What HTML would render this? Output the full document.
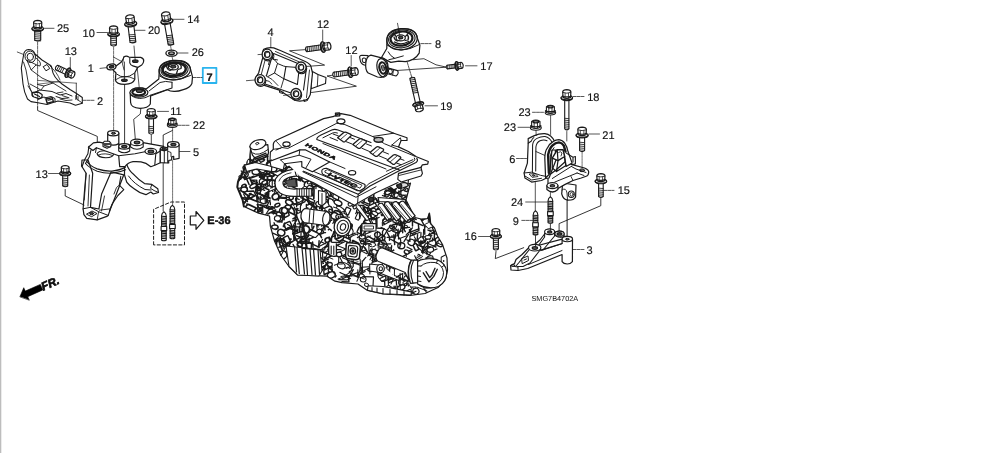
<!DOCTYPE html>
<html><head><meta charset="utf-8"><title>Engine mounts</title>
<style>html,body{margin:0;padding:0;background:#fff;overflow:hidden}svg{display:block}text{font-family:"Liberation Sans",sans-serif;fill:#111;text-rendering:geometricPrecision}</style>
</head><body>
<svg width="996" height="453" viewBox="0 0 996 453" stroke-linecap="round" stroke-linejoin="round">
<g style="will-change:transform">
<text x="57" y="32.3" font-size="11" stroke="#111" stroke-width="0.15">25</text>
<text x="82.6" y="36.7" font-size="11" stroke="#111" stroke-width="0.15">10</text>
<text x="148" y="33.8" font-size="11" stroke="#111" stroke-width="0.15">20</text>
<text x="187.3" y="22.8" font-size="11" stroke="#111" stroke-width="0.15">14</text>
<text x="191.7" y="55.6" font-size="11" stroke="#111" stroke-width="0.15">26</text>
<text x="64.7" y="55.2" font-size="11" stroke="#111" stroke-width="0.15">13</text>
<text x="87.7" y="71.7" font-size="11" stroke="#111" stroke-width="0.15">1</text>
<text x="97" y="104.5" font-size="11" stroke="#111" stroke-width="0.15">2</text>
<text x="170.3" y="115" font-size="11" stroke="#111" stroke-width="0.15">11</text>
<text x="192.8" y="129.2" font-size="11" stroke="#111" stroke-width="0.15">22</text>
<text x="193" y="156.2" font-size="11" stroke="#111" stroke-width="0.15">5</text>
<text x="35.6" y="177.7" font-size="11" stroke="#111" stroke-width="0.15">13</text>
<text x="267.4" y="36" font-size="11" stroke="#111" stroke-width="0.15">4</text>
<text x="317" y="28.1" font-size="11" stroke="#111" stroke-width="0.15">12</text>
<text x="345.3" y="53.7" font-size="11" stroke="#111" stroke-width="0.15">12</text>
<text x="435" y="47.5" font-size="11" stroke="#111" stroke-width="0.15">8</text>
<text x="480.3" y="70" font-size="11" stroke="#111" stroke-width="0.15">17</text>
<text x="440.2" y="110" font-size="11" stroke="#111" stroke-width="0.15">19</text>
<text x="587.2" y="100.5" font-size="11" stroke="#111" stroke-width="0.15">18</text>
<text x="518.5" y="116" font-size="11" stroke="#111" stroke-width="0.15">23</text>
<text x="503.8" y="131.4" font-size="11" stroke="#111" stroke-width="0.15">23</text>
<text x="602.3" y="138.5" font-size="11" stroke="#111" stroke-width="0.15">21</text>
<text x="509.2" y="162.8" font-size="11" stroke="#111" stroke-width="0.15">6</text>
<text x="617.7" y="194.4" font-size="11" stroke="#111" stroke-width="0.15">15</text>
<text x="511" y="206" font-size="11" stroke="#111" stroke-width="0.15">24</text>
<text x="512.8" y="225" font-size="11" stroke="#111" stroke-width="0.15">9</text>
<text x="464.6" y="240.2" font-size="11" stroke="#111" stroke-width="0.15">16</text>
<text x="586.5" y="254.2" font-size="11" stroke="#111" stroke-width="0.15">3</text>
<text x="206.6" y="80.9" font-size="11" font-weight="bold" stroke="#111" stroke-width="0.2">7</text>
<text x="207.3" y="224.2" font-size="11" font-weight="bold" stroke="#111" stroke-width="0.45">E-36</text>
<text x="531.5" y="301" font-size="7.3" >SMG7B4702A</text>
<rect x="202.8" y="67.8" width="13.6" height="15.2" fill="none" stroke="#2ab4ee" stroke-width="1.8"/>
<rect x="0" y="0" width="1.3" height="453" fill="#bdbdbd"/>
<g transform="rotate(-24 20 296.5)">
<path d="M20,296.5 L27,290 L27,293.7 L43.5,293.7 L43.5,299.8 L27,299.8 L27,303.3Z" fill="#000" stroke="#000" stroke-width="0.55" />
<text x="43.6" y="300.8" font-size="11.5" font-weight="bold" font-style="italic" stroke="#000" stroke-width="0.6">FR.</text>
</g>
<path d="M34.7,29.5 L34.7,40.0 Q37.7,42.0 40.7,40.0 L40.7,29.5" fill="#fff" stroke="#1a1a1a" stroke-width="1.1" />
<line x1="34.7" y1="31.0" x2="40.7" y2="31.4" stroke="#1a1a1a" stroke-width="0.83"/>
<line x1="34.7" y1="32.9" x2="40.7" y2="33.3" stroke="#1a1a1a" stroke-width="0.83"/>
<line x1="34.7" y1="34.8" x2="40.7" y2="35.199999999999996" stroke="#1a1a1a" stroke-width="0.83"/>
<line x1="34.7" y1="36.699999999999996" x2="40.7" y2="37.099999999999994" stroke="#1a1a1a" stroke-width="0.83"/>
<line x1="34.7" y1="38.599999999999994" x2="40.7" y2="38.99999999999999" stroke="#1a1a1a" stroke-width="0.83"/>
<line x1="34.7" y1="40.49999999999999" x2="40.7" y2="40.89999999999999" stroke="#1a1a1a" stroke-width="0.83"/>
<ellipse cx="37.7" cy="28.5" rx="5.75" ry="2.0" fill="#fff" stroke="#1a1a1a" stroke-width="1.21"/>
<path d="M31.950000000000003,28.5 Q31.950000000000003,31.3 37.7,31.3 Q43.45,31.3 43.45,28.5" fill="none" stroke="#1a1a1a" stroke-width="1.1" />
<path d="M33.905,28.1 L33.605000000000004,22.5 Q33.905,20.5 37.7,20.3 Q41.495000000000005,20.5 41.795,22.5 L41.495000000000005,28.1 Q37.7,30.0 33.905,28.1Z" fill="#fff" stroke="#1a1a1a" stroke-width="1.21" />
<path d="M33.905,23.2 Q37.7,24.7 41.495000000000005,23.2" fill="none" stroke="#1a1a1a" stroke-width="0.88" />
<path d="M33.305,26.7 Q37.7,28.5 42.095000000000006,26.7" fill="none" stroke="#1a1a1a" stroke-width="1.21" />
<path d="M35.992250000000006,24.1 L35.992250000000006,28.7 M39.40775,24.1 L39.40775,28.7" fill="none" stroke="#1a1a1a" stroke-width="0.77" />
<line x1="44" y1="28.3" x2="54" y2="28.3" stroke="#1a1a1a" stroke-width="0.74"/>
<path d="M110.8,35 L110.8,45 Q113.6,47 116.39999999999999,45 L116.39999999999999,35" fill="#fff" stroke="#1a1a1a" stroke-width="1.1" />
<line x1="110.8" y1="36.5" x2="116.39999999999999" y2="36.9" stroke="#1a1a1a" stroke-width="0.83"/>
<line x1="110.8" y1="38.4" x2="116.39999999999999" y2="38.8" stroke="#1a1a1a" stroke-width="0.83"/>
<line x1="110.8" y1="40.3" x2="116.39999999999999" y2="40.699999999999996" stroke="#1a1a1a" stroke-width="0.83"/>
<line x1="110.8" y1="42.199999999999996" x2="116.39999999999999" y2="42.599999999999994" stroke="#1a1a1a" stroke-width="0.83"/>
<line x1="110.8" y1="44.099999999999994" x2="116.39999999999999" y2="44.49999999999999" stroke="#1a1a1a" stroke-width="0.83"/>
<ellipse cx="113.6" cy="34.0" rx="5.75" ry="2.0" fill="#fff" stroke="#1a1a1a" stroke-width="1.21"/>
<path d="M107.85,34.0 Q107.85,36.8 113.6,36.8 Q119.35,36.8 119.35,34.0" fill="none" stroke="#1a1a1a" stroke-width="1.1" />
<path d="M109.80499999999999,33.6 L109.505,28.0 Q109.80499999999999,26 113.6,25.8 Q117.395,26 117.695,28.0 L117.395,33.6 Q113.6,35.5 109.80499999999999,33.6Z" fill="#fff" stroke="#1a1a1a" stroke-width="1.21" />
<path d="M109.80499999999999,28.7 Q113.6,30.2 117.395,28.7" fill="none" stroke="#1a1a1a" stroke-width="0.88" />
<path d="M109.205,32.2 Q113.6,34.0 117.99499999999999,32.2" fill="none" stroke="#1a1a1a" stroke-width="1.21" />
<path d="M111.89224999999999,29.6 L111.89224999999999,34.2 M115.30775,29.6 L115.30775,34.2" fill="none" stroke="#1a1a1a" stroke-width="0.77" />
<line x1="97" y1="32.5" x2="107.5" y2="32.5" stroke="#1a1a1a" stroke-width="0.74"/>
<line x1="113.6" y1="47" x2="113.6" y2="130" stroke="#1a1a1a" stroke-width="0.64" stroke-dasharray="3 1"/>
<g transform="rotate(-7 130.3 20.5)">
<path d="M127.4,25 L127.4,42 Q130.3,44 133.20000000000002,42 L133.20000000000002,25" fill="#fff" stroke="#1a1a1a" stroke-width="1.1" />
<line x1="127.4" y1="34.6" x2="133.20000000000002" y2="35.0" stroke="#1a1a1a" stroke-width="0.83"/>
<line x1="127.4" y1="36.5" x2="133.20000000000002" y2="36.9" stroke="#1a1a1a" stroke-width="0.83"/>
<line x1="127.4" y1="38.4" x2="133.20000000000002" y2="38.8" stroke="#1a1a1a" stroke-width="0.83"/>
<line x1="127.4" y1="40.3" x2="133.20000000000002" y2="40.699999999999996" stroke="#1a1a1a" stroke-width="0.83"/>
<line x1="127.4" y1="42.199999999999996" x2="133.20000000000002" y2="42.599999999999994" stroke="#1a1a1a" stroke-width="0.83"/>
<ellipse cx="130.3" cy="23.8" rx="6.0" ry="2.2" fill="#fff" stroke="#1a1a1a" stroke-width="1.21"/>
<path d="M124.30000000000001,23.8 Q124.30000000000001,26.880000000000003 130.3,26.880000000000003 Q136.3,26.880000000000003 136.3,23.8" fill="none" stroke="#1a1a1a" stroke-width="1.1" />
<path d="M126.34000000000002,23.36 L126.04000000000002,17.2 Q126.34000000000002,15 130.3,14.8 Q134.26000000000002,15 134.56000000000003,17.2 L134.26000000000002,23.36 Q130.3,25.45 126.34000000000002,23.36Z" fill="#fff" stroke="#1a1a1a" stroke-width="1.21" />
<path d="M126.34000000000002,17.97 Q130.3,19.62 134.26000000000002,17.97" fill="none" stroke="#1a1a1a" stroke-width="0.88" />
<path d="M125.74000000000002,21.82 Q130.3,23.8 134.86,21.82" fill="none" stroke="#1a1a1a" stroke-width="1.21" />
<path d="M128.518,18.96 L128.518,24.02 M132.08200000000002,18.96 L132.08200000000002,24.02" fill="none" stroke="#1a1a1a" stroke-width="0.77" />
</g>
<line x1="135" y1="30.3" x2="145" y2="30.3" stroke="#1a1a1a" stroke-width="0.74"/>
<g transform="rotate(-10 166.3 17.75)">
<path d="M163.5,22.5 L163.5,44.5 Q166.3,46.5 169.10000000000002,44.5 L169.10000000000002,22.5" fill="#fff" stroke="#1a1a1a" stroke-width="1.1" />
<line x1="163.5" y1="35.5" x2="169.10000000000002" y2="35.9" stroke="#1a1a1a" stroke-width="0.83"/>
<line x1="163.5" y1="37.4" x2="169.10000000000002" y2="37.8" stroke="#1a1a1a" stroke-width="0.83"/>
<line x1="163.5" y1="39.3" x2="169.10000000000002" y2="39.699999999999996" stroke="#1a1a1a" stroke-width="0.83"/>
<line x1="163.5" y1="41.199999999999996" x2="169.10000000000002" y2="41.599999999999994" stroke="#1a1a1a" stroke-width="0.83"/>
<line x1="163.5" y1="43.099999999999994" x2="169.10000000000002" y2="43.49999999999999" stroke="#1a1a1a" stroke-width="0.83"/>
<line x1="163.5" y1="44.99999999999999" x2="169.10000000000002" y2="45.39999999999999" stroke="#1a1a1a" stroke-width="0.83"/>
<ellipse cx="166.3" cy="21.200000000000003" rx="6.0" ry="2.3000000000000003" fill="#fff" stroke="#1a1a1a" stroke-width="1.21"/>
<path d="M160.3,21.200000000000003 Q160.3,24.42 166.3,24.42 Q172.3,24.42 172.3,21.200000000000003" fill="none" stroke="#1a1a1a" stroke-width="1.1" />
<path d="M162.34,20.740000000000002 L162.04,14.3 Q162.34,12 166.3,11.8 Q170.26000000000002,12 170.56000000000003,14.3 L170.26000000000002,20.740000000000002 Q166.3,22.924999999999997 162.34,20.740000000000002Z" fill="#fff" stroke="#1a1a1a" stroke-width="1.21" />
<path d="M162.34,15.105 Q166.3,16.83 170.26000000000002,15.105" fill="none" stroke="#1a1a1a" stroke-width="0.88" />
<path d="M161.74,19.13 Q166.3,21.200000000000003 170.86,19.13" fill="none" stroke="#1a1a1a" stroke-width="1.21" />
<path d="M164.518,16.14 L164.518,21.43 M168.08200000000002,16.14 L168.08200000000002,21.43" fill="none" stroke="#1a1a1a" stroke-width="0.77" />
</g>
<line x1="173" y1="19.3" x2="184" y2="19.3" stroke="#1a1a1a" stroke-width="0.74"/>
<ellipse cx="171.5" cy="53.2" rx="5.6" ry="3" fill="#fff" stroke="#1a1a1a" stroke-width="1.32"/>
<ellipse cx="171.5" cy="53.2" rx="2.8" ry="1.3" fill="#ccc" stroke="#1a1a1a" stroke-width="1.43"/>
<line x1="177.5" y1="53" x2="188" y2="53" stroke="#1a1a1a" stroke-width="0.74"/>
<line x1="170.6" y1="46" x2="171.3" y2="50" stroke="#1a1a1a" stroke-width="0.64"/>
<line x1="172" y1="56.5" x2="173.5" y2="63" stroke="#1a1a1a" stroke-width="0.64"/>
<path d="M23.5,55.5 Q24,50 28.5,49.5 Q33.5,49.5 35,54 L42,60 L49.5,64.8 Q52,66 52,69 Q53,77 62,84 L70,89.5 L76.5,93.5 L82.3,97.5 L82.3,103.2 L75.5,105.3 L70,103 L58,101 L53,102.5 L47,104.5 L38,102.8 L31,101.6 L27.5,99 Q24,92 23,84 L21.3,68 Z" fill="#fff" stroke="#1a1a1a" stroke-width="1.1" />
<ellipse cx="30.3" cy="56.8" rx="3.2" ry="3.6" fill="none" stroke="#1a1a1a" stroke-width="0.99"/>
<ellipse cx="30.3" cy="56.8" rx="5.2" ry="5.8" fill="none" stroke="#1a1a1a" stroke-width="0.88" transform="rotate(-20 30.3 56.8)"/>
<path d="M27,60.5 L31.2,70 L36,65 Z" fill="none" stroke="#1a1a1a" stroke-width="0.88" />
<path d="M23.5,62 L26,70 L28.5,84 L33,96" fill="none" stroke="#1a1a1a" stroke-width="0.88" />
<path d="M31.2,70 L42,78 L53,83 L66,91" fill="none" stroke="#1a1a1a" stroke-width="0.88" />
<path d="M36,58 Q42,62 40,66 L36,65" fill="none" stroke="#1a1a1a" stroke-width="0.88" />
<path d="M43.5,66.5 L47,64.5 L49.8,68.5 L46.3,70.6Z" fill="none" stroke="#1a1a1a" stroke-width="0.99" />
<path d="M50,66 Q57,72 60,80" fill="none" stroke="#1a1a1a" stroke-width="0.77" />
<path d="M33,93 L40,90 L52,91.5 L60,95 L66,93.5 L72,96" fill="none" stroke="#1a1a1a" stroke-width="0.99" />
<path d="M32.5,92.5 Q31,95.5 34,97 L39,98.7 Q43,97.5 42,94.5 L38.5,92.2 Z" fill="none" stroke="#1a1a1a" stroke-width="1.32" />
<path d="M34.5,94 L39.5,96.5" fill="none" stroke="#1a1a1a" stroke-width="1.21" />
<path d="M38,99.5 L44,97 L47,98.5 M45,98 L51,96.5 L55,98.5 L55,102 M56,96.5 L62,98.5 L68,98" fill="none" stroke="#1a1a1a" stroke-width="0.99" />
<path d="M46,99.3 L52.2,97.6 L53.4,101.6 L47.2,103.3Z" fill="#fff" stroke="#1a1a1a" stroke-width="1.43" />
<path d="M48,100.3 L51.5,99.4" fill="none" stroke="#1a1a1a" stroke-width="1.1" />
<path d="M60,99 L66,100.5 L72,100 M62,95.5 L69,97.8 M57,93 L63,92" fill="none" stroke="#1a1a1a" stroke-width="0.88" />
<path d="M28,86 L31.5,91.5 M30,84 L40,89.5" fill="none" stroke="#1a1a1a" stroke-width="0.88" />
<path d="M75.8,95.5 L75.8,99.5 M78,96.5 L78,100" fill="none" stroke="#1a1a1a" stroke-width="0.88" />
<path d="M76.5,93.5 L76.5,99 L82.3,103" fill="none" stroke="#1a1a1a" stroke-width="0.88" />
<path d="M53,83 L44,86 L37.6,84.5 M44,86 L41,90" fill="none" stroke="#1a1a1a" stroke-width="0.88" />
<line x1="17.3" y1="52" x2="23.3" y2="54.4" stroke="#1a1a1a" stroke-width="0.74"/>
<line x1="37.7" y1="80.4" x2="76.3" y2="83.2" stroke="#1a1a1a" stroke-width="0.64"/>
<line x1="37.7" y1="84.2" x2="60" y2="81.5" stroke="#1a1a1a" stroke-width="0.64"/>
<line x1="76.3" y1="83.2" x2="76.3" y2="94" stroke="#1a1a1a" stroke-width="0.74"/>
<line x1="83" y1="100.3" x2="94" y2="100.3" stroke="#1a1a1a" stroke-width="0.74" stroke-dasharray="3 1"/>
<line x1="37.6" y1="42" x2="37.6" y2="107" stroke="#1a1a1a" stroke-width="0.69" stroke-dasharray="3 1"/>
<path d="M37.6,107 L37.6,110.5 L97.3,136.4 L97.3,142.9" fill="none" stroke="#1a1a1a" stroke-width="0.88" />
<g transform="rotate(114.5 70.3 73.8)">
<path d="M67.8,77.0 L67.8,88.8 Q70.3,90.8 72.8,88.8 L72.8,77.0" fill="#fff" stroke="#1a1a1a" stroke-width="1.1" />
<line x1="67.8" y1="81.7" x2="72.8" y2="82.10000000000001" stroke="#1a1a1a" stroke-width="0.83"/>
<line x1="67.8" y1="83.60000000000001" x2="72.8" y2="84.00000000000001" stroke="#1a1a1a" stroke-width="0.83"/>
<line x1="67.8" y1="85.50000000000001" x2="72.8" y2="85.90000000000002" stroke="#1a1a1a" stroke-width="0.83"/>
<line x1="67.8" y1="87.40000000000002" x2="72.8" y2="87.80000000000003" stroke="#1a1a1a" stroke-width="0.83"/>
<ellipse cx="70.3" cy="76.3" rx="5.0" ry="1.7000000000000002" fill="#fff" stroke="#1a1a1a" stroke-width="1.21"/>
<path d="M65.3,76.3 Q65.3,78.68 70.3,78.68 Q75.3,78.68 75.3,76.3" fill="none" stroke="#1a1a1a" stroke-width="1.1" />
<path d="M67.0,75.96 L66.7,71.2 Q67.0,69.5 70.3,69.3 Q73.6,69.5 73.89999999999999,71.2 L73.6,75.96 Q70.3,77.575 67.0,75.96Z" fill="#fff" stroke="#1a1a1a" stroke-width="1.21" />
<path d="M67.0,71.795 Q70.3,73.07 73.6,71.795" fill="none" stroke="#1a1a1a" stroke-width="0.88" />
<path d="M66.4,74.77 Q70.3,76.3 74.19999999999999,74.77" fill="none" stroke="#1a1a1a" stroke-width="1.21" />
<path d="M68.815,72.56 L68.815,76.47 M71.785,72.56 L71.785,76.47" fill="none" stroke="#1a1a1a" stroke-width="0.77" />
</g>
<line x1="70.3" y1="57.5" x2="70.3" y2="68" stroke="#1a1a1a" stroke-width="0.74"/>
<path d="M115.4,66.4 L121.4,61.9 Q123.5,59 123.8,57 Q126.3,55.2 128.8,57 L131.8,57.4 L140.7,57.4 Q144,58.5 143.7,61 Q143.5,63.5 141.7,64.9 L137.7,67.4 L134.8,72.8 L134.8,79.3 Q133,84.3 124.8,84.3 Q116,84.3 115.4,79.8 L115.9,72.8 L112.9,69.9 Z" fill="#fff" stroke="#1a1a1a" stroke-width="1.21" />
<ellipse cx="111.4" cy="66.9" rx="4.6" ry="2.9" fill="#fff" stroke="#1a1a1a" stroke-width="1.21" transform="rotate(-10 111.4 66.9)"/>
<ellipse cx="111.6" cy="66.8" rx="2.3" ry="1.3" fill="#333" stroke="#1a1a1a" stroke-width="1.1" transform="rotate(-10 111.6 66.8)"/>
<path d="M116.5,74 Q124.8,80.5 134,73.5" fill="none" stroke="#1a1a1a" stroke-width="0.99" />
<path d="M116,79.5 Q124.8,73.5 134.5,79" fill="none" stroke="#1a1a1a" stroke-width="0.88" />
<ellipse cx="124.4" cy="80.2" rx="2.9" ry="1.2" fill="#333" stroke="#1a1a1a" stroke-width="1.1"/>
<ellipse cx="135.3" cy="61.2" rx="2.8" ry="1.3" fill="#333" stroke="#1a1a1a" stroke-width="1.1"/>
<path d="M129.8,57.5 L129.8,62.9 Q130.5,65.5 132.8,65.9 L137.7,67.4" fill="none" stroke="#1a1a1a" stroke-width="1.1" />
<path d="M123.8,57 L122.5,64 L124.1,70" fill="none" stroke="#1a1a1a" stroke-width="0.77" />
<line x1="124.4" y1="62" x2="124.4" y2="79" stroke="#1a1a1a" stroke-width="0.83"/>
<line x1="124.6" y1="85" x2="124.6" y2="143.5" stroke="#1a1a1a" stroke-width="0.87"/>
<line x1="100" y1="68.4" x2="107" y2="67.6" stroke="#1a1a1a" stroke-width="0.74"/>
<line x1="113.4" y1="57" x2="121.8" y2="61.6" stroke="#1a1a1a" stroke-width="0.74"/>
<line x1="134" y1="46" x2="135.2" y2="60" stroke="#1a1a1a" stroke-width="0.74"/>
<line x1="137.2" y1="68" x2="139.3" y2="88" stroke="#1a1a1a" stroke-width="0.74"/>
<path d="M159.2,72 Q158.5,62 173,60.4 Q189.5,59.5 190.6,69.5 L192.5,76.9 L191.9,83.5 Q190,88 183.3,89.6 Q178,91.6 174,91.4 Q170,91.3 167.4,89.7 L150.6,96 L150.3,104 Q148,108.3 140,108.3 Q131,108 130.6,102.5 L130.2,93 Q130.5,88.2 138.5,87.8 Q143.5,87.7 146.2,89 L158.8,79 Z" fill="#fff" stroke="#1a1a1a" stroke-width="1.21" />
<ellipse cx="174.7" cy="70.2" rx="15.7" ry="9.6" fill="none" stroke="#1a1a1a" stroke-width="1.21" transform="rotate(-4 174.7 70.2)"/>
<ellipse cx="174.5" cy="69.8" rx="13.6" ry="8" fill="none" stroke="#1a1a1a" stroke-width="1.1" transform="rotate(-4 174.5 69.8)"/>
<ellipse cx="174.2" cy="69.4" rx="11.6" ry="6.6" fill="none" stroke="#1a1a1a" stroke-width="2.42" transform="rotate(-4 174.2 69.4)"/>
<ellipse cx="173.3" cy="66.9" rx="5" ry="3" fill="#fff" stroke="#1a1a1a" stroke-width="1.32"/>
<ellipse cx="173.2" cy="66.6" rx="2.6" ry="1.4" fill="#444" stroke="#1a1a1a" stroke-width="1.1"/>
<path d="M165.5,71.5 Q172,76.5 181,73 M166.5,66 Q167,69.5 170,70.5 L172.5,69 M179.5,63.8 Q182,65.5 181,68.5 L178,69.5 M167.5,64.5 L169.5,66.3 M177.5,70.5 L176.5,73.5" fill="none" stroke="#1a1a1a" stroke-width="1.26" />
<path d="M159.5,76 Q170,84.5 190.5,75.5" fill="none" stroke="#1a1a1a" stroke-width="0.99" />
<path d="M172,82.2 L172,88.1 L150.4,95.2" fill="none" stroke="#1a1a1a" stroke-width="1.1" />
<path d="M172,82.2 Q165,80.5 160,82.5 L149,91" fill="none" stroke="#1a1a1a" stroke-width="0.99" />
<ellipse cx="138.9" cy="92.5" rx="9" ry="4.7" fill="#fff" stroke="#1a1a1a" stroke-width="1.21"/>
<ellipse cx="138.7" cy="92.2" rx="6.4" ry="3.2" fill="none" stroke="#1a1a1a" stroke-width="2.2"/>
<ellipse cx="139.4" cy="90.9" rx="3" ry="1.5" fill="#555" stroke="#1a1a1a" stroke-width="1.1"/>
<path d="M130.3,95 Q139,102 150.3,95.5" fill="none" stroke="#1a1a1a" stroke-width="0.99" />
<line x1="193" y1="77.5" x2="202" y2="77.5" stroke="#1a1a1a" stroke-width="0.74" stroke-dasharray="3 1"/>
<path d="M140.8,108.5 L140.3,114 L133.7,119.3 L135.3,139" fill="none" stroke="#1a1a1a" stroke-width="0.83" />
<path d="M148.89999999999998,117.2 L148.89999999999998,133.2 Q151.2,135.2 153.5,133.2 L153.5,117.2" fill="#fff" stroke="#1a1a1a" stroke-width="1.1" />
<line x1="148.89999999999998" y1="126.35000000000001" x2="153.5" y2="126.75000000000001" stroke="#1a1a1a" stroke-width="0.83"/>
<line x1="148.89999999999998" y1="128.25" x2="153.5" y2="128.65" stroke="#1a1a1a" stroke-width="0.83"/>
<line x1="148.89999999999998" y1="130.15" x2="153.5" y2="130.55" stroke="#1a1a1a" stroke-width="0.83"/>
<line x1="148.89999999999998" y1="132.05" x2="153.5" y2="132.45000000000002" stroke="#1a1a1a" stroke-width="0.83"/>
<ellipse cx="151.2" cy="116.3" rx="5.75" ry="1.9000000000000001" fill="#fff" stroke="#1a1a1a" stroke-width="1.21"/>
<path d="M145.45,116.3 Q145.45,118.96000000000001 151.2,118.96000000000001 Q156.95,118.96000000000001 156.95,116.3" fill="none" stroke="#1a1a1a" stroke-width="1.1" />
<path d="M147.405,115.92 L147.105,110.60000000000001 Q147.405,108.7 151.2,108.5 Q154.99499999999998,108.7 155.295,110.60000000000001 L154.99499999999998,115.92 Q151.2,117.72500000000001 147.405,115.92Z" fill="#fff" stroke="#1a1a1a" stroke-width="1.21" />
<path d="M147.405,111.265 Q151.2,112.69 154.99499999999998,111.265" fill="none" stroke="#1a1a1a" stroke-width="0.88" />
<path d="M146.805,114.59 Q151.2,116.3 155.59499999999997,114.59" fill="none" stroke="#1a1a1a" stroke-width="1.21" />
<path d="M149.49224999999998,112.12 L149.49224999999998,116.49000000000001 M152.90775,112.12 L152.90775,116.49000000000001" fill="none" stroke="#1a1a1a" stroke-width="0.77" />
<line x1="157.5" y1="111.4" x2="168.5" y2="111.4" stroke="#1a1a1a" stroke-width="0.74"/>
<line x1="151.3" y1="135" x2="151.3" y2="151" stroke="#1a1a1a" stroke-width="0.83"/>
<ellipse cx="172.3" cy="125.08800000000001" rx="5.0" ry="2.304" fill="#fff" stroke="#1a1a1a" stroke-width="1.1"/>
<path d="M168.5,124.89600000000002 L168.5,119.328 Q172.3,116.83200000000001 176.10000000000002,119.328 L176.10000000000002,124.89600000000002 Q172.3,126.72000000000001 168.5,124.89600000000002Z" fill="#fff" stroke="#1a1a1a" stroke-width="1.1" />
<ellipse cx="172.3" cy="119.52000000000001" rx="2.7359999999999998" ry="1.056" fill="#aaa" stroke="#1a1a1a" stroke-width="1.32"/>
<path d="M170.78,120.96000000000001 L170.78,125.28 M173.82000000000002,120.96000000000001 L173.82000000000002,125.28" fill="none" stroke="#1a1a1a" stroke-width="0.88" />
<path d="M167.7,123.36000000000001 Q172.3,125.28 176.90000000000003,123.36000000000001" fill="none" stroke="#1a1a1a" stroke-width="1.43" />
<line x1="178" y1="125.3" x2="190" y2="125.3" stroke="#1a1a1a" stroke-width="0.74" stroke-dasharray="3 1"/>
<path d="M81.6,166 L86.1,173.3 L84.6,190 L83.1,208.8 L83.9,214.7 L86.8,218.4 L97.2,219.9 L106.8,216.4 L108.2,215.4 L110.5,208.8 L116.4,194 L123.8,174.8 L111.2,171.8 L101.6,194 L98.9,209 L90.5,207.3 L92.7,173.3 L88,160 L82,160 Z" fill="#fff" stroke="#1a1a1a" stroke-width="1.21" />
<path d="M86.1,173.3 L84.3,200 M89.4,175 L88,206" fill="none" stroke="#1a1a1a" stroke-width="0.88" />
<path d="M83.1,208.8 L90.5,207.3 L98.6,211.7 L108.2,215.4 M86.8,214 L92,211 L97,213.5 L92,216.5Z" fill="none" stroke="#1a1a1a" stroke-width="0.99" />
<ellipse cx="91.6" cy="213.6" rx="2" ry="1.1" fill="#444" stroke="#1a1a1a" stroke-width="0.99"/>
<path d="M98.6,211.7 L97.2,219.9 M110.5,208.8 L99.4,210.2" fill="none" stroke="#1a1a1a" stroke-width="0.88" />
<path d="M104.5,196 L101.5,211" fill="none" stroke="#1a1a1a" stroke-width="0.88" />
<path d="M120.8,176.3 L119.3,185.1 L123.8,189.6 L117.9,195.5 L112,204.3 L109.5,211" fill="none" stroke="#1a1a1a" stroke-width="1.1" />
<path d="M119.3,185.1 L116.5,187.5 L114,194" fill="none" stroke="#1a1a1a" stroke-width="0.88" />
<path d="M124.5,164 L126.7,164.4 Q129,171 134.1,174.8 Q139,180 144.5,183.6 L151.8,184.4 L157.8,188.8 L158.5,192.5 L153.3,194 L150.8,192 L145.9,194.7 Q139,193 134.1,188.8 Q129,185.5 126.7,182.2 L124.5,174.8 Z" fill="#fff" stroke="#1a1a1a" stroke-width="1.21" />
<path d="M128.5,176 Q134,184 145,189.5 L151,190 M151.8,184.4 L150.5,188.3 L154,190.5 L158.5,192.5" fill="none" stroke="#1a1a1a" stroke-width="0.99" />
<path d="M86.8,161.5 Q90,166 97.2,168.9 Q105,171.5 112,171 Q120,170.3 125.2,167.4" fill="none" stroke="#1a1a1a" stroke-width="1.21" />
<path d="M85.5,163.5 Q90,168.5 97.2,171.2 Q105,173.7 112,173.2 Q120,172.5 125.6,169.8" fill="none" stroke="#1a1a1a" stroke-width="1.1" />
<path d="M88.9,146.4 L87.9,153.8 L84.5,160 L82,166.7 M91,150 L89.5,156.5 L85.5,163.5" fill="none" stroke="#1a1a1a" stroke-width="1.1" />
<path d="M97,153.5 Q99,150.5 105.8,150.8 Q112,151 113.5,154 Q113.5,157.5 105.8,157.8 Q98,157.5 97,153.5Z" fill="#fff" stroke="#1a1a1a" stroke-width="1.1" />
<path d="M98.5,155 Q105,152.3 112.5,155.5" fill="none" stroke="#1a1a1a" stroke-width="0.88" />
<path d="M88.4,147.3 L93.4,142.9 L99,142.2 L107.8,143.8 L118.7,143.6 L119.5,147.5 L130.5,144.5 L143,142.6 L163.7,146.4 L160.3,148.8 L160.3,162.7 L154.8,165.2 L150.8,166.7 Q146,162.5 141,161.8 Q136,161.3 133,161.7 Q128,162.5 125,166.7 L119.7,166.7 L118.7,155.8 L96.4,147.8 L93,150.5 Z" fill="#fff" stroke="#1a1a1a" stroke-width="1.21" />
<path d="M118.7,155.8 L135,153.8 L144.9,151.8 M155.8,153.8 L154.8,164.7 M155.8,153.8 L160.3,151" fill="none" stroke="#1a1a1a" stroke-width="1.1" />
<path d="M96.4,147.8 L95.5,152.5" fill="none" stroke="#1a1a1a" stroke-width="0.99" />
<path d="M107.7,133.2 L107.7,143.4 Q113.3,147 118.8,143.4 L118.8,133.2" fill="#fff" stroke="#1a1a1a" stroke-width="1.21" />
<ellipse cx="113.25" cy="133.2" rx="5.6" ry="2.6" fill="#fff" stroke="#1a1a1a" stroke-width="1.21"/>
<ellipse cx="113.4" cy="133.3" rx="2" ry="1" fill="#555" stroke="#1a1a1a" stroke-width="0.99"/>
<path d="M103,143.2 L104.3,141.3 L109.3,141.3 L110.8,143.2 L110.8,146.5 L107,148.3 L103,146.5Z" fill="#fff" stroke="#1a1a1a" stroke-width="1.1" />
<path d="M103.5,144 L110.5,144 M104.5,145.5 L109.5,147" fill="none" stroke="#444" stroke-width="1.76" />
<path d="M118.7,146.4 L118.7,151 Q124.2,154.5 129.7,151 L129.7,146.4" fill="#fff" stroke="#1a1a1a" stroke-width="1.1" />
<ellipse cx="124.2" cy="146.4" rx="5.5" ry="2.7" fill="#fff" stroke="#1a1a1a" stroke-width="1.21"/>
<ellipse cx="124.3" cy="146.6" rx="2.6" ry="1.2" fill="#555" stroke="#1a1a1a" stroke-width="1.32"/>
<path d="M130.6,142.4 L130.6,147 Q136.9,151.6 143.2,147 L143.2,142.4" fill="#fff" stroke="#1a1a1a" stroke-width="1.1" />
<ellipse cx="136.9" cy="142.4" rx="6.3" ry="3.2" fill="#fff" stroke="#1a1a1a" stroke-width="1.21"/>
<ellipse cx="137" cy="142.5" rx="2.7" ry="1.3" fill="#555" stroke="#1a1a1a" stroke-width="1.21"/>
<ellipse cx="150.8" cy="151.3" rx="5.8" ry="3" fill="#fff" stroke="#1a1a1a" stroke-width="1.21"/>
<ellipse cx="150.9" cy="151.6" rx="2.8" ry="1.4" fill="#555" stroke="#1a1a1a" stroke-width="1.21"/>
<path d="M160.3,148.8 L160.3,162.7 L168.7,163 L168.7,160.5 L171.7,159.8 L171.7,156.8 L173.7,156.3 L173.7,159.5 L179.1,158.3 L179.1,144.4 L167.7,144.4 L167.7,147.5 Z" fill="#fff" stroke="#1a1a1a" stroke-width="1.21" />
<ellipse cx="163.9" cy="148.8" rx="3.3" ry="1.7" fill="#fff" stroke="#1a1a1a" stroke-width="1.1"/>
<ellipse cx="163.9" cy="148.9" rx="1.6" ry="0.9" fill="#555" stroke="#1a1a1a" stroke-width="1.1"/>
<path d="M160.5,149.5 Q164,152.5 167.5,149.5 M167.7,147.5 L167.7,162.8 M164.3,151 L164.3,162.8" fill="none" stroke="#1a1a1a" stroke-width="0.99" />
<ellipse cx="173.3" cy="144.4" rx="5.8" ry="2.8" fill="#fff" stroke="#1a1a1a" stroke-width="1.21"/>
<ellipse cx="173.4" cy="144.6" rx="2.6" ry="1.2" fill="#555" stroke="#1a1a1a" stroke-width="1.1"/>
<path d="M168.5,151.5 L171,152.5 L171,156.5" fill="none" stroke="#1a1a1a" stroke-width="0.88" />
<line x1="179.5" y1="151.5" x2="190" y2="151.5" stroke="#1a1a1a" stroke-width="0.74"/>
<line x1="172.6" y1="128.5" x2="172.6" y2="141.5" stroke="#1a1a1a" stroke-width="0.64" stroke-dasharray="2 1"/>
<path d="M172.4,130.5 L163.2,135 L163.2,147" fill="none" stroke="#1a1a1a" stroke-width="0.88" />
<line x1="163.2" y1="163.5" x2="163.2" y2="211" stroke="#1a1a1a" stroke-width="0.83"/>
<line x1="172.6" y1="160.5" x2="172.6" y2="204.5" stroke="#1a1a1a" stroke-width="0.64" stroke-dasharray="2 1"/>
<path d="M62.7,174.2 L62.7,185.7 Q65.2,187.7 67.7,185.7 L67.7,174.2" fill="#fff" stroke="#1a1a1a" stroke-width="1.1" />
<line x1="62.7" y1="178.2" x2="67.7" y2="178.6" stroke="#1a1a1a" stroke-width="0.83"/>
<line x1="62.7" y1="180.1" x2="67.7" y2="180.5" stroke="#1a1a1a" stroke-width="0.83"/>
<line x1="62.7" y1="182.0" x2="67.7" y2="182.4" stroke="#1a1a1a" stroke-width="0.83"/>
<line x1="62.7" y1="183.9" x2="67.7" y2="184.3" stroke="#1a1a1a" stroke-width="0.83"/>
<line x1="62.7" y1="185.8" x2="67.7" y2="186.20000000000002" stroke="#1a1a1a" stroke-width="0.83"/>
<ellipse cx="65.2" cy="173.29999999999998" rx="5.5" ry="1.9000000000000001" fill="#fff" stroke="#1a1a1a" stroke-width="1.21"/>
<path d="M59.7,173.29999999999998 Q59.7,175.95999999999998 65.2,175.95999999999998 Q70.7,175.95999999999998 70.7,173.29999999999998" fill="none" stroke="#1a1a1a" stroke-width="1.1" />
<path d="M61.57,172.92 L61.27,167.6 Q61.57,165.7 65.2,165.5 Q68.83,165.7 69.13,167.6 L68.83,172.92 Q65.2,174.725 61.57,172.92Z" fill="#fff" stroke="#1a1a1a" stroke-width="1.21" />
<path d="M61.57,168.265 Q65.2,169.69 68.83,168.265" fill="none" stroke="#1a1a1a" stroke-width="0.88" />
<path d="M60.97,171.58999999999997 Q65.2,173.29999999999998 69.42999999999999,171.58999999999997" fill="none" stroke="#1a1a1a" stroke-width="1.21" />
<path d="M63.566500000000005,169.11999999999998 L63.566500000000005,173.48999999999998 M66.8335,169.11999999999998 L66.8335,173.48999999999998" fill="none" stroke="#1a1a1a" stroke-width="0.77" />
<line x1="48.5" y1="173.5" x2="59.5" y2="173.5" stroke="#1a1a1a" stroke-width="0.74"/>
<path d="M65.2,189.5 L65.2,196 L84,205" fill="none" stroke="#1a1a1a" stroke-width="0.88" />
<path d="M153.6,244.9 L153.6,209.3 L171,202 L184.5,202 L184.5,244.9 Z" fill="none" stroke="#1a1a1a" stroke-width="0.99" stroke-dasharray="3.2 2.2"/>
<path d="M161.6,240.3 L161.6,215.8 Q161.6,213.3 163.9,211.8 Q166.20000000000002,213.3 166.20000000000002,215.8 L166.20000000000002,240.3 Q163.9,241.3 161.6,240.3Z" fill="#fff" stroke="#1a1a1a" stroke-width="1.1" />
<line x1="161.6" y1="216.3" x2="166.20000000000002" y2="216.60000000000002" stroke="#1a1a1a" stroke-width="1.06"/>
<line x1="161.6" y1="218.0" x2="166.20000000000002" y2="218.3" stroke="#1a1a1a" stroke-width="1.06"/>
<line x1="161.6" y1="219.7" x2="166.20000000000002" y2="220.0" stroke="#1a1a1a" stroke-width="1.06"/>
<line x1="161.6" y1="221.39999999999998" x2="166.20000000000002" y2="221.7" stroke="#1a1a1a" stroke-width="1.06"/>
<line x1="161.6" y1="223.09999999999997" x2="166.20000000000002" y2="223.39999999999998" stroke="#1a1a1a" stroke-width="1.06"/>
<line x1="161.6" y1="224.79999999999995" x2="166.20000000000002" y2="225.09999999999997" stroke="#1a1a1a" stroke-width="1.06"/>
<line x1="161.6" y1="231.5999999999999" x2="166.20000000000002" y2="231.89999999999992" stroke="#1a1a1a" stroke-width="1.06"/>
<line x1="161.6" y1="233.2999999999999" x2="166.20000000000002" y2="233.5999999999999" stroke="#1a1a1a" stroke-width="1.06"/>
<line x1="161.6" y1="234.9999999999999" x2="166.20000000000002" y2="235.2999999999999" stroke="#1a1a1a" stroke-width="1.06"/>
<line x1="161.6" y1="236.69999999999987" x2="166.20000000000002" y2="236.9999999999999" stroke="#1a1a1a" stroke-width="1.06"/>
<line x1="161.6" y1="238.39999999999986" x2="166.20000000000002" y2="238.69999999999987" stroke="#1a1a1a" stroke-width="1.06"/>
<path d="M161.1,226.5 L166.70000000000002,226.5 L166.70000000000002,230.5 L161.1,230.5Z" fill="#fff" stroke="#1a1a1a" stroke-width="1.1" />
<path d="M170.1,238.3 L170.1,209.3 Q170.1,206.8 172.4,205.3 Q174.70000000000002,206.8 174.70000000000002,209.3 L174.70000000000002,238.3 Q172.4,239.3 170.1,238.3Z" fill="#fff" stroke="#1a1a1a" stroke-width="1.1" />
<line x1="170.1" y1="209.8" x2="174.70000000000002" y2="210.10000000000002" stroke="#1a1a1a" stroke-width="1.06"/>
<line x1="170.1" y1="211.5" x2="174.70000000000002" y2="211.8" stroke="#1a1a1a" stroke-width="1.06"/>
<line x1="170.1" y1="213.2" x2="174.70000000000002" y2="213.5" stroke="#1a1a1a" stroke-width="1.06"/>
<line x1="170.1" y1="214.89999999999998" x2="174.70000000000002" y2="215.2" stroke="#1a1a1a" stroke-width="1.06"/>
<line x1="170.1" y1="216.59999999999997" x2="174.70000000000002" y2="216.89999999999998" stroke="#1a1a1a" stroke-width="1.06"/>
<line x1="170.1" y1="218.29999999999995" x2="174.70000000000002" y2="218.59999999999997" stroke="#1a1a1a" stroke-width="1.06"/>
<line x1="170.1" y1="219.99999999999994" x2="174.70000000000002" y2="220.29999999999995" stroke="#1a1a1a" stroke-width="1.06"/>
<line x1="170.1" y1="221.69999999999993" x2="174.70000000000002" y2="221.99999999999994" stroke="#1a1a1a" stroke-width="1.06"/>
<line x1="170.1" y1="223.39999999999992" x2="174.70000000000002" y2="223.69999999999993" stroke="#1a1a1a" stroke-width="1.06"/>
<line x1="170.1" y1="230.19999999999987" x2="174.70000000000002" y2="230.4999999999999" stroke="#1a1a1a" stroke-width="1.06"/>
<line x1="170.1" y1="231.89999999999986" x2="174.70000000000002" y2="232.19999999999987" stroke="#1a1a1a" stroke-width="1.06"/>
<line x1="170.1" y1="233.59999999999985" x2="174.70000000000002" y2="233.89999999999986" stroke="#1a1a1a" stroke-width="1.06"/>
<line x1="170.1" y1="235.29999999999984" x2="174.70000000000002" y2="235.59999999999985" stroke="#1a1a1a" stroke-width="1.06"/>
<line x1="170.1" y1="236.99999999999983" x2="174.70000000000002" y2="237.29999999999984" stroke="#1a1a1a" stroke-width="1.06"/>
<path d="M169.6,224.5 L175.20000000000002,224.5 L175.20000000000002,228.5 L169.6,228.5Z" fill="#fff" stroke="#1a1a1a" stroke-width="1.1" />
<path d="M190.3,216 L196,216 L196,211.5 L203.8,220.4 L196,229.3 L196,224.8 L190.3,224.8 Z" fill="#fff" stroke="#1a1a1a" stroke-width="1.21" />
<path d="M311.5,71 L318,74.5 L326,77.6 L325.5,83.6 L311,88.8 Z" fill="#fff" stroke="#1a1a1a" stroke-width="1.1" />
<path d="M318,74.5 L317.3,86.5" fill="none" stroke="#1a1a1a" stroke-width="0.88" />
<path d="M263.7,49.3 Q268,47 273.7,47.9 L280.9,50.8 L305.3,61.5 Q310,63.5 311,66.6 L312.5,73 L310.3,94.5 L308.2,98.8 Q304,101.5 298.1,101 Q294,100.5 292.4,98.8 L279.4,90.2 L263.7,85.2 Q258,85 256.5,83 Q254.8,80 255.8,77.3 L258.6,73 L262.9,57.2 Q262,52 263.7,49.3 Z" fill="#fff" stroke="#1a1a1a" stroke-width="1.21" />
<path d="M272,57.5 L273.7,53.6 L296.7,63 M271.5,58.5 L266.5,75.5 M265,84 L291,93 M306,71.5 L303.5,90" fill="none" stroke="#1a1a1a" stroke-width="1.1" />
<path d="M275.5,51.5 L299,61.8 M261,75.5 L265.5,58.5 M306.5,97.5 L309.5,70" fill="none" stroke="#1a1a1a" stroke-width="0.88" />
<path d="M272,58.5 Q276,60 277.5,63.5 L283.5,66 L285.9,66.6 L295.2,67.3 M277.5,63.5 L274.5,73 L268,76.5 M274.5,73 L283.8,78.8 M270,59 L268.5,64.5" fill="none" stroke="#1a1a1a" stroke-width="0.99" />
<path d="M285.9,66.6 L283.8,78.8 L297.4,84.5 L298.8,72.3 L295.2,67.3" fill="none" stroke="#1a1a1a" stroke-width="1.1" />
<path d="M264.5,80 Q270,80.5 272,84 M266,75.8 Q272,78 278,85.5 M283.8,78.8 L281,88" fill="none" stroke="#1a1a1a" stroke-width="0.88" />
<path d="M279.5,90.5 L279.5,92.5 L283,93.5 L283,91.8 M304,99.5 L304,101.5 L307.5,100.5 L307.7,98.5" fill="none" stroke="#1a1a1a" stroke-width="0.99" />
<ellipse cx="267.8" cy="55.6" rx="5.1" ry="5.3" fill="#fff" stroke="#1a1a1a" stroke-width="1.1"/>
<ellipse cx="267.2" cy="54.4" rx="5.1" ry="5.3" fill="#fff" stroke="#1a1a1a" stroke-width="1.26"/>
<ellipse cx="267.2" cy="54.4" rx="2.7" ry="2.9" fill="#fff" stroke="#1a1a1a" stroke-width="1.26"/>
<path d="M265.4,56.0 Q264.59999999999997,52.9 267.7,52.0" fill="none" stroke="#1a1a1a" stroke-width="0.88" />
<ellipse cx="301.6" cy="68.5" rx="5.1" ry="5.3" fill="#fff" stroke="#1a1a1a" stroke-width="1.1"/>
<ellipse cx="301" cy="67.3" rx="5.1" ry="5.3" fill="#fff" stroke="#1a1a1a" stroke-width="1.26"/>
<ellipse cx="301" cy="67.3" rx="2.7" ry="2.9" fill="#fff" stroke="#1a1a1a" stroke-width="1.26"/>
<path d="M299.2,68.89999999999999 Q298.4,65.8 301.5,64.89999999999999" fill="none" stroke="#1a1a1a" stroke-width="0.88" />
<ellipse cx="260.70000000000005" cy="81.10000000000001" rx="5.1" ry="5.3" fill="#fff" stroke="#1a1a1a" stroke-width="1.1"/>
<ellipse cx="260.1" cy="79.9" rx="5.1" ry="5.3" fill="#fff" stroke="#1a1a1a" stroke-width="1.26"/>
<ellipse cx="260.1" cy="79.9" rx="2.7" ry="2.9" fill="#fff" stroke="#1a1a1a" stroke-width="1.26"/>
<path d="M258.3,81.5 Q257.5,78.4 260.6,77.5" fill="none" stroke="#1a1a1a" stroke-width="0.88" />
<ellipse cx="296.6" cy="95.0" rx="5.1" ry="5.3" fill="#fff" stroke="#1a1a1a" stroke-width="1.1"/>
<ellipse cx="296" cy="93.8" rx="5.1" ry="5.3" fill="#fff" stroke="#1a1a1a" stroke-width="1.26"/>
<ellipse cx="296" cy="93.8" rx="2.7" ry="2.9" fill="#fff" stroke="#1a1a1a" stroke-width="1.26"/>
<path d="M294.2,95.39999999999999 Q293.4,92.3 296.5,91.39999999999999" fill="none" stroke="#1a1a1a" stroke-width="0.88" />
<path d="M271.5,51.5 Q275,54 273.5,58.5 M271,57.5 Q274,60 277.5,60" fill="none" stroke="#1a1a1a" stroke-width="0.99" />
<line x1="270.8" y1="37.5" x2="270.8" y2="47.5" stroke="#1a1a1a" stroke-width="0.74"/>
<line x1="258" y1="54.6" x2="262.3" y2="54.3" stroke="#1a1a1a" stroke-width="0.74"/>
<line x1="246.4" y1="80.7" x2="255" y2="80" stroke="#1a1a1a" stroke-width="0.74"/>
<line x1="283.5" y1="95.4" x2="290.8" y2="94.6" stroke="#1a1a1a" stroke-width="0.74"/>
<path d="M304.5,49.7 L289.5,50.8 L324.6,65.1 L307,66.4" fill="none" stroke="#1a1a1a" stroke-width="0.83" />
<path d="M332.5,75.2 L327,76 L356.4,86.2 L311.5,92.5" fill="none" stroke="#1a1a1a" stroke-width="0.83" />
<g transform="rotate(82 326 46.6)">
<path d="M323.6,50.35 L323.6,66.35 Q326,68.35 328.4,66.35 L328.4,50.35" fill="#fff" stroke="#1a1a1a" stroke-width="1.1" />
<line x1="323.6" y1="51.85" x2="328.4" y2="52.25" stroke="#1a1a1a" stroke-width="0.83"/>
<line x1="323.6" y1="53.75" x2="328.4" y2="54.15" stroke="#1a1a1a" stroke-width="0.83"/>
<line x1="323.6" y1="55.65" x2="328.4" y2="56.05" stroke="#1a1a1a" stroke-width="0.83"/>
<line x1="323.6" y1="57.55" x2="328.4" y2="57.949999999999996" stroke="#1a1a1a" stroke-width="0.83"/>
<line x1="323.6" y1="59.449999999999996" x2="328.4" y2="59.849999999999994" stroke="#1a1a1a" stroke-width="0.83"/>
<line x1="323.6" y1="61.349999999999994" x2="328.4" y2="61.74999999999999" stroke="#1a1a1a" stroke-width="0.83"/>
<line x1="323.6" y1="63.24999999999999" x2="328.4" y2="63.64999999999999" stroke="#1a1a1a" stroke-width="0.83"/>
<line x1="323.6" y1="65.14999999999999" x2="328.4" y2="65.55" stroke="#1a1a1a" stroke-width="0.83"/>
<ellipse cx="326" cy="49.45" rx="5.25" ry="1.9000000000000001" fill="#fff" stroke="#1a1a1a" stroke-width="1.21"/>
<path d="M320.75,49.45 Q320.75,52.11 326,52.11 Q331.25,52.11 331.25,49.45" fill="none" stroke="#1a1a1a" stroke-width="1.1" />
<path d="M322.535,49.07 L322.235,43.75 Q322.535,41.85 326,41.65 Q329.465,41.85 329.765,43.75 L329.465,49.07 Q326,50.875 322.535,49.07Z" fill="#fff" stroke="#1a1a1a" stroke-width="1.21" />
<path d="M322.535,44.415 Q326,45.84 329.465,44.415" fill="none" stroke="#1a1a1a" stroke-width="0.88" />
<path d="M321.935,47.74 Q326,49.45 330.065,47.74" fill="none" stroke="#1a1a1a" stroke-width="1.21" />
<path d="M324.44075,45.27 L324.44075,49.64 M327.55925,45.27 L327.55925,49.64" fill="none" stroke="#1a1a1a" stroke-width="0.77" />
</g>
<line x1="322.7" y1="30" x2="322.7" y2="40.5" stroke="#1a1a1a" stroke-width="0.74"/>
<g transform="rotate(82 353.3 71.8)">
<path d="M350.90000000000003,75.55 L350.90000000000003,91.55 Q353.3,93.55 355.7,91.55 L355.7,75.55" fill="#fff" stroke="#1a1a1a" stroke-width="1.1" />
<line x1="350.90000000000003" y1="77.05" x2="355.7" y2="77.45" stroke="#1a1a1a" stroke-width="0.83"/>
<line x1="350.90000000000003" y1="78.95" x2="355.7" y2="79.35000000000001" stroke="#1a1a1a" stroke-width="0.83"/>
<line x1="350.90000000000003" y1="80.85000000000001" x2="355.7" y2="81.25000000000001" stroke="#1a1a1a" stroke-width="0.83"/>
<line x1="350.90000000000003" y1="82.75000000000001" x2="355.7" y2="83.15000000000002" stroke="#1a1a1a" stroke-width="0.83"/>
<line x1="350.90000000000003" y1="84.65000000000002" x2="355.7" y2="85.05000000000003" stroke="#1a1a1a" stroke-width="0.83"/>
<line x1="350.90000000000003" y1="86.55000000000003" x2="355.7" y2="86.95000000000003" stroke="#1a1a1a" stroke-width="0.83"/>
<line x1="350.90000000000003" y1="88.45000000000003" x2="355.7" y2="88.85000000000004" stroke="#1a1a1a" stroke-width="0.83"/>
<line x1="350.90000000000003" y1="90.35000000000004" x2="355.7" y2="90.75000000000004" stroke="#1a1a1a" stroke-width="0.83"/>
<ellipse cx="353.3" cy="74.64999999999999" rx="5.25" ry="1.9000000000000001" fill="#fff" stroke="#1a1a1a" stroke-width="1.21"/>
<path d="M348.05,74.64999999999999 Q348.05,77.31 353.3,77.31 Q358.55,77.31 358.55,74.64999999999999" fill="none" stroke="#1a1a1a" stroke-width="1.1" />
<path d="M349.83500000000004,74.27 L349.535,68.95 Q349.83500000000004,67.05 353.3,66.85 Q356.765,67.05 357.065,68.95 L356.765,74.27 Q353.3,76.075 349.83500000000004,74.27Z" fill="#fff" stroke="#1a1a1a" stroke-width="1.21" />
<path d="M349.83500000000004,69.615 Q353.3,71.03999999999999 356.765,69.615" fill="none" stroke="#1a1a1a" stroke-width="0.88" />
<path d="M349.235,72.94 Q353.3,74.64999999999999 357.365,72.94" fill="none" stroke="#1a1a1a" stroke-width="1.21" />
<path d="M351.74075,70.47 L351.74075,74.84 M354.85925000000003,70.47 L354.85925000000003,74.84" fill="none" stroke="#1a1a1a" stroke-width="0.77" />
</g>
<line x1="351.2" y1="55.5" x2="351.2" y2="66" stroke="#1a1a1a" stroke-width="0.74"/>
<path d="M359.8,58 Q359,55.5 362,55.3 L368,55.6 L370,64 L366,65.3 Q362,65 360.5,61.5Z" fill="#fff" stroke="#1a1a1a" stroke-width="1.1" />
<ellipse cx="364.2" cy="60.3" rx="1.9" ry="2.3" fill="none" stroke="#1a1a1a" stroke-width="0.99" transform="rotate(-15 364.2 60.3)"/>
<path d="M386.9,40 Q387,30 401,28.7 Q416,28 417.3,37.9 L419.9,45.2 L419.2,53.1 Q417,57 413.3,59.1 Q409,61.3 405.3,61.7 L398.7,61.1 L390.8,62.4 L381.5,57.5 L386.8,48.5 Z" fill="#fff" stroke="#1a1a1a" stroke-width="1.21" />
<ellipse cx="402" cy="39.2" rx="15.3" ry="10.5" fill="none" stroke="#1a1a1a" stroke-width="1.21" transform="rotate(-7 402 39.2)"/>
<ellipse cx="401.8" cy="38.9" rx="13.3" ry="8.9" fill="none" stroke="#1a1a1a" stroke-width="1.1" transform="rotate(-7 401.8 38.9)"/>
<ellipse cx="401.5" cy="38.6" rx="11" ry="7" fill="none" stroke="#1a1a1a" stroke-width="2.2" transform="rotate(-7 401.5 38.6)"/>
<ellipse cx="400.7" cy="37.9" rx="4.6" ry="3" fill="#fff" stroke="#1a1a1a" stroke-width="1.21"/>
<ellipse cx="400.7" cy="37.6" rx="2.2" ry="1.3" fill="#444" stroke="#1a1a1a" stroke-width="1.1"/>
<path d="M393.5,33.5 L396.5,36.8 M408.5,33 L405.5,36.3 M394.5,42 Q401,46 408.5,41.5 M394,37 Q394.5,40.5 397.5,41 L399.5,40 M407,34.5 Q409.5,37 408,40 L405,40.5" fill="none" stroke="#1a1a1a" stroke-width="1.26" />
<path d="M387,45 Q399,55.5 419.5,44.5" fill="none" stroke="#1a1a1a" stroke-width="0.99" />
<path d="M388.8,59.7 L394.7,58.4 L403.3,55.9 M388.1,51.8 Q390,56 394.7,58.4" fill="none" stroke="#1a1a1a" stroke-width="0.99" />
<path d="M386.5,67.6 L397.6,70.6 Q399.3,73.5 396,76 L385.8,73.3 Z" fill="#fff" stroke="#1a1a1a" stroke-width="1.1" />
<ellipse cx="390.4" cy="71.3" rx="1.9" ry="2.4" fill="none" stroke="#1a1a1a" stroke-width="0.99" transform="rotate(-15 390.4 71.3)"/>
<path d="M393.6,70 L392.6,75" fill="none" stroke="#1a1a1a" stroke-width="0.88" />
<path d="M370.9,55.1 L383.5,58.4 Q388.5,60.5 388,68 Q387,76.5 381,77.3 L377.5,77 L368.2,73 Q365,70 365.8,63 Q366.5,56 370.9,55.1Z" fill="#fff" stroke="#1a1a1a" stroke-width="1.21" />
<ellipse cx="382.4" cy="67.8" rx="5.4" ry="9.4" fill="none" stroke="#1a1a1a" stroke-width="1.21" transform="rotate(-12 382.4 67.8)"/>
<ellipse cx="382.8" cy="68" rx="3.3" ry="5.8" fill="none" stroke="#1a1a1a" stroke-width="2.2" transform="rotate(-12 382.8 68)"/>
<ellipse cx="383" cy="68" rx="1.4" ry="3" fill="#888" stroke="#1a1a1a" stroke-width="0.88" transform="rotate(-12 383 68)"/>
<line x1="397.5" y1="23.3" x2="399.8" y2="35.5" stroke="#1a1a1a" stroke-width="0.74"/>
<line x1="420.8" y1="43.6" x2="431" y2="43.6" stroke="#1a1a1a" stroke-width="0.74" stroke-dasharray="3 1"/>
<path d="M413.3,59.7 L423.9,58.7 L436,64.8 L446.5,67.2 L398,70.4" fill="none" stroke="#1a1a1a" stroke-width="0.83" />
<line x1="407.3" y1="62.4" x2="412.3" y2="79" stroke="#1a1a1a" stroke-width="0.74" stroke-dasharray="3 1"/>
<g transform="rotate(83 459.3 65.6)">
<path d="M457.5,68.35 L457.5,77.85 Q459.3,79.85 461.1,77.85 L461.1,68.35" fill="#fff" stroke="#1a1a1a" stroke-width="1.1" />
<line x1="457.5" y1="69.85" x2="461.1" y2="70.25" stroke="#1a1a1a" stroke-width="0.83"/>
<line x1="457.5" y1="71.75" x2="461.1" y2="72.15" stroke="#1a1a1a" stroke-width="0.83"/>
<line x1="457.5" y1="73.65" x2="461.1" y2="74.05000000000001" stroke="#1a1a1a" stroke-width="0.83"/>
<line x1="457.5" y1="75.55000000000001" x2="461.1" y2="75.95000000000002" stroke="#1a1a1a" stroke-width="0.83"/>
<line x1="457.5" y1="77.45000000000002" x2="461.1" y2="77.85000000000002" stroke="#1a1a1a" stroke-width="0.83"/>
<ellipse cx="459.3" cy="67.85" rx="4.25" ry="1.5" fill="#fff" stroke="#1a1a1a" stroke-width="1.21"/>
<path d="M455.05,67.85 Q455.05,69.94999999999999 459.3,69.94999999999999 Q463.55,69.94999999999999 463.55,67.85" fill="none" stroke="#1a1a1a" stroke-width="1.1" />
<path d="M456.495,67.55 L456.195,63.349999999999994 Q456.495,61.849999999999994 459.3,61.64999999999999 Q462.105,61.849999999999994 462.40500000000003,63.349999999999994 L462.105,67.55 Q459.3,68.975 456.495,67.55Z" fill="#fff" stroke="#1a1a1a" stroke-width="1.21" />
<path d="M456.495,63.87499999999999 Q459.3,65.0 462.105,63.87499999999999" fill="none" stroke="#1a1a1a" stroke-width="0.88" />
<path d="M455.895,66.5 Q459.3,67.85 462.70500000000004,66.5" fill="none" stroke="#1a1a1a" stroke-width="1.21" />
<path d="M458.03775,64.55 L458.03775,68.0 M460.56225,64.55 L460.56225,68.0" fill="none" stroke="#1a1a1a" stroke-width="0.77" />
</g>
<line x1="465.5" y1="65.8" x2="477" y2="65.8" stroke="#1a1a1a" stroke-width="0.74"/>
<g transform="rotate(167 419 107.5)">
<path d="M416.6,111.5 L416.6,137.5 Q419,139.5 421.4,137.5 L421.4,111.5" fill="#fff" stroke="#1a1a1a" stroke-width="1.1" />
<line x1="416.6" y1="122.45" x2="421.4" y2="122.85000000000001" stroke="#1a1a1a" stroke-width="0.83"/>
<line x1="416.6" y1="124.35000000000001" x2="421.4" y2="124.75000000000001" stroke="#1a1a1a" stroke-width="0.83"/>
<line x1="416.6" y1="126.25000000000001" x2="421.4" y2="126.65000000000002" stroke="#1a1a1a" stroke-width="0.83"/>
<line x1="416.6" y1="128.15" x2="421.4" y2="128.55" stroke="#1a1a1a" stroke-width="0.83"/>
<line x1="416.6" y1="130.05" x2="421.4" y2="130.45000000000002" stroke="#1a1a1a" stroke-width="0.83"/>
<line x1="416.6" y1="131.95000000000002" x2="421.4" y2="132.35000000000002" stroke="#1a1a1a" stroke-width="0.83"/>
<line x1="416.6" y1="133.85000000000002" x2="421.4" y2="134.25000000000003" stroke="#1a1a1a" stroke-width="0.83"/>
<line x1="416.6" y1="135.75000000000003" x2="421.4" y2="136.15000000000003" stroke="#1a1a1a" stroke-width="0.83"/>
<line x1="416.6" y1="137.65000000000003" x2="421.4" y2="138.05000000000004" stroke="#1a1a1a" stroke-width="0.83"/>
<ellipse cx="419" cy="110.7" rx="5.5" ry="1.8" fill="#fff" stroke="#1a1a1a" stroke-width="1.21"/>
<path d="M413.5,110.7 Q413.5,113.22 419,113.22 Q424.5,113.22 424.5,110.7" fill="none" stroke="#1a1a1a" stroke-width="1.1" />
<path d="M415.37,110.34 L415.07,105.3 Q415.37,103.5 419,103.3 Q422.63,103.5 422.93,105.3 L422.63,110.34 Q419,112.05 415.37,110.34Z" fill="#fff" stroke="#1a1a1a" stroke-width="1.21" />
<path d="M415.37,105.93 Q419,107.28 422.63,105.93" fill="none" stroke="#1a1a1a" stroke-width="0.88" />
<path d="M414.77,109.08 Q419,110.7 423.23,109.08" fill="none" stroke="#1a1a1a" stroke-width="1.21" />
<path d="M417.3665,106.74 L417.3665,110.88 M420.6335,106.74 L420.6335,110.88" fill="none" stroke="#1a1a1a" stroke-width="0.77" />
</g>
<line x1="425" y1="105.8" x2="437.5" y2="105.8" stroke="#1a1a1a" stroke-width="0.74"/>
<path d="M562.7,183 L561.7,193.8 Q563,199.4 567.7,200.2 Q574,200.4 575.6,197 L576,185 Z" fill="#fff" stroke="#1a1a1a" stroke-width="1.21" />
<ellipse cx="571.3" cy="194.2" rx="3" ry="3.2" fill="#fff" stroke="#1a1a1a" stroke-width="1.1"/>
<ellipse cx="571.6" cy="194.3" rx="1.6" ry="1.8" fill="#fff" stroke="#1a1a1a" stroke-width="0.88"/>
<path d="M562,190 Q566,187 567,193 L567.5,200" fill="none" stroke="#1a1a1a" stroke-width="0.88" />
<path d="M566,161 L572.1,164.7 L584.5,168 Q589,170 588.7,172.2 Q588.5,175.5 586.2,176.3 L581.2,178 L573,180.5 L564.7,184.6 L557,189 L548,186 L548,176 L556,170 Z" fill="#fff" stroke="#1a1a1a" stroke-width="1.21" />
<ellipse cx="582" cy="170.3" rx="2.6" ry="1.4" fill="#777" stroke="#1a1a1a" stroke-width="0.99"/>
<path d="M552.3,178.5 L571.3,166.4 M554.7,182.1 L577.1,173 M577.1,173 L584,175.5 M571.3,166.4 L576,169 L586,172.5" fill="none" stroke="#1a1a1a" stroke-width="0.99" />
<path d="M573,180.5 L571,176.5" fill="none" stroke="#1a1a1a" stroke-width="0.88" />
<path d="M546.9,185.5 L546.9,189.5 Q552.4,194.5 557.9,189.5 L557.9,185.5" fill="#fff" stroke="#1a1a1a" stroke-width="1.21" />
<ellipse cx="552.4" cy="185.6" rx="5.5" ry="3" fill="#fff" stroke="#1a1a1a" stroke-width="1.21"/>
<ellipse cx="552.4" cy="185.8" rx="2.3" ry="1.2" fill="#666" stroke="#1a1a1a" stroke-width="1.1"/>
<path d="M524.1,173 L527.4,163.1 L528.2,143.2 L528.2,138.6 L533.8,135.9 Q539,133.4 544.8,133.6 Q551.5,134.5 554.7,141.6 L556,160 L549,178 L545.6,178.5 L541.5,180.5 L531.6,182.1 L524.9,178 Z" fill="#fff" stroke="#1a1a1a" stroke-width="1.21" />
<path d="M528.2,143.2 L531.4,141 Q532,138.5 533.8,137.6 M532.4,172 L532.6,145 Q533,140.3 537,138.4 Q541,136.4 545,136.6 Q550,137.5 552.3,143 M535.7,171 L535.9,147 Q536.5,142.5 540,140.8 Q544,139.3 547,140.8" fill="none" stroke="#1a1a1a" stroke-width="1.04" />
<path d="M535.9,151.5 L545.2,155.6" fill="none" stroke="#1a1a1a" stroke-width="0.88" />
<path d="M524.1,173 L531.6,172.2 L540.5,175.3 L545.6,176.3 M524.9,176 L531.6,180 L541.5,178.3" fill="none" stroke="#1a1a1a" stroke-width="0.99" />
<path d="M529.5,174 L535,173.5 L538,176.5 L532.5,177.3Z" fill="none" stroke="#1a1a1a" stroke-width="0.88" />
<ellipse cx="533.5" cy="175.4" rx="1.3" ry="0.8" fill="#666" stroke="#1a1a1a" stroke-width="0.88"/>
<path d="M545.6,178 L544.8,158.1 Q545,151 547.3,148.2 Q549.5,143.5 553.1,141.6 Q556,139.6 558.9,139.6 Q562.5,140 564.7,143.2 Q567,146.5 568,151.5 L572.1,163.1 L566,166.5 L563,150 L552,150 L549.5,174 Z" fill="#fff" stroke="#1a1a1a" stroke-width="1.21" />
<path d="M548.9,173 L548.1,154.8 Q549.5,148.5 552.3,145.7 Q555.5,142.6 558.9,142.4 Q562,142.8 563.8,145.7 L565.5,151.5" fill="none" stroke="#1a1a1a" stroke-width="2.42" />
<path d="M550.8,172 L550.3,156 Q551.5,150 554,147.6" fill="none" stroke="#1a1a1a" stroke-width="0.99" />
<path d="M552.3,158.1 L557.2,149.8 L563,149.8 L564.7,156.5 L558,160.6 Z" fill="#fff" stroke="#1a1a1a" stroke-width="1.43" />
<path d="M557.2,149.8 L558,160.6 M552.3,158.1 L552.3,168 L556.5,171.5 L558,160.6 M556.5,171.5 L566,165.5 L564.7,156.5" fill="none" stroke="#1a1a1a" stroke-width="1.21" />
<path d="M558.5,152.5 Q560.5,150.5 562,153 L561,156" fill="none" stroke="#1a1a1a" stroke-width="0.88" />
<path d="M566.3,153.1 L573,157.3 L575.4,156.5 L575.4,163.9 L572.1,164.7 M573,157.3 L573,162" fill="none" stroke="#1a1a1a" stroke-width="1.1" />
<line x1="567" y1="101" x2="567" y2="131" stroke="#1a1a1a" stroke-width="0.09"/>
<path d="M564.6999999999999,98.8 L564.6999999999999,128.8 Q566.8,130.8 568.9,128.8 L568.9,98.8" fill="#fff" stroke="#1a1a1a" stroke-width="1.1" />
<line x1="564.6999999999999" y1="118.28" x2="568.9" y2="118.68" stroke="#1a1a1a" stroke-width="0.83"/>
<line x1="564.6999999999999" y1="120.18" x2="568.9" y2="120.58000000000001" stroke="#1a1a1a" stroke-width="0.83"/>
<line x1="564.6999999999999" y1="122.08000000000001" x2="568.9" y2="122.48000000000002" stroke="#1a1a1a" stroke-width="0.83"/>
<line x1="564.6999999999999" y1="123.98000000000002" x2="568.9" y2="124.38000000000002" stroke="#1a1a1a" stroke-width="0.83"/>
<line x1="564.6999999999999" y1="125.88000000000002" x2="568.9" y2="126.28000000000003" stroke="#1a1a1a" stroke-width="0.83"/>
<line x1="564.6999999999999" y1="127.78000000000003" x2="568.9" y2="128.18000000000004" stroke="#1a1a1a" stroke-width="0.83"/>
<ellipse cx="566.8" cy="97.8" rx="5.75" ry="2.0" fill="#fff" stroke="#1a1a1a" stroke-width="1.21"/>
<path d="M561.05,97.8 Q561.05,100.6 566.8,100.6 Q572.55,100.6 572.55,97.8" fill="none" stroke="#1a1a1a" stroke-width="1.1" />
<path d="M563.005,97.39999999999999 L562.705,91.8 Q563.005,89.8 566.8,89.6 Q570.5949999999999,89.8 570.8949999999999,91.8 L570.5949999999999,97.39999999999999 Q566.8,99.3 563.005,97.39999999999999Z" fill="#fff" stroke="#1a1a1a" stroke-width="1.21" />
<path d="M563.005,92.5 Q566.8,94.0 570.5949999999999,92.5" fill="none" stroke="#1a1a1a" stroke-width="0.88" />
<path d="M562.405,96.0 Q566.8,97.8 571.1949999999999,96.0" fill="none" stroke="#1a1a1a" stroke-width="1.21" />
<path d="M565.0922499999999,93.39999999999999 L565.0922499999999,98.0 M568.50775,93.39999999999999 L568.50775,98.0" fill="none" stroke="#1a1a1a" stroke-width="0.77" />
<line x1="573" y1="96.5" x2="584" y2="96.5" stroke="#1a1a1a" stroke-width="0.74" stroke-dasharray="3 1"/>
<line x1="566.8" y1="131.5" x2="566.8" y2="141" stroke="#1a1a1a" stroke-width="0.74"/>
<ellipse cx="550.4" cy="112.6" rx="5.25" ry="2.4" fill="#fff" stroke="#1a1a1a" stroke-width="1.1"/>
<path d="M546.41,112.39999999999999 L546.41,106.6 Q550.4,104.0 554.39,106.6 L554.39,112.39999999999999 Q550.4,114.3 546.41,112.39999999999999Z" fill="#fff" stroke="#1a1a1a" stroke-width="1.1" />
<ellipse cx="550.4" cy="106.8" rx="2.8728000000000002" ry="1.1" fill="#aaa" stroke="#1a1a1a" stroke-width="1.32"/>
<path d="M548.804,108.3 L548.804,112.8 M551.996,108.3 L551.996,112.8" fill="none" stroke="#1a1a1a" stroke-width="0.88" />
<path d="M545.61,110.8 Q550.4,112.8 555.1899999999999,110.8" fill="none" stroke="#1a1a1a" stroke-width="1.43" />
<line x1="532.5" y1="112.3" x2="544.5" y2="112.3" stroke="#1a1a1a" stroke-width="0.74" stroke-dasharray="3 1"/>
<line x1="550.6" y1="115.5" x2="550.6" y2="134.5" stroke="#1a1a1a" stroke-width="0.74"/>
<ellipse cx="535.8" cy="127.71199999999999" rx="5.5" ry="2.496" fill="#fff" stroke="#1a1a1a" stroke-width="1.1"/>
<path d="M531.62,127.50399999999999 L531.62,121.472 Q535.8,118.768 539.9799999999999,121.472 L539.9799999999999,127.50399999999999 Q535.8,129.48 531.62,127.50399999999999Z" fill="#fff" stroke="#1a1a1a" stroke-width="1.1" />
<ellipse cx="535.8" cy="121.67999999999999" rx="3.0096" ry="1.1440000000000001" fill="#aaa" stroke="#1a1a1a" stroke-width="1.32"/>
<path d="M534.1279999999999,123.24 L534.1279999999999,127.91999999999999 M537.472,123.24 L537.472,127.91999999999999" fill="none" stroke="#1a1a1a" stroke-width="0.88" />
<path d="M530.82,125.83999999999999 Q535.8,127.91999999999999 540.7799999999999,125.83999999999999" fill="none" stroke="#1a1a1a" stroke-width="1.43" />
<line x1="518" y1="127.3" x2="529.5" y2="127.3" stroke="#1a1a1a" stroke-width="0.74"/>
<line x1="536" y1="130.5" x2="536.2" y2="135.5" stroke="#1a1a1a" stroke-width="0.74"/>
<path d="M579.6,136.1 L579.6,150.6 Q582.1,152.6 584.6,150.6 L584.6,136.1" fill="#fff" stroke="#1a1a1a" stroke-width="1.1" />
<line x1="579.6" y1="142.25" x2="584.6" y2="142.65" stroke="#1a1a1a" stroke-width="0.83"/>
<line x1="579.6" y1="144.15" x2="584.6" y2="144.55" stroke="#1a1a1a" stroke-width="0.83"/>
<line x1="579.6" y1="146.05" x2="584.6" y2="146.45000000000002" stroke="#1a1a1a" stroke-width="0.83"/>
<line x1="579.6" y1="147.95000000000002" x2="584.6" y2="148.35000000000002" stroke="#1a1a1a" stroke-width="0.83"/>
<line x1="579.6" y1="149.85000000000002" x2="584.6" y2="150.25000000000003" stroke="#1a1a1a" stroke-width="0.83"/>
<ellipse cx="582.1" cy="135.14" rx="6.0" ry="1.9600000000000002" fill="#fff" stroke="#1a1a1a" stroke-width="1.21"/>
<path d="M576.1,135.14 Q576.1,137.884 582.1,137.884 Q588.1,137.884 588.1,135.14" fill="none" stroke="#1a1a1a" stroke-width="1.1" />
<path d="M578.14,134.748 L577.84,129.26 Q578.14,127.3 582.1,127.1 Q586.0600000000001,127.3 586.36,129.26 L586.0600000000001,134.748 Q582.1,136.60999999999999 578.14,134.748Z" fill="#fff" stroke="#1a1a1a" stroke-width="1.21" />
<path d="M578.14,129.946 Q582.1,131.416 586.0600000000001,129.946" fill="none" stroke="#1a1a1a" stroke-width="0.88" />
<path d="M577.54,133.376 Q582.1,135.14 586.6600000000001,133.376" fill="none" stroke="#1a1a1a" stroke-width="1.21" />
<path d="M580.318,130.828 L580.318,135.33599999999998 M583.8820000000001,130.828 L583.8820000000001,135.33599999999998" fill="none" stroke="#1a1a1a" stroke-width="0.77" />
<line x1="589" y1="134" x2="599.5" y2="134" stroke="#1a1a1a" stroke-width="0.74"/>
<line x1="582.1" y1="152.5" x2="582.1" y2="168" stroke="#1a1a1a" stroke-width="0.64" stroke-dasharray="2 1"/>
<line x1="516.5" y1="158.5" x2="526.5" y2="158.5" stroke="#1a1a1a" stroke-width="0.74" stroke-dasharray="3 1"/>
<path d="M598.6,182.0 L598.6,196.5 Q600.9,198.5 603.1999999999999,196.5 L603.1999999999999,182.0" fill="#fff" stroke="#1a1a1a" stroke-width="1.1" />
<line x1="598.6" y1="188.15" x2="603.1999999999999" y2="188.55" stroke="#1a1a1a" stroke-width="0.83"/>
<line x1="598.6" y1="190.05" x2="603.1999999999999" y2="190.45000000000002" stroke="#1a1a1a" stroke-width="0.83"/>
<line x1="598.6" y1="191.95000000000002" x2="603.1999999999999" y2="192.35000000000002" stroke="#1a1a1a" stroke-width="0.83"/>
<line x1="598.6" y1="193.85000000000002" x2="603.1999999999999" y2="194.25000000000003" stroke="#1a1a1a" stroke-width="0.83"/>
<line x1="598.6" y1="195.75000000000003" x2="603.1999999999999" y2="196.15000000000003" stroke="#1a1a1a" stroke-width="0.83"/>
<ellipse cx="600.9" cy="181.16000000000003" rx="5.75" ry="1.8399999999999999" fill="#fff" stroke="#1a1a1a" stroke-width="1.21"/>
<path d="M595.15,181.16000000000003 Q595.15,183.73600000000002 600.9,183.73600000000002 Q606.65,183.73600000000002 606.65,181.16000000000003" fill="none" stroke="#1a1a1a" stroke-width="1.1" />
<path d="M597.105,180.792 L596.8050000000001,175.64000000000001 Q597.105,173.8 600.9,173.60000000000002 Q604.6949999999999,173.8 604.9949999999999,175.64000000000001 L604.6949999999999,180.792 Q600.9,182.54000000000002 597.105,180.792Z" fill="#fff" stroke="#1a1a1a" stroke-width="1.21" />
<path d="M597.105,176.28400000000002 Q600.9,177.66400000000002 604.6949999999999,176.28400000000002" fill="none" stroke="#1a1a1a" stroke-width="0.88" />
<path d="M596.505,179.50400000000002 Q600.9,181.16000000000003 605.295,179.50400000000002" fill="none" stroke="#1a1a1a" stroke-width="1.21" />
<path d="M599.19225,177.11200000000002 L599.19225,181.34400000000002 M602.60775,177.11200000000002 L602.60775,181.34400000000002" fill="none" stroke="#1a1a1a" stroke-width="0.77" />
<line x1="604" y1="190.4" x2="614" y2="190.4" stroke="#1a1a1a" stroke-width="0.74" stroke-dasharray="3 1"/>
<path d="M600.8,198.5 L600.8,205.7 L559.1,223.6 L559.1,231.5" fill="none" stroke="#1a1a1a" stroke-width="0.88" />
<line x1="535.3" y1="182.5" x2="535.3" y2="210.5" stroke="#1a1a1a" stroke-width="0.74"/>
<line x1="550.4" y1="192.5" x2="550.4" y2="197" stroke="#1a1a1a" stroke-width="0.74"/>
<line x1="567.1" y1="199.9" x2="567.1" y2="237.5" stroke="#1a1a1a" stroke-width="1.01"/>
<path d="M562.1,239.1 L562.1,243.5 L541,250.2 Q539,246 534.7,244.5 L540,240 L545,233.5 Q545.5,229 549.6,229 Q554,229.3 554.6,232 L555.3,232.5 Q557,231 559.5,231.1 Q563.5,231.5 564.1,233.7 L564,236.5 Q567,236 570,237 Q572.5,238 572.5,239.1 L572.4,261.6 Q570.5,264 567.2,264 Q563.5,263.8 562.1,261.6 L562.1,254.5 L527.7,268.5 L518,270.5 L511,270 L510.6,265.5 L514.5,263.5 L516,259.5 L522,254.5 L528.5,248 Z" fill="#fff" stroke="#1a1a1a" stroke-width="1.21" />
<ellipse cx="567.3" cy="239.1" rx="5.2" ry="2.7" fill="#fff" stroke="#1a1a1a" stroke-width="1.1"/>
<ellipse cx="567.3" cy="239.2" rx="1.7" ry="0.9" fill="#666" stroke="#1a1a1a" stroke-width="0.99"/>
<ellipse cx="559.5" cy="233.7" rx="4.6" ry="2.6" fill="#fff" stroke="#1a1a1a" stroke-width="1.1"/>
<ellipse cx="559.5" cy="233.9" rx="2.3" ry="1.2" fill="#666" stroke="#1a1a1a" stroke-width="1.43"/>
<ellipse cx="549.6" cy="231.8" rx="5" ry="2.8" fill="#fff" stroke="#1a1a1a" stroke-width="1.1"/>
<ellipse cx="549.7" cy="232" rx="2.2" ry="1.1" fill="#666" stroke="#1a1a1a" stroke-width="1.21"/>
<ellipse cx="534.7" cy="247.7" rx="6.2" ry="3.3" fill="#fff" stroke="#1a1a1a" stroke-width="1.21"/>
<ellipse cx="534.9" cy="248" rx="2.6" ry="1.3" fill="#666" stroke="#1a1a1a" stroke-width="1.32"/>
<path d="M554.6,232 L554.6,236 L543,250 M544.6,233.5 L544.6,237 L539,244.7 M529,250 L519,262.5 L516,266 M540.5,249.5 L530,263 L523,266.5 L517.5,266.5" fill="none" stroke="#1a1a1a" stroke-width="1.1" />
<path d="M540.6,250.6 L562.1,243.7 M528.5,264.5 L562,250.5 M511.5,266 L518,267 L518,270.3" fill="none" stroke="#1a1a1a" stroke-width="0.99" />
<path d="M522,258.5 L528,256 L528.5,260.5 L522.5,263.5 Z M524,260 L526.5,259" fill="none" stroke="#1a1a1a" stroke-width="0.99" />
<ellipse cx="513" cy="265.3" rx="1.7" ry="1" fill="none" stroke="#1a1a1a" stroke-width="0.88"/>
<path d="M555,235.5 Q559.5,239 564,236.5" fill="none" stroke="#1a1a1a" stroke-width="0.99" />
<line x1="573" y1="249.5" x2="584" y2="249.5" stroke="#1a1a1a" stroke-width="0.74" stroke-dasharray="3 1"/>
<path d="M533.2,234.5 L533.2,214.7 Q533.2,212.2 535.5,210.7 Q537.8,212.2 537.8,214.7 L537.8,234.5 Q535.5,235.5 533.2,234.5Z" fill="#fff" stroke="#1a1a1a" stroke-width="1.1" />
<line x1="533.2" y1="215.2" x2="537.8" y2="215.5" stroke="#1a1a1a" stroke-width="1.06"/>
<line x1="533.2" y1="216.89999999999998" x2="537.8" y2="217.2" stroke="#1a1a1a" stroke-width="1.06"/>
<line x1="533.2" y1="218.59999999999997" x2="537.8" y2="218.89999999999998" stroke="#1a1a1a" stroke-width="1.06"/>
<line x1="533.2" y1="220.29999999999995" x2="537.8" y2="220.59999999999997" stroke="#1a1a1a" stroke-width="1.06"/>
<line x1="533.2" y1="221.99999999999994" x2="537.8" y2="222.29999999999995" stroke="#1a1a1a" stroke-width="1.06"/>
<line x1="533.2" y1="227.0999999999999" x2="537.8" y2="227.39999999999992" stroke="#1a1a1a" stroke-width="1.06"/>
<line x1="533.2" y1="228.7999999999999" x2="537.8" y2="229.0999999999999" stroke="#1a1a1a" stroke-width="1.06"/>
<line x1="533.2" y1="230.4999999999999" x2="537.8" y2="230.7999999999999" stroke="#1a1a1a" stroke-width="1.06"/>
<line x1="533.2" y1="232.19999999999987" x2="537.8" y2="232.4999999999999" stroke="#1a1a1a" stroke-width="1.06"/>
<line x1="533.2" y1="233.89999999999986" x2="537.8" y2="234.19999999999987" stroke="#1a1a1a" stroke-width="1.06"/>
<path d="M532.7,222.8 L538.3,222.8 L538.3,226.8 L532.7,226.8Z" fill="#fff" stroke="#1a1a1a" stroke-width="1.1" />
<path d="M548.1,222.8 L548.1,200.8 Q548.1,198.3 550.4,196.8 Q552.6999999999999,198.3 552.6999999999999,200.8 L552.6999999999999,222.8 Q550.4,223.8 548.1,222.8Z" fill="#fff" stroke="#1a1a1a" stroke-width="1.1" />
<line x1="548.1" y1="201.3" x2="552.6999999999999" y2="201.60000000000002" stroke="#1a1a1a" stroke-width="1.06"/>
<line x1="548.1" y1="203.0" x2="552.6999999999999" y2="203.3" stroke="#1a1a1a" stroke-width="1.06"/>
<line x1="548.1" y1="204.7" x2="552.6999999999999" y2="205.0" stroke="#1a1a1a" stroke-width="1.06"/>
<line x1="548.1" y1="206.39999999999998" x2="552.6999999999999" y2="206.7" stroke="#1a1a1a" stroke-width="1.06"/>
<line x1="548.1" y1="208.09999999999997" x2="552.6999999999999" y2="208.39999999999998" stroke="#1a1a1a" stroke-width="1.06"/>
<line x1="548.1" y1="209.79999999999995" x2="552.6999999999999" y2="210.09999999999997" stroke="#1a1a1a" stroke-width="1.06"/>
<line x1="548.1" y1="216.5999999999999" x2="552.6999999999999" y2="216.89999999999992" stroke="#1a1a1a" stroke-width="1.06"/>
<line x1="548.1" y1="218.2999999999999" x2="552.6999999999999" y2="218.5999999999999" stroke="#1a1a1a" stroke-width="1.06"/>
<line x1="548.1" y1="219.9999999999999" x2="552.6999999999999" y2="220.2999999999999" stroke="#1a1a1a" stroke-width="1.06"/>
<line x1="548.1" y1="221.69999999999987" x2="552.6999999999999" y2="221.9999999999999" stroke="#1a1a1a" stroke-width="1.06"/>
<path d="M547.6,211.6 L553.1999999999999,211.6 L553.1999999999999,215.6 L547.6,215.6Z" fill="#fff" stroke="#1a1a1a" stroke-width="1.1" />
<line x1="535.5" y1="235.5" x2="535.5" y2="247" stroke="#1a1a1a" stroke-width="0.83"/>
<line x1="550.4" y1="223.8" x2="550.4" y2="231" stroke="#1a1a1a" stroke-width="0.83"/>
<line x1="525.7" y1="202" x2="547.3" y2="202" stroke="#1a1a1a" stroke-width="0.74"/>
<line x1="521.8" y1="220.4" x2="532.5" y2="220.4" stroke="#1a1a1a" stroke-width="0.74" stroke-dasharray="3 1"/>
<path d="M493.4,237.0 L493.4,249.0 Q495.9,251.0 498.4,249.0 L498.4,237.0" fill="#fff" stroke="#1a1a1a" stroke-width="1.1" />
<line x1="493.4" y1="240.45" x2="498.4" y2="240.85" stroke="#1a1a1a" stroke-width="0.83"/>
<line x1="493.4" y1="242.35" x2="498.4" y2="242.75" stroke="#1a1a1a" stroke-width="0.83"/>
<line x1="493.4" y1="244.25" x2="498.4" y2="244.65" stroke="#1a1a1a" stroke-width="0.83"/>
<line x1="493.4" y1="246.15" x2="498.4" y2="246.55" stroke="#1a1a1a" stroke-width="0.83"/>
<line x1="493.4" y1="248.05" x2="498.4" y2="248.45000000000002" stroke="#1a1a1a" stroke-width="0.83"/>
<ellipse cx="495.9" cy="236.14" rx="5.5" ry="1.8600000000000003" fill="#fff" stroke="#1a1a1a" stroke-width="1.21"/>
<path d="M490.4,236.14 Q490.4,238.744 495.9,238.744 Q501.4,238.744 501.4,236.14" fill="none" stroke="#1a1a1a" stroke-width="1.1" />
<path d="M492.27,235.768 L491.96999999999997,230.56 Q492.27,228.7 495.9,228.5 Q499.53,228.7 499.83,230.56 L499.53,235.768 Q495.9,237.535 492.27,235.768Z" fill="#fff" stroke="#1a1a1a" stroke-width="1.21" />
<path d="M492.27,231.21099999999998 Q495.9,232.606 499.53,231.21099999999998" fill="none" stroke="#1a1a1a" stroke-width="0.88" />
<path d="M491.66999999999996,234.46599999999998 Q495.9,236.14 500.13,234.46599999999998" fill="none" stroke="#1a1a1a" stroke-width="1.21" />
<path d="M494.26649999999995,232.048 L494.26649999999995,236.326 M497.5335,232.048 L497.5335,236.326" fill="none" stroke="#1a1a1a" stroke-width="0.77" />
<line x1="478.5" y1="236.5" x2="490" y2="236.5" stroke="#1a1a1a" stroke-width="0.74"/>
<path d="M496,251.5 L495.3,258.6 L523.7,247.7" fill="none" stroke="#1a1a1a" stroke-width="0.88" />
<clipPath id="eb"><polygon points="237,182 240,172 243.5,165 249,158 250,148 254,141.5 262,140.5 268,144 273,143 300,131 336,113 350,115 402,136 407.5,138 407.5,141.5 416.5,156 428.5,161.5 428,165 422.5,168 422.5,174 418,178 410.5,183 406,200 415,217.5 421,219 427.5,218.5 429.3,213.5 430.5,223.5 434.5,228 437.5,236 442.5,244.5 447,258 447.5,270 445.5,279 438,287.5 425,293.5 410,295.5 383,294 367.5,290.5 358,284 342,282.6 335,281.2 327,276.2 297.7,274.8 289,266.5 281,255.5 274.5,241 270.4,226.4 269.5,216 258.5,213.1 244,206.5 242.6,200 237,187"/></clipPath>
<polygon points="237,182 240,172 243.5,165 249,158 250,148 254,141.5 262,140.5 268,144 273,143 300,131 336,113 350,115 402,136 407.5,138 407.5,141.5 416.5,156 428.5,161.5 428,165 422.5,168 422.5,174 418,178 410.5,183 406,200 415,217.5 421,219 427.5,218.5 429.3,213.5 430.5,223.5 434.5,228 437.5,236 442.5,244.5 447,258 447.5,270 445.5,279 438,287.5 425,293.5 410,295.5 383,294 367.5,290.5 358,284 342,282.6 335,281.2 327,276.2 297.7,274.8 289,266.5 281,255.5 274.5,241 270.4,226.4 269.5,216 258.5,213.1 244,206.5 242.6,200 237,187" fill="#fff" stroke="none"/>
<g clip-path="url(#eb)" fill="none" stroke="#1a1a1a">
<rect x="283.6" y="224.1" width="6.8" height="5.3" rx="0.8" fill="#fff" stroke-width="1.43" transform="rotate(-25 283.6 224.1) skewX(0)"/>
<path d="M286.0,230.4 L294.4,226.6 L304.1,227.4" stroke-width="1.41"/>
<rect x="301.2" y="256.1" width="3.0" height="2.2" rx="0.6" fill="#222" stroke="none" transform="rotate(90 301.2 256.1)"/>
<path d="M257.1,185.6 L259.7,190.8" stroke-width="1.1"/>
<path d="M309.9,195.2 L304.1,194.9" stroke-width="1.3"/>
<path d="M277.9,166.6 L277.6,161.3 L284.5,157.5" stroke-width="1.64"/>
<ellipse cx="283.1" cy="180.5" rx="3.2" ry="2.0" fill="#fff" stroke-width="1.19" transform="rotate(25 283.1 180.5)"/>
<path d="M326.0,273.0 L335.3,276.7" stroke-width="1.8"/>
<path d="M241.3,175.3 L241.4,178.8 L238.3,178.7" stroke-width="1.11"/>
<path d="M275.3,211.5 Q269.3,207.4 267.2,207.4" stroke-width="1.44"/>
<path d="M330.6,254.5 L331.0,247.3 L328.2,248.9" stroke-width="1.23"/>
<path d="M298.4,192.6 L304.8,195.2" stroke-width="1.6"/>
<path d="M258.0,160.0 L262.9,157.3" stroke-width="1.41"/>
<path d="M246.5,174.3 L243.4,174.6 L243.1,177.7" stroke-width="1.33"/>
<path d="M286.7,244.2 L290.4,251.4" stroke-width="1.8"/>
<path d="M318.7,266.0 L319.0,262.8" stroke-width="1.58"/>
<path d="M296.0,231.7 L292.7,233.6" stroke-width="1.51"/>
<path d="M327.6,243.9 L330.8,249.9 L330.7,256.3 L324.1,259.4" stroke-width="1.61"/>
<rect x="257.9" y="178.0" width="6.4" height="6.6" rx="0.8" fill="#fff" stroke-width="1.56" transform="rotate(25 257.9 178.0) skewX(20)"/>
<path d="M305.6,181.4 L299.1,178.6 L305.1,180.9" stroke-width="1.66"/>
<path d="M310.3,270.1 L308.0,266.2 L308.1,259.8 L311.7,259.7" stroke-width="1.22"/>
<path d="M306.9,191.2 L302.9,189.4" stroke-width="1.55"/>
<rect x="261.5" y="174.6" width="2.1" height="2.2" rx="0.6" fill="#222" stroke="none" transform="rotate(0 261.5 174.6)"/>
<path d="M335.7,238.8 L342.0,236.2 L349.8,239.4" stroke-width="1.43"/>
<rect x="333.1" y="243.2" width="2.5" height="2.7" rx="0.6" fill="#222" stroke="none" transform="rotate(90 333.1 243.2)"/>
<path d="M293.7,235.0 L298.5,243.6 L306.8,239.2" stroke-width="1.67"/>
<ellipse cx="337.7" cy="221.4" rx="4.0" ry="3.7" fill="#fff" stroke-width="1.32" transform="rotate(25 337.7 221.4)"/>
<path d="M272.2,207.7 L269.3,209.1 L260.2,205.0" stroke-width="1.74"/>
<path d="M334.4,216.1 Q333.8,220.8 335.6,222.7" stroke-width="1.16"/>
<rect x="302.8" y="219.7" width="5.5" height="4.5" rx="0.8" fill="#fff" stroke-width="1.49" transform="rotate(-25 302.8 219.7) skewX(20)"/>
<path d="M324.6,272.3 L324.7,265.8 L321.7,267.1" stroke-width="1.5"/>
<path d="M249.6,169.0 L250.2,160.4 L249.9,154.0 L250.6,144.4" stroke-width="1.75"/>
<path d="M291.1,170.8 L299.8,175.3 L297.0,174.2" stroke-width="1.12"/>
<path d="M270.2,199.9 L266.3,206.9" stroke-width="1.17"/>
<path d="M322.0,230.7 L324.9,224.5 L318.4,220.9" stroke-width="1.7"/>
<path d="M330.0,195.3 L333.4,197.2 L337.7,199.4" stroke-width="1.75"/>
<path d="M293.0,241.2 L286.1,244.8" stroke-width="1.54"/>
<ellipse cx="315.1" cy="217.3" rx="1.7" ry="1.0" fill="#fff" stroke-width="1.23" transform="rotate(-25 315.1 217.3)"/>
<rect x="315.5" y="230.4" width="4.7" height="3.5" rx="0.8" fill="#fff" stroke-width="1.44" transform="rotate(-25 315.5 230.4) skewX(-20)"/>
<path d="M246.8,165.3 Q246.9,162.8 247.3,160.0" stroke-width="1.42"/>
<rect x="281.3" y="228.9" width="2.9" height="1.5" rx="0.6" fill="#222" stroke="none" transform="rotate(90 281.3 228.9)"/>
<rect x="274.0" y="201.7" width="4.1" height="6.2" rx="0.8" fill="#fff" stroke-width="1.52" transform="rotate(25 274.0 201.7) skewX(-20)"/>
<rect x="319.6" y="241.2" width="6.1" height="5.4" rx="0.8" fill="#fff" stroke-width="1.54" transform="rotate(25 319.6 241.2) skewX(20)"/>
<ellipse cx="265.8" cy="171.7" rx="4.0" ry="2.5" fill="#fff" stroke-width="1.21" transform="rotate(25 265.8 171.7)"/>
<ellipse cx="327.6" cy="240.0" rx="2.6" ry="2.3" fill="#fff" stroke-width="1.64" transform="rotate(-25 327.6 240.0)"/>
<rect x="319.1" y="193.6" width="3.2" height="2.6" rx="0.6" fill="#222" stroke="none" transform="rotate(-25 319.1 193.6)"/>
<ellipse cx="305.6" cy="197.9" rx="2.9" ry="2.1" fill="#fff" stroke-width="1.5" transform="rotate(25 305.6 197.9)"/>
<ellipse cx="303.2" cy="240.7" rx="1.6" ry="1.3" fill="#fff" stroke-width="1.79" transform="rotate(0 303.2 240.7)"/>
<path d="M261.4,210.4 L257.3,212.7 L260.1,207.5 L261.6,210.7" stroke-width="1.63"/>
<path d="M325.1,222.0 L324.9,216.2 L325.0,209.8 L320.9,216.2" stroke-width="1.4"/>
<path d="M297.3,232.7 L297.5,229.3" stroke-width="1.58"/>
<path d="M281.2,214.4 Q277.8,213.5 271.8,213.0" stroke-width="1.27"/>
<path d="M301.3,211.8 L297.7,213.5 L294.3,206.9" stroke-width="1.14"/>
<path d="M266.9,173.2 L264.2,178.0 L271.1,178.2" stroke-width="1.45"/>
<path d="M302.2,246.9 L299.4,248.1 L299.7,251.4" stroke-width="1.27"/>
<path d="M293.7,232.5 L293.9,240.7 L301.8,236.9" stroke-width="1.43"/>
<path d="M282.8,246.2 L289.6,246.0 L289.8,238.9" stroke-width="1.21"/>
<path d="M286.9,238.9 L287.3,246.5" stroke-width="1.64"/>
<ellipse cx="308.6" cy="216.4" rx="3.9" ry="2.5" fill="#fff" stroke-width="1.33" transform="rotate(0 308.6 216.4)"/>
<rect x="311.8" y="201.2" width="2.3" height="2.7" rx="0.6" fill="#222" stroke="none" transform="rotate(0 311.8 201.2)"/>
<path d="M282.1,252.8 L279.7,257.8 L274.6,260.3 L269.6,257.7" stroke-width="1.32"/>
<path d="M292.7,256.7 L292.4,261.2 L294.5,256.6 L295.1,263.4" stroke-width="1.22"/>
<rect x="271.5" y="190.3" width="1.3" height="2.2" rx="0.6" fill="#222" stroke="none" transform="rotate(-25 271.5 190.3)"/>
<path d="M313.8,234.6 L311.2,229.9 L317.3,232.7" stroke-width="1.25"/>
<path d="M309.9,266.0 L301.7,269.3 L305.0,263.5" stroke-width="1.68"/>
<path d="M319.6,207.8 L319.8,202.5 L319.8,207.4" stroke-width="1.2"/>
<path d="M285.6,244.2 L282.7,245.4 L278.8,247.4" stroke-width="1.21"/>
<ellipse cx="259.4" cy="185.8" rx="2.1" ry="1.3" fill="#fff" stroke-width="1.52" transform="rotate(25 259.4 185.8)"/>
<path d="M333.5,232.0 Q334.9,232.1 337.4,226.9" stroke-width="1.49"/>
<rect x="305.0" y="249.1" width="2.0" height="1.5" rx="0.6" fill="#222" stroke="none" transform="rotate(25 305.0 249.1)"/>
<path d="M319.5,203.4 L323.8,201.6 L326.3,207.2" stroke-width="1.46"/>
<path d="M310.5,229.5 L318.9,233.0 L325.6,232.7" stroke-width="1.21"/>
<path d="M295.9,179.0 L300.5,180.8 L298.9,177.6" stroke-width="1.74"/>
<path d="M239.0,180.2 L233.4,178.1 L225.0,173.3 L224.8,166.4" stroke-width="1.58"/>
<ellipse cx="244.7" cy="174.6" rx="3.5" ry="3.2" fill="#fff" stroke-width="1.57" transform="rotate(-25 244.7 174.6)"/>
<path d="M275.8,241.8 L284.1,238.5 L276.8,239.0 L276.5,245.9" stroke-width="1.49"/>
<ellipse cx="263.4" cy="181.6" rx="4.1" ry="3.3" fill="#fff" stroke-width="1.33" transform="rotate(0 263.4 181.6)"/>
<path d="M303.0,210.7 L310.1,214.3" stroke-width="1.17"/>
<path d="M256.9,162.3 L247.6,158.9" stroke-width="1.59"/>
<rect x="278.9" y="166.6" width="6.8" height="5.6" rx="0.8" fill="#fff" stroke-width="1.4" transform="rotate(-25 278.9 166.6) skewX(0)"/>
<path d="M276.8,197.1 L286.6,197.5 L291.4,197.5 L291.2,191.4" stroke-width="1.11"/>
<path d="M258.1,197.3 L257.7,206.6 L257.5,213.2" stroke-width="1.17"/>
<ellipse cx="338.6" cy="218.9" rx="2.0" ry="2.0" fill="#fff" stroke-width="1.68" transform="rotate(0 338.6 218.9)"/>
<rect x="304.9" y="249.6" width="2.0" height="1.7" rx="0.6" fill="#222" stroke="none" transform="rotate(-25 304.9 249.6)"/>
<path d="M332.7,200.6 L338.6,203.9 L336.4,207.5" stroke-width="1.19"/>
<rect x="321.9" y="192.1" width="7.2" height="6.3" rx="0.8" fill="#fff" stroke-width="1.27" transform="rotate(-25 321.9 192.1) skewX(0)"/>
<path d="M240.3,179.2 Q239.9,178.5 237.5,174.9" stroke-width="1.76"/>
<ellipse cx="276.3" cy="227.8" rx="2.0" ry="1.6" fill="#fff" stroke-width="1.11" transform="rotate(-25 276.3 227.8)"/>
<path d="M291.4,172.0 L291.8,181.5 L283.9,184.8" stroke-width="1.34"/>
<path d="M335.8,228.8 L335.8,218.8 L335.5,215.1 L338.3,209.8" stroke-width="1.39"/>
<ellipse cx="270.0" cy="164.5" rx="3.5" ry="2.8" fill="#fff" stroke-width="1.73" transform="rotate(25 270.0 164.5)"/>
<path d="M327.9,261.5 L322.7,269.8 L318.5,271.8" stroke-width="1.69"/>
<rect x="304.7" y="268.9" width="8.3" height="6.5" rx="0.8" fill="#fff" stroke-width="1.8" transform="rotate(25 304.7 268.9) skewX(0)"/>
<rect x="295.4" y="264.6" width="1.4" height="2.1" rx="0.6" fill="#222" stroke="none" transform="rotate(90 295.4 264.6)"/>
<path d="M237.1,186.8 L233.5,178.8" stroke-width="1.33"/>
<path d="M260.8,194.1 L256.4,186.9 L264.7,190.3" stroke-width="1.32"/>
<path d="M273.5,213.8 L275.6,210.0 L267.8,213.9" stroke-width="1.72"/>
<rect x="326.6" y="242.2" width="3.1" height="1.9" rx="0.6" fill="#222" stroke="none" transform="rotate(-25 326.6 242.2)"/>
<path d="M288.6,192.9 L298.5,192.9" stroke-width="1.66"/>
<ellipse cx="305.7" cy="190.7" rx="4.2" ry="3.1" fill="#fff" stroke-width="1.16" transform="rotate(0 305.7 190.7)"/>
<path d="M292.3,208.0 L299.9,211.0 L303.5,212.9" stroke-width="1.22"/>
<path d="M301.1,266.1 L295.0,269.4 L295.2,260.9 L299.1,254.6" stroke-width="1.1"/>
<rect x="298.2" y="249.0" width="2.5" height="2.1" rx="0.6" fill="#222" stroke="none" transform="rotate(0 298.2 249.0)"/>
<path d="M318.0,251.4 L322.8,251.4 L319.5,251.2" stroke-width="1.44"/>
<path d="M252.6,160.1 L252.4,163.3 L258.6,166.3 L263.7,165.9" stroke-width="1.4"/>
<ellipse cx="308.7" cy="254.7" rx="3.6" ry="2.8" fill="#fff" stroke-width="1.65" transform="rotate(0 308.7 254.7)"/>
<ellipse cx="263.2" cy="176.9" rx="3.6" ry="2.1" fill="#fff" stroke-width="1.68" transform="rotate(25 263.2 176.9)"/>
<ellipse cx="285.1" cy="240.4" rx="1.8" ry="1.6" fill="#fff" stroke-width="1.77" transform="rotate(0 285.1 240.4)"/>
<rect x="283.9" y="245.9" width="3.0" height="1.4" rx="0.6" fill="#222" stroke="none" transform="rotate(90 283.9 245.9)"/>
<path d="M294.3,213.7 Q295.4,210.7 290.9,206.4" stroke-width="1.78"/>
<rect x="267.5" y="172.0" width="4.1" height="3.9" rx="0.8" fill="#fff" stroke-width="1.39" transform="rotate(25 267.5 172.0) skewX(20)"/>
<path d="M259.5,176.9 L268.5,177.2 L272.5,185.9" stroke-width="1.8"/>
<path d="M259.2,199.0 L256.9,195.1 L256.9,201.6" stroke-width="1.48"/>
<ellipse cx="276.4" cy="166.6" rx="2.2" ry="1.3" fill="#fff" stroke-width="1.35" transform="rotate(-25 276.4 166.6)"/>
<path d="M313.4,218.4 L313.2,215.0 L320.3,218.8" stroke-width="1.55"/>
<rect x="276.6" y="167.8" width="8.5" height="5.1" rx="0.8" fill="#fff" stroke-width="1.33" transform="rotate(-25 276.6 167.8) skewX(20)"/>
<rect x="277.6" y="186.1" width="2.4" height="1.3" rx="0.6" fill="#222" stroke="none" transform="rotate(0 277.6 186.1)"/>
<ellipse cx="279.3" cy="214.5" rx="3.0" ry="2.1" fill="#fff" stroke-width="1.46" transform="rotate(25 279.3 214.5)"/>
<ellipse cx="258.1" cy="191.1" rx="2.5" ry="2.4" fill="#fff" stroke-width="1.38" transform="rotate(-25 258.1 191.1)"/>
<path d="M247.6,201.7 L243.6,194.0" stroke-width="1.2"/>
<path d="M324.9,223.9 L320.6,221.6 L317.5,223.1" stroke-width="1.19"/>
<rect x="309.4" y="184.2" width="8.5" height="4.4" rx="0.8" fill="#fff" stroke-width="1.24" transform="rotate(-25 309.4 184.2) skewX(0)"/>
<path d="M246.6,198.3 L242.4,206.8 L239.4,208.3" stroke-width="1.21"/>
<rect x="265.0" y="202.5" width="8.2" height="6.5" rx="0.8" fill="#fff" stroke-width="1.31" transform="rotate(-25 265.0 202.5) skewX(-20)"/>
<path d="M240.6,196.2 L238.0,191.5 L246.8,187.5" stroke-width="1.31"/>
<path d="M301.6,231.3 L293.1,234.6 L292.8,230.7" stroke-width="1.39"/>
<path d="M268.8,200.5 Q270.7,201.1 270.4,204.8" stroke-width="1.2"/>
<path d="M277.6,186.2 L268.4,185.7" stroke-width="1.56"/>
<rect x="264.2" y="170.3" width="1.6" height="1.8" rx="0.6" fill="#222" stroke="none" transform="rotate(25 264.2 170.3)"/>
<path d="M287.5,224.5 L292.5,227.0 L297.1,219.1 L292.3,221.0" stroke-width="1.3"/>
<rect x="289.8" y="238.2" width="2.0" height="2.0" rx="0.6" fill="#222" stroke="none" transform="rotate(0 289.8 238.2)"/>
<ellipse cx="319.0" cy="204.3" rx="3.4" ry="2.4" fill="#fff" stroke-width="1.28" transform="rotate(25 319.0 204.3)"/>
<path d="M295.1,173.3 Q296.6,174.1 300.8,179.1" stroke-width="1.55"/>
<ellipse cx="337.3" cy="213.7" rx="4.0" ry="2.7" fill="#fff" stroke-width="1.65" transform="rotate(25 337.3 213.7)"/>
<path d="M280.2,232.5 L289.0,227.8 L296.4,230.9" stroke-width="1.75"/>
<path d="M322.8,259.0 L322.4,250.9 L327.4,253.8 L323.4,261.9" stroke-width="1.15"/>
<path d="M255.0,170.6 Q252.1,167.9 251.2,170.9" stroke-width="1.28"/>
<path d="M295.3,174.9 L290.3,177.3 L288.9,180.5" stroke-width="1.29"/>
<ellipse cx="271.6" cy="174.5" rx="2.6" ry="1.5" fill="#fff" stroke-width="1.79" transform="rotate(25 271.6 174.5)"/>
<rect x="320.1" y="204.7" width="2.5" height="2.2" rx="0.6" fill="#222" stroke="none" transform="rotate(0 320.1 204.7)"/>
<path d="M256.4,192.3 L264.9,196.9" stroke-width="1.66"/>
<rect x="306.5" y="190.0" width="1.3" height="1.9" rx="0.6" fill="#222" stroke="none" transform="rotate(25 306.5 190.0)"/>
<ellipse cx="243.6" cy="201.0" rx="2.2" ry="2.1" fill="#fff" stroke-width="1.29" transform="rotate(25 243.6 201.0)"/>
<path d="M322.2,248.6 Q326.2,246.2 327.8,246.8" stroke-width="1.17"/>
<path d="M296.4,184.8 L296.5,178.7 L297.1,186.2" stroke-width="1.36"/>
<path d="M264.3,183.2 L262.3,187.2 L267.2,184.5" stroke-width="1.13"/>
<path d="M288.8,205.6 L293.7,203.7 L299.6,204.2" stroke-width="1.48"/>
<rect x="288.4" y="250.1" width="4.0" height="4.6" rx="0.8" fill="#fff" stroke-width="1.67" transform="rotate(25 288.4 250.1) skewX(-20)"/>
<rect x="317.1" y="220.0" width="2.5" height="2.7" rx="0.6" fill="#222" stroke="none" transform="rotate(-25 317.1 220.0)"/>
<path d="M328.4,259.1 L321.1,261.9" stroke-width="1.45"/>
<rect x="281.9" y="213.1" width="5.9" height="5.2" rx="0.8" fill="#fff" stroke-width="1.45" transform="rotate(-25 281.9 213.1) skewX(0)"/>
<path d="M331.8,220.3 L326.5,220.7" stroke-width="1.3"/>
<path d="M270.8,188.2 L274.9,180.1 L277.2,183.8 L271.1,186.2" stroke-width="1.23"/>
<ellipse cx="310.3" cy="187.6" rx="2.9" ry="2.8" fill="#fff" stroke-width="1.42" transform="rotate(-25 310.3 187.6)"/>
<path d="M261.6,170.7 L269.9,167.3 L266.2,165.3" stroke-width="1.63"/>
<rect x="326.1" y="256.4" width="2.0" height="2.6" rx="0.6" fill="#222" stroke="none" transform="rotate(90 326.1 256.4)"/>
<ellipse cx="301.8" cy="261.4" rx="3.3" ry="2.5" fill="#fff" stroke-width="1.24" transform="rotate(-25 301.8 261.4)"/>
<rect x="321.1" y="240.6" width="7.8" height="3.8" rx="0.8" fill="#fff" stroke-width="1.76" transform="rotate(-25 321.1 240.6) skewX(-20)"/>
<path d="M265.7,188.5 L268.9,189.7 L268.4,198.1" stroke-width="1.54"/>
<path d="M279.1,211.9 L281.5,207.9 L282.1,217.0" stroke-width="1.76"/>
<path d="M306.7,211.7 Q306.2,205.5 306.4,204.5" stroke-width="1.37"/>
<path d="M280.2,191.2 L275.8,193.1 L275.2,183.8" stroke-width="1.77"/>
<rect x="277.0" y="190.8" width="2.7" height="1.4" rx="0.6" fill="#222" stroke="none" transform="rotate(-25 277.0 190.8)"/>
<ellipse cx="283.7" cy="182.7" rx="1.6" ry="1.3" fill="#fff" stroke-width="1.11" transform="rotate(0 283.7 182.7)"/>
<path d="M302.2,213.4 L305.4,219.9 L310.8,217.9" stroke-width="1.43"/>
<path d="M303.9,240.7 Q302.1,239.7 298.3,242.1" stroke-width="1.15"/>
<path d="M275.1,174.9 L268.5,178.4" stroke-width="1.62"/>
<path d="M305.3,272.4 L302.4,267.7 L307.6,264.8 L313.4,261.9" stroke-width="1.72"/>
<ellipse cx="244.0" cy="186.1" rx="2.3" ry="1.7" fill="#fff" stroke-width="1.46" transform="rotate(-25 244.0 186.1)"/>
<rect x="262.4" y="206.8" width="2.1" height="2.1" rx="0.6" fill="#222" stroke="none" transform="rotate(90 262.4 206.8)"/>
<rect x="320.4" y="217.4" width="1.5" height="2.2" rx="0.6" fill="#222" stroke="none" transform="rotate(-25 320.4 217.4)"/>
<path d="M312.6,242.1 L313.0,247.2" stroke-width="1.47"/>
<path d="M277.1,193.3 L276.8,197.8 L286.3,198.6 L286.4,193.7" stroke-width="1.48"/>
<ellipse cx="259.7" cy="168.0" rx="3.3" ry="2.3" fill="#fff" stroke-width="1.37" transform="rotate(-25 259.7 168.0)"/>
<path d="M293.4,205.2 L299.1,202.3 L302.3,196.8" stroke-width="1.17"/>
<rect x="275.5" y="228.0" width="1.9" height="1.6" rx="0.6" fill="#222" stroke="none" transform="rotate(0 275.5 228.0)"/>
<ellipse cx="255.9" cy="171.9" rx="3.8" ry="2.5" fill="#fff" stroke-width="1.34" transform="rotate(0 255.9 171.9)"/>
<ellipse cx="278.4" cy="191.7" rx="4.2" ry="3.8" fill="#fff" stroke-width="1.16" transform="rotate(25 278.4 191.7)"/>
<path d="M240.4,175.6 L234.3,177.8 L230.3,178.1" stroke-width="1.3"/>
<path d="M333.2,246.8 L333.4,254.2 L338.8,257.0 L338.5,264.8" stroke-width="1.1"/>
<path d="M312.0,256.6 Q315.1,252.5 315.9,249.6" stroke-width="1.35"/>
<rect x="308.2" y="235.0" width="1.4" height="1.7" rx="0.6" fill="#222" stroke="none" transform="rotate(25 308.2 235.0)"/>
<rect x="327.0" y="213.7" width="2.0" height="2.3" rx="0.6" fill="#222" stroke="none" transform="rotate(90 327.0 213.7)"/>
<path d="M287.8,239.4 L285.7,243.0" stroke-width="1.65"/>
<path d="M257.8,198.9 L253.7,191.0 L245.8,191.4 L245.4,185.0" stroke-width="1.34"/>
<rect x="273.1" y="206.5" width="2.8" height="1.6" rx="0.6" fill="#222" stroke="none" transform="rotate(25 273.1 206.5)"/>
<path d="M310.8,209.1 L313.8,203.4 L310.5,201.7 L308.8,204.4" stroke-width="1.49"/>
<path d="M295.5,223.1 L296.1,231.5 L288.9,227.6" stroke-width="1.21"/>
<rect x="297.0" y="264.1" width="5.9" height="6.8" rx="0.8" fill="#fff" stroke-width="1.58" transform="rotate(25 297.0 264.1) skewX(0)"/>
<path d="M325.3,243.8 L321.0,241.7" stroke-width="1.27"/>
<rect x="264.0" y="166.9" width="3.1" height="1.4" rx="0.6" fill="#222" stroke="none" transform="rotate(90 264.0 166.9)"/>
<path d="M325.0,229.9 L324.3,220.4 L321.7,226.0" stroke-width="1.61"/>
<ellipse cx="272.6" cy="183.5" rx="3.5" ry="3.3" fill="#fff" stroke-width="1.29" transform="rotate(-25 272.6 183.5)"/>
<rect x="333.9" y="235.5" width="1.4" height="2.1" rx="0.6" fill="#222" stroke="none" transform="rotate(-25 333.9 235.5)"/>
<path d="M257.1,201.4 L263.7,203.8" stroke-width="1.2"/>
<rect x="282.0" y="238.2" width="2.4" height="2.7" rx="0.6" fill="#222" stroke="none" transform="rotate(-25 282.0 238.2)"/>
<rect x="280.0" y="215.3" width="2.3" height="2.8" rx="0.6" fill="#222" stroke="none" transform="rotate(-25 280.0 215.3)"/>
<path d="M250.9,193.4 L245.8,201.4 L238.0,204.9" stroke-width="1.59"/>
<rect x="326.5" y="270.9" width="2.9" height="2.3" rx="0.6" fill="#222" stroke="none" transform="rotate(-25 326.5 270.9)"/>
<rect x="318.8" y="273.1" width="5.7" height="4.4" rx="0.8" fill="#fff" stroke-width="1.39" transform="rotate(-25 318.8 273.1) skewX(-20)"/>
<ellipse cx="291.2" cy="197.6" rx="2.1" ry="2.0" fill="#fff" stroke-width="1.42" transform="rotate(-25 291.2 197.6)"/>
<path d="M257.7,182.9 L250.7,180.1 L255.5,180.1" stroke-width="1.25"/>
<path d="M256.0,185.4 L262.3,182.9 L260.3,186.9" stroke-width="1.33"/>
<ellipse cx="294.4" cy="174.3" rx="1.7" ry="1.6" fill="#fff" stroke-width="1.15" transform="rotate(-25 294.4 174.3)"/>
<path d="M280.2,237.1 L279.7,244.0 L283.4,252.7" stroke-width="1.79"/>
<rect x="288.4" y="202.9" width="1.5" height="1.5" rx="0.6" fill="#222" stroke="none" transform="rotate(90 288.4 202.9)"/>
<path d="M327.9,243.7 Q325.2,247.7 325.2,246.5" stroke-width="1.42"/>
<path d="M244.4,179.8 L244.2,176.0 L245.7,172.7" stroke-width="1.13"/>
<path d="M306.7,179.9 Q311.6,182.5 311.8,183.9" stroke-width="1.55"/>
<path d="M306.9,209.8 L312.3,211.8 L307.1,214.8" stroke-width="1.48"/>
<path d="M294.9,239.2 L294.4,232.1 L294.5,225.9" stroke-width="1.62"/>
<ellipse cx="334.8" cy="216.0" rx="3.9" ry="3.3" fill="#fff" stroke-width="1.54" transform="rotate(25 334.8 216.0)"/>
<ellipse cx="266.7" cy="178.2" rx="3.1" ry="1.9" fill="#fff" stroke-width="1.26" transform="rotate(25 266.7 178.2)"/>
<ellipse cx="266.3" cy="169.4" rx="3.0" ry="2.3" fill="#fff" stroke-width="1.34" transform="rotate(0 266.3 169.4)"/>
<ellipse cx="304.0" cy="238.9" rx="2.8" ry="2.6" fill="#fff" stroke-width="1.38" transform="rotate(0 304.0 238.9)"/>
<path d="M284.6,168.6 L290.0,165.8 L290.3,161.2" stroke-width="1.44"/>
<rect x="319.2" y="188.0" width="6.3" height="5.2" rx="0.8" fill="#fff" stroke-width="1.45" transform="rotate(-25 319.2 188.0) skewX(20)"/>
<path d="M303.6,239.4 L296.6,235.6 L302.5,237.9" stroke-width="1.31"/>
<path d="M335.5,235.6 L331.6,237.1 L331.3,242.2 L339.6,242.5" stroke-width="1.55"/>
<path d="M314.2,237.0 L305.4,240.9 L310.4,243.1 L319.3,247.3" stroke-width="1.39"/>
<ellipse cx="304.3" cy="249.5" rx="2.4" ry="1.6" fill="#fff" stroke-width="1.46" transform="rotate(-25 304.3 249.5)"/>
<ellipse cx="239.8" cy="189.5" rx="2.4" ry="1.4" fill="#fff" stroke-width="1.17" transform="rotate(-25 239.8 189.5)"/>
<ellipse cx="300.8" cy="271.6" rx="2.3" ry="1.8" fill="#fff" stroke-width="1.33" transform="rotate(25 300.8 271.6)"/>
<ellipse cx="243.8" cy="169.4" rx="3.5" ry="2.8" fill="#fff" stroke-width="1.14" transform="rotate(25 243.8 169.4)"/>
<rect x="261.9" y="196.6" width="1.9" height="2.0" rx="0.6" fill="#222" stroke="none" transform="rotate(90 261.9 196.6)"/>
<rect x="318.3" y="266.2" width="2.2" height="1.9" rx="0.6" fill="#222" stroke="none" transform="rotate(0 318.3 266.2)"/>
<rect x="297.4" y="207.5" width="1.6" height="2.8" rx="0.6" fill="#222" stroke="none" transform="rotate(25 297.4 207.5)"/>
<path d="M318.1,227.0 Q315.9,222.8 319.0,223.8" stroke-width="1.29"/>
<rect x="257.0" y="187.8" width="3.5" height="4.9" rx="0.8" fill="#fff" stroke-width="1.49" transform="rotate(25 257.0 187.8) skewX(-20)"/>
<ellipse cx="339.5" cy="216.8" rx="3.7" ry="2.4" fill="#fff" stroke-width="1.27" transform="rotate(0 339.5 216.8)"/>
<path d="M279.1,168.3 L278.8,164.8 L280.8,168.7 L284.4,177.1" stroke-width="1.27"/>
<rect x="271.6" y="160.6" width="7.3" height="6.0" rx="0.8" fill="#fff" stroke-width="1.6" transform="rotate(-25 271.6 160.6) skewX(20)"/>
<ellipse cx="264.6" cy="182.4" rx="2.7" ry="1.7" fill="#fff" stroke-width="1.24" transform="rotate(-25 264.6 182.4)"/>
<ellipse cx="279.3" cy="193.8" rx="2.8" ry="2.6" fill="#fff" stroke-width="1.42" transform="rotate(25 279.3 193.8)"/>
<path d="M304.9,238.0 L300.2,239.9 L300.5,245.0 L296.6,252.1" stroke-width="1.66"/>
<path d="M315.9,188.6 L316.3,184.3 L319.4,182.8 L318.6,173.0" stroke-width="1.25"/>
<path d="M313.9,226.3 L312.6,229.2 L309.9,233.4 L307.1,237.8" stroke-width="1.59"/>
<ellipse cx="305.3" cy="192.1" rx="1.9" ry="1.6" fill="#fff" stroke-width="1.39" transform="rotate(25 305.3 192.1)"/>
<path d="M284.7,223.8 L284.7,227.1 L284.7,222.9" stroke-width="1.12"/>
<path d="M322.3,202.9 L325.7,196.1" stroke-width="1.35"/>
<rect x="318.2" y="231.9" width="4.8" height="3.1" rx="0.8" fill="#fff" stroke-width="1.53" transform="rotate(-25 318.2 231.9) skewX(0)"/>
<path d="M318.8,245.2 L319.1,240.7" stroke-width="1.44"/>
<rect x="309.0" y="197.8" width="6.6" height="4.3" rx="0.8" fill="#fff" stroke-width="1.25" transform="rotate(25 309.0 197.8) skewX(0)"/>
<path d="M274.0,222.8 L275.7,226.6 L271.5,226.5" stroke-width="1.32"/>
<ellipse cx="299.3" cy="199.1" rx="3.8" ry="2.9" fill="#fff" stroke-width="1.32" transform="rotate(-25 299.3 199.1)"/>
<rect x="293.0" y="226.8" width="1.9" height="2.8" rx="0.6" fill="#222" stroke="none" transform="rotate(90 293.0 226.8)"/>
<rect x="243.5" y="170.0" width="1.6" height="1.6" rx="0.6" fill="#222" stroke="none" transform="rotate(25 243.5 170.0)"/>
<path d="M308.6,196.0 L308.5,193.0" stroke-width="1.3"/>
<path d="M274.5,207.1 L268.6,210.0 L264.2,217.0" stroke-width="1.22"/>
<path d="M308.3,217.1 L311.7,223.2 L312.1,228.3" stroke-width="1.37"/>
<path d="M284.0,219.6 L284.3,213.4 L288.6,205.3 L282.7,208.6" stroke-width="1.75"/>
<path d="M293.0,218.7 L296.4,217.2 L296.7,208.9" stroke-width="1.7"/>
<path d="M294.9,268.8 L298.4,269.0" stroke-width="1.63"/>
<path d="M306.4,183.6 L313.7,184.1 L322.1,188.5" stroke-width="1.48"/>
<path d="M262.0,194.7 L270.0,198.1" stroke-width="1.72"/>
<rect x="251.5" y="181.8" width="2.1" height="2.7" rx="0.6" fill="#222" stroke="none" transform="rotate(0 251.5 181.8)"/>
<ellipse cx="319.9" cy="264.3" rx="1.8" ry="1.0" fill="#fff" stroke-width="1.32" transform="rotate(0 319.9 264.3)"/>
<path d="M256.2,186.0 L255.8,191.2" stroke-width="1.69"/>
<rect x="276.6" y="220.7" width="3.2" height="1.8" rx="0.6" fill="#222" stroke="none" transform="rotate(0 276.6 220.7)"/>
<path d="M303.3,229.7 L307.4,236.6 L309.1,233.9" stroke-width="1.11"/>
<path d="M276.5,184.6 L276.4,188.0 L283.1,190.8" stroke-width="1.36"/>
<path d="M251.3,198.4 Q247.4,196.8 247.4,195.8" stroke-width="1.66"/>
<path d="M282.0,166.7 L282.4,173.7 L282.9,178.8 L274.5,174.3" stroke-width="1.15"/>
<path d="M328.4,227.3 L321.2,224.1 L318.1,225.3" stroke-width="1.48"/>
<path d="M267.6,186.8 Q268.0,185.3 266.8,179.4" stroke-width="1.17"/>
<path d="M272.2,187.7 L272.3,180.0 L279.0,183.6 L279.1,190.5" stroke-width="1.18"/>
<path d="M317.0,235.3 L317.5,229.6 L321.5,237.7" stroke-width="1.51"/>
<ellipse cx="264.0" cy="201.1" rx="3.8" ry="2.4" fill="#fff" stroke-width="1.23" transform="rotate(0 264.0 201.1)"/>
<rect x="299.6" y="244.6" width="2.5" height="2.2" rx="0.6" fill="#222" stroke="none" transform="rotate(90 299.6 244.6)"/>
<rect x="339.1" y="233.2" width="1.7" height="2.0" rx="0.6" fill="#222" stroke="none" transform="rotate(90 339.1 233.2)"/>
<path d="M325.2,268.4 L317.7,265.1 L319.7,261.6 L323.4,263.4" stroke-width="1.32"/>
<ellipse cx="293.2" cy="181.0" rx="3.2" ry="2.3" fill="#fff" stroke-width="1.35" transform="rotate(-25 293.2 181.0)"/>
<path d="M263.4,188.2 L266.3,186.9" stroke-width="1.69"/>
<ellipse cx="272.9" cy="169.0" rx="4.0" ry="2.9" fill="#fff" stroke-width="1.7" transform="rotate(0 272.9 169.0)"/>
<path d="M312.0,262.3 L309.3,266.5" stroke-width="1.51"/>
<rect x="302.2" y="213.3" width="1.7" height="2.2" rx="0.6" fill="#222" stroke="none" transform="rotate(25 302.2 213.3)"/>
<ellipse cx="307.2" cy="274.9" rx="2.7" ry="2.1" fill="#fff" stroke-width="1.3" transform="rotate(25 307.2 274.9)"/>
<path d="M286.8,205.0 L293.0,202.3" stroke-width="1.35"/>
<rect x="282.7" y="225.1" width="1.5" height="2.2" rx="0.6" fill="#222" stroke="none" transform="rotate(0 282.7 225.1)"/>
<rect x="259.0" y="159.3" width="4.4" height="3.5" rx="0.8" fill="#fff" stroke-width="1.44" transform="rotate(-25 259.0 159.3) skewX(0)"/>
<path d="M306.5,183.2 L306.1,188.6" stroke-width="1.52"/>
<path d="M280.8,166.9 L285.3,175.1 L281.4,176.6" stroke-width="1.78"/>
<path d="M334.7,230.9 L330.9,239.0" stroke-width="1.61"/>
<ellipse cx="269.7" cy="177.9" rx="2.4" ry="1.8" fill="#fff" stroke-width="1.63" transform="rotate(0 269.7 177.9)"/>
<path d="M260.8,186.7 L261.0,190.3 L257.1,190.2 L256.6,180.3" stroke-width="1.69"/>
<path d="M262.8,212.9 L262.6,205.4 L262.7,209.1" stroke-width="1.29"/>
<path d="M331.9,193.7 L330.0,196.8 L325.3,188.9" stroke-width="1.18"/>
<ellipse cx="309.0" cy="269.2" rx="3.7" ry="2.5" fill="#fff" stroke-width="1.75" transform="rotate(25 309.0 269.2)"/>
<path d="M319.7,196.5 L326.4,193.8" stroke-width="1.18"/>
<path d="M261.9,213.2 L257.1,204.6 L266.2,205.3 L273.0,208.2" stroke-width="1.32"/>
<path d="M246.5,206.4 L245.9,214.7 L248.6,219.1" stroke-width="1.79"/>
<ellipse cx="279.6" cy="218.8" rx="3.0" ry="2.7" fill="#fff" stroke-width="1.58" transform="rotate(25 279.6 218.8)"/>
<rect x="246.5" y="175.1" width="3.1" height="1.7" rx="0.6" fill="#222" stroke="none" transform="rotate(90 246.5 175.1)"/>
<path d="M251.4,177.9 L259.5,174.8 L261.1,178.0" stroke-width="1.54"/>
<ellipse cx="244.1" cy="189.5" rx="3.3" ry="2.4" fill="#fff" stroke-width="1.51" transform="rotate(0 244.1 189.5)"/>
<rect x="304.4" y="208.5" width="2.1" height="2.1" rx="0.6" fill="#222" stroke="none" transform="rotate(25 304.4 208.5)"/>
<path d="M295.4,221.6 L295.5,215.3 L287.4,211.2" stroke-width="1.77"/>
<path d="M249.4,177.4 L253.3,185.9" stroke-width="1.73"/>
<path d="M311.2,249.6 L311.5,243.0 L307.4,242.9 L310.6,242.8" stroke-width="1.42"/>
<path d="M329.2,236.9 L329.4,240.7" stroke-width="1.35"/>
<path d="M300.7,197.7 L308.8,200.9 L313.6,202.9 L314.1,209.3" stroke-width="1.34"/>
<path d="M285.6,251.6 L292.3,251.5 L297.0,254.0" stroke-width="1.67"/>
<path d="M249.5,193.7 L255.0,195.8 L246.6,200.1" stroke-width="1.69"/>
<rect x="278.1" y="167.1" width="6.2" height="4.6" rx="0.8" fill="#fff" stroke-width="1.39" transform="rotate(25 278.1 167.1) skewX(20)"/>
<rect x="260.4" y="165.4" width="2.3" height="1.8" rx="0.6" fill="#222" stroke="none" transform="rotate(0 260.4 165.4)"/>
<rect x="275.0" y="211.8" width="2.8" height="1.3" rx="0.6" fill="#222" stroke="none" transform="rotate(-25 275.0 211.8)"/>
<ellipse cx="253.2" cy="186.0" rx="3.5" ry="2.0" fill="#fff" stroke-width="1.52" transform="rotate(-25 253.2 186.0)"/>
<rect x="282.7" y="220.0" width="2.8" height="2.1" rx="0.6" fill="#222" stroke="none" transform="rotate(90 282.7 220.0)"/>
<path d="M247.0,203.6 L247.0,210.3 L254.0,210.3" stroke-width="1.37"/>
<rect x="329.4" y="247.7" width="2.8" height="1.9" rx="0.6" fill="#222" stroke="none" transform="rotate(0 329.4 247.7)"/>
<path d="M327.5,249.7 L334.7,246.5 L339.0,244.4 L333.8,246.8" stroke-width="1.16"/>
<path d="M248.3,197.4 L256.9,201.5 L248.2,198.0 L240.6,197.8" stroke-width="1.43"/>
<rect x="269.2" y="160.3" width="2.7" height="2.5" rx="0.6" fill="#222" stroke="none" transform="rotate(-25 269.2 160.3)"/>
<rect x="249.2" y="167.6" width="6.4" height="4.1" rx="0.8" fill="#fff" stroke-width="1.48" transform="rotate(25 249.2 167.6) skewX(-20)"/>
<path d="M313.9,248.5 L323.0,252.1 L332.0,255.8" stroke-width="1.29"/>
<rect x="332.3" y="257.3" width="7.2" height="3.3" rx="0.8" fill="#fff" stroke-width="1.67" transform="rotate(-25 332.3 257.3) skewX(-20)"/>
<ellipse cx="277.5" cy="218.4" rx="3.1" ry="2.6" fill="#fff" stroke-width="1.13" transform="rotate(0 277.5 218.4)"/>
<path d="M257.5,195.4 L257.9,186.8" stroke-width="1.14"/>
<ellipse cx="282.6" cy="255.0" rx="4.2" ry="4.0" fill="#fff" stroke-width="1.21" transform="rotate(-25 282.6 255.0)"/>
<rect x="321.5" y="227.7" width="2.5" height="2.3" rx="0.6" fill="#222" stroke="none" transform="rotate(25 321.5 227.7)"/>
<path d="M312.4,230.4 L312.3,233.8" stroke-width="1.34"/>
<ellipse cx="305.8" cy="229.5" rx="3.7" ry="3.7" fill="#fff" stroke-width="1.77" transform="rotate(25 305.8 229.5)"/>
<path d="M317.0,228.9 L316.4,221.5 L322.8,221.4" stroke-width="1.22"/>
<path d="M324.8,249.1 Q324.2,246.3 329.4,245.7" stroke-width="1.42"/>
<ellipse cx="277.7" cy="190.4" rx="2.3" ry="1.7" fill="#fff" stroke-width="1.17" transform="rotate(-25 277.7 190.4)"/>
<path d="M273.8,163.4 L267.6,160.8 L267.4,151.8" stroke-width="1.58"/>
<path d="M308.9,200.2 L308.7,203.6 L316.6,207.7" stroke-width="1.73"/>
<path d="M282.1,212.7 L287.5,210.7 L283.5,212.8" stroke-width="1.32"/>
<rect x="283.8" y="208.4" width="7.2" height="3.8" rx="0.8" fill="#fff" stroke-width="1.78" transform="rotate(25 283.8 208.4) skewX(20)"/>
<path d="M244.8,169.7 Q241.1,168.2 243.4,163.2" stroke-width="1.19"/>
<path d="M321.3,216.6 L318.5,217.8 L314.7,219.7" stroke-width="1.12"/>
<path d="M296.6,206.8 L296.4,198.4 L299.2,199.5" stroke-width="1.29"/>
<path d="M314.4,273.9 L309.5,275.9 L309.6,279.5" stroke-width="1.14"/>
<path d="M252.2,161.4 L255.0,157.0 L252.1,162.5" stroke-width="1.39"/>
<rect x="299.8" y="261.2" width="1.7" height="2.3" rx="0.6" fill="#222" stroke="none" transform="rotate(25 299.8 261.2)"/>
<path d="M262.2,176.4 Q262.5,174.1 268.2,173.3" stroke-width="1.74"/>
<rect x="267.4" y="163.0" width="4.0" height="4.4" rx="0.8" fill="#fff" stroke-width="1.35" transform="rotate(-25 267.4 163.0) skewX(20)"/>
<path d="M260.2,200.4 L260.2,196.5" stroke-width="1.19"/>
<path d="M321.9,189.3 L325.0,196.5 L333.3,199.8" stroke-width="1.36"/>
<rect x="308.5" y="207.2" width="3.1" height="2.6" rx="0.6" fill="#222" stroke="none" transform="rotate(90 308.5 207.2)"/>
<path d="M322.7,207.1 Q320.9,211.1 322.0,210.2" stroke-width="1.11"/>
<path d="M340.0,228.5 L343.4,235.1 L341.7,231.1 L337.6,229.4" stroke-width="1.42"/>
<path d="M315.7,213.9 Q314.4,217.3 307.5,217.7" stroke-width="1.3"/>
<path d="M327.9,267.0 L331.9,267.0" stroke-width="1.53"/>
<path d="M314.9,214.6 L318.9,222.2 L310.1,222.0 L304.4,225.2" stroke-width="1.16"/>
<rect x="248.2" y="170.5" width="2.1" height="2.3" rx="0.6" fill="#222" stroke="none" transform="rotate(0 248.2 170.5)"/>
<path d="M331.4,230.6 Q329.0,227.7 328.4,229.7" stroke-width="1.5"/>
<path d="M243.8,176.7 L245.4,179.4 L253.9,176.0" stroke-width="1.34"/>
<path d="M303.6,199.4 L300.5,205.9 L300.3,210.7" stroke-width="1.23"/>
<path d="M328.9,198.8 Q327.6,200.2 328.5,206.3" stroke-width="1.51"/>
<ellipse cx="261.9" cy="169.8" rx="3.5" ry="2.4" fill="#fff" stroke-width="1.2" transform="rotate(25 261.9 169.8)"/>
<path d="M301.7,243.6 L309.0,243.3 L309.1,238.3" stroke-width="1.51"/>
<path d="M326.0,243.0 L317.9,246.9 L322.6,239.4" stroke-width="1.12"/>
<path d="M306.8,223.8 L297.6,223.9" stroke-width="1.27"/>
<path d="M332.5,213.6 Q333.1,207.0 329.8,206.3" stroke-width="1.53"/>
<ellipse cx="305.1" cy="179.1" rx="3.3" ry="3.0" fill="#fff" stroke-width="1.51" transform="rotate(25 305.1 179.1)"/>
<path d="M285.5,174.6 L285.8,167.5 L294.1,167.2" stroke-width="1.47"/>
<path d="M266.7,202.0 L267.5,192.1 L263.5,198.3" stroke-width="1.61"/>
<path d="M282.2,172.1 L282.7,165.7 L286.6,157.6" stroke-width="1.63"/>
<path d="M286.5,177.6 L290.5,176.1 L286.4,174.1" stroke-width="1.35"/>
<ellipse cx="330.6" cy="210.9" rx="1.9" ry="1.4" fill="#fff" stroke-width="1.42" transform="rotate(25 330.6 210.9)"/>
<rect x="300.2" y="274.0" width="7.2" height="4.7" rx="0.8" fill="#fff" stroke-width="1.1" transform="rotate(-25 300.2 274.0) skewX(0)"/>
<path d="M307.3,198.3 L304.1,192.6 L299.9,190.9" stroke-width="1.51"/>
<path d="M298.9,189.9 L292.0,186.5 L291.6,178.5" stroke-width="1.43"/>
<path d="M299.6,231.5 L299.5,227.5 L301.3,223.8 L304.7,222.1" stroke-width="1.8"/>
<path d="M327.0,265.1 Q328.4,267.1 330.3,263.5" stroke-width="1.65"/>
<rect x="277.3" y="213.9" width="8.2" height="4.0" rx="0.8" fill="#fff" stroke-width="1.53" transform="rotate(-25 277.3 213.9) skewX(-20)"/>
<path d="M306.3,186.3 L305.9,192.7" stroke-width="1.44"/>
<rect x="287.1" y="185.4" width="1.3" height="1.7" rx="0.6" fill="#222" stroke="none" transform="rotate(90 287.1 185.4)"/>
<ellipse cx="307.8" cy="184.8" rx="3.5" ry="3.5" fill="#fff" stroke-width="1.51" transform="rotate(25 307.8 184.8)"/>
<rect x="248.3" y="163.1" width="2.8" height="2.1" rx="0.6" fill="#222" stroke="none" transform="rotate(0 248.3 163.1)"/>
<path d="M339.5,231.4 L343.1,223.8 L338.8,222.1 L338.4,216.6" stroke-width="1.48"/>
<rect x="270.6" y="206.1" width="2.9" height="1.6" rx="0.6" fill="#222" stroke="none" transform="rotate(0 270.6 206.1)"/>
<ellipse cx="289.7" cy="175.4" rx="2.6" ry="1.7" fill="#fff" stroke-width="1.28" transform="rotate(0 289.7 175.4)"/>
<path d="M290.6,242.3 L287.4,247.9 L287.5,255.1" stroke-width="1.46"/>
<rect x="259.8" y="173.0" width="3.1" height="1.8" rx="0.6" fill="#222" stroke="none" transform="rotate(-25 259.8 173.0)"/>
<path d="M315.8,216.5 L318.6,215.1 L322.6,222.8 L324.8,218.7" stroke-width="1.48"/>
<ellipse cx="288.0" cy="207.2" rx="2.8" ry="2.1" fill="#fff" stroke-width="1.51" transform="rotate(0 288.0 207.2)"/>
<rect x="274.7" y="181.6" width="3.0" height="2.6" rx="0.6" fill="#222" stroke="none" transform="rotate(25 274.7 181.6)"/>
<path d="M252.5,209.5 L252.3,212.5 L252.4,219.1" stroke-width="1.73"/>
<ellipse cx="281.2" cy="232.6" rx="3.7" ry="3.2" fill="#fff" stroke-width="1.64" transform="rotate(25 281.2 232.6)"/>
<ellipse cx="283.2" cy="210.7" rx="3.7" ry="2.8" fill="#fff" stroke-width="1.32" transform="rotate(0 283.2 210.7)"/>
<path d="M319.7,208.6 L321.8,205.3 L321.4,212.9 L326.5,211.0" stroke-width="1.67"/>
<ellipse cx="329.9" cy="264.6" rx="2.4" ry="2.1" fill="#fff" stroke-width="1.26" transform="rotate(0 329.9 264.6)"/>
<path d="M263.4,164.9 L266.7,172.3 L263.7,178.5 L258.5,170.4" stroke-width="1.51"/>
<path d="M290.3,174.0 L285.4,171.7 L281.5,169.7 L275.9,172.2" stroke-width="1.29"/>
<ellipse cx="275.6" cy="196.6" rx="3.5" ry="3.0" fill="#fff" stroke-width="1.79" transform="rotate(-25 275.6 196.6)"/>
<path d="M335.1,238.6 L334.9,232.9 L334.8,228.8" stroke-width="1.61"/>
<ellipse cx="305.0" cy="192.2" rx="2.0" ry="1.9" fill="#fff" stroke-width="1.28" transform="rotate(-25 305.0 192.2)"/>
<rect x="327.6" y="241.3" width="9.5" height="4.7" rx="0.8" fill="#fff" stroke-width="1.74" transform="rotate(25 327.6 241.3) skewX(-20)"/>
<path d="M278.2,200.4 Q280.0,196.3 279.1,197.5" stroke-width="1.44"/>
<path d="M313.8,186.6 L314.0,190.1 L313.8,198.5" stroke-width="1.7"/>
<path d="M301.1,232.0 L300.9,237.6 L306.9,235.4 L303.7,230.2" stroke-width="1.26"/>
<rect x="321.5" y="204.0" width="6.3" height="5.2" rx="0.8" fill="#fff" stroke-width="1.17" transform="rotate(-25 321.5 204.0) skewX(0)"/>
<path d="M293.1,244.5 L296.8,251.3 L293.4,253.0" stroke-width="1.43"/>
<ellipse cx="286.3" cy="191.8" rx="2.3" ry="1.7" fill="#fff" stroke-width="1.46" transform="rotate(-25 286.3 191.8)"/>
<path d="M274.7,240.8 L276.5,238.0 L269.2,238.1" stroke-width="1.65"/>
<rect x="283.3" y="237.7" width="5.0" height="6.3" rx="0.8" fill="#fff" stroke-width="1.44" transform="rotate(-25 283.3 237.7) skewX(0)"/>
<ellipse cx="299.8" cy="244.6" rx="2.5" ry="1.9" fill="#fff" stroke-width="1.78" transform="rotate(25 299.8 244.6)"/>
<path d="M312.5,259.6 L305.6,262.2" stroke-width="1.58"/>
<rect x="266.6" y="163.7" width="9.4" height="5.0" rx="0.8" fill="#fff" stroke-width="1.32" transform="rotate(-25 266.6 163.7) skewX(0)"/>
<path d="M310.1,204.0 Q311.7,205.1 317.2,209.7" stroke-width="1.43"/>
<rect x="284.1" y="216.3" width="9.4" height="3.2" rx="0.8" fill="#fff" stroke-width="1.32" transform="rotate(-25 284.1 216.3) skewX(20)"/>
<rect x="312.2" y="236.8" width="4.3" height="5.2" rx="0.8" fill="#fff" stroke-width="1.2" transform="rotate(25 312.2 236.8) skewX(-20)"/>
<ellipse cx="266.2" cy="168.1" rx="2.0" ry="1.4" fill="#fff" stroke-width="1.14" transform="rotate(-25 266.2 168.1)"/>
<ellipse cx="319.2" cy="231.4" rx="2.5" ry="2.2" fill="#fff" stroke-width="1.15" transform="rotate(-25 319.2 231.4)"/>
<rect x="301.8" y="203.0" width="2.6" height="1.6" rx="0.6" fill="#222" stroke="none" transform="rotate(90 301.8 203.0)"/>
<ellipse cx="309.2" cy="182.4" rx="2.0" ry="1.4" fill="#fff" stroke-width="1.11" transform="rotate(-25 309.2 182.4)"/>
<path d="M313.1,202.3 L309.9,203.8 L306.7,205.3" stroke-width="1.41"/>
<ellipse cx="284.6" cy="210.6" rx="3.1" ry="3.0" fill="#fff" stroke-width="1.65" transform="rotate(25 284.6 210.6)"/>
<rect x="282.2" y="216.4" width="5.4" height="4.9" rx="0.8" fill="#fff" stroke-width="1.64" transform="rotate(-25 282.2 216.4) skewX(-20)"/>
<path d="M339.1,241.8 Q342.4,238.5 348.3,240.1" stroke-width="1.7"/>
<rect x="305.8" y="267.9" width="2.5" height="2.7" rx="0.6" fill="#222" stroke="none" transform="rotate(-25 305.8 267.9)"/>
<path d="M258.1,159.7 L264.9,159.8" stroke-width="1.14"/>
<rect x="287.5" y="209.8" width="2.3" height="2.1" rx="0.6" fill="#222" stroke="none" transform="rotate(0 287.5 209.8)"/>
<ellipse cx="274.8" cy="227.1" rx="3.1" ry="2.1" fill="#fff" stroke-width="1.29" transform="rotate(0 274.8 227.1)"/>
<ellipse cx="289.1" cy="202.4" rx="3.6" ry="2.4" fill="#fff" stroke-width="1.53" transform="rotate(25 289.1 202.4)"/>
<path d="M274.0,189.5 L265.1,193.3 L265.3,203.2" stroke-width="1.19"/>
<ellipse cx="338.0" cy="202.9" rx="4.1" ry="2.4" fill="#fff" stroke-width="1.42" transform="rotate(25 338.0 202.9)"/>
<path d="M242.9,191.6 Q246.7,195.1 248.9,195.7" stroke-width="1.79"/>
<ellipse cx="284.9" cy="178.0" rx="2.5" ry="1.7" fill="#fff" stroke-width="1.64" transform="rotate(-25 284.9 178.0)"/>
<ellipse cx="289.2" cy="250.3" rx="2.0" ry="1.2" fill="#fff" stroke-width="1.5" transform="rotate(-25 289.2 250.3)"/>
<ellipse cx="277.4" cy="205.1" rx="2.6" ry="1.6" fill="#fff" stroke-width="1.53" transform="rotate(-25 277.4 205.1)"/>
<path d="M297.2,205.1 L305.2,201.6 L300.3,203.9" stroke-width="1.2"/>
<path d="M244.2,174.3 L246.6,178.9 L249.1,184.5" stroke-width="1.48"/>
<path d="M281.4,240.2 Q282.8,246.0 284.4,246.8" stroke-width="1.55"/>
<path d="M292.9,173.7 L293.1,166.7 L290.0,171.6" stroke-width="1.59"/>
<path d="M245.7,164.8 L246.3,174.5 L246.2,169.0" stroke-width="1.16"/>
<path d="M316.2,256.8 L316.7,266.3 L314.3,260.6 L306.9,264.2" stroke-width="1.1"/>
<path d="M320.1,254.0 L320.2,262.6" stroke-width="1.3"/>
<ellipse cx="401.3" cy="245.7" rx="3.5" ry="3.0" fill="#fff" stroke-width="1.35" transform="rotate(0 401.3 245.7)"/>
<path d="M423.2,246.9 L417.1,244.5 L423.8,247.9" stroke-width="1.18"/>
<rect x="372.8" y="195.2" width="8.2" height="4.4" rx="0.8" fill="#fff" stroke-width="1.25" transform="rotate(25 372.8 195.2) skewX(20)"/>
<ellipse cx="349.4" cy="225.5" rx="2.9" ry="2.2" fill="#fff" stroke-width="1.31" transform="rotate(0 349.4 225.5)"/>
<rect x="423.3" y="229.1" width="4.0" height="3.8" rx="0.8" fill="#fff" stroke-width="1.5" transform="rotate(-25 423.3 229.1) skewX(20)"/>
<path d="M423.9,246.8 L432.2,250.8 L437.0,249.0" stroke-width="1.24"/>
<rect x="421.1" y="250.4" width="2.7" height="2.7" rx="0.6" fill="#222" stroke="none" transform="rotate(0 421.1 250.4)"/>
<ellipse cx="369.3" cy="229.9" rx="1.7" ry="1.2" fill="#fff" stroke-width="1.18" transform="rotate(25 369.3 229.9)"/>
<rect x="377.0" y="219.9" width="9.2" height="6.1" rx="0.8" fill="#fff" stroke-width="1.01" transform="rotate(25 377.0 219.9) skewX(-20)"/>
<path d="M387.2,237.4 L394.2,237.1" stroke-width="1.33"/>
<rect x="398.9" y="223.4" width="2.8" height="2.2" rx="0.6" fill="#222" stroke="none" transform="rotate(25 398.9 223.4)"/>
<path d="M392.7,231.2 L396.9,232.9 L401.9,230.8" stroke-width="1.38"/>
<path d="M383.0,222.7 L389.9,218.9 L393.4,218.8 L388.0,221.6" stroke-width="1.11"/>
<path d="M407.0,247.0 L412.0,249.5 L406.7,252.3" stroke-width="1.18"/>
<path d="M403.2,198.2 L401.6,195.0 L396.9,193.1 L403.2,189.8" stroke-width="1.43"/>
<ellipse cx="362.4" cy="242.0" rx="1.9" ry="1.8" fill="#fff" stroke-width="1.38" transform="rotate(-25 362.4 242.0)"/>
<rect x="372.1" y="218.1" width="9.1" height="3.1" rx="0.8" fill="#fff" stroke-width="1.42" transform="rotate(-25 372.1 218.1) skewX(20)"/>
<path d="M358.8,205.5 L364.0,205.3" stroke-width="1.31"/>
<path d="M402.3,206.2 L394.8,208.9 L403.9,205.5" stroke-width="1.16"/>
<path d="M394.1,210.9 L398.4,202.0 L391.3,204.7" stroke-width="1.14"/>
<path d="M407.9,184.6 Q408.2,181.4 408.8,177.9" stroke-width="1.15"/>
<path d="M434.2,240.6 L434.5,232.5 L428.9,234.8" stroke-width="1.43"/>
<path d="M418.4,242.9 Q422.0,244.0 425.6,241.2" stroke-width="1.2"/>
<path d="M374.6,238.2 L374.6,242.4" stroke-width="1.43"/>
<path d="M421.0,232.7 L420.6,241.2 L425.7,240.8" stroke-width="1.19"/>
<path d="M420.0,232.2 L412.7,235.3" stroke-width="1.22"/>
<path d="M349.5,217.3 L340.1,216.5 L340.3,212.9 L343.7,211.3" stroke-width="1.03"/>
<rect x="378.2" y="199.8" width="1.9" height="2.7" rx="0.6" fill="#222" stroke="none" transform="rotate(25 378.2 199.8)"/>
<rect x="384.1" y="193.9" width="2.4" height="2.0" rx="0.6" fill="#222" stroke="none" transform="rotate(25 384.1 193.9)"/>
<path d="M374.0,212.8 L374.1,204.8" stroke-width="1.38"/>
<path d="M414.1,219.3 L406.5,219.0 L411.6,211.1 L413.9,207.1" stroke-width="1.08"/>
<path d="M410.8,215.3 L401.0,215.5 L400.3,225.2" stroke-width="1.31"/>
<ellipse cx="363.7" cy="226.6" rx="4.0" ry="2.2" fill="#fff" stroke-width="1.31" transform="rotate(-25 363.7 226.6)"/>
<path d="M394.1,194.4 L394.7,203.5 L394.6,211.1" stroke-width="1.39"/>
<rect x="397.2" y="232.3" width="7.0" height="4.5" rx="0.8" fill="#fff" stroke-width="1.06" transform="rotate(25 397.2 232.3) skewX(20)"/>
<rect x="426.2" y="246.2" width="6.7" height="6.5" rx="0.8" fill="#fff" stroke-width="1.16" transform="rotate(25 426.2 246.2) skewX(0)"/>
<path d="M408.6,234.2 L404.0,241.7" stroke-width="1.26"/>
<path d="M352.4,206.8 L360.8,202.2" stroke-width="1.11"/>
<path d="M365.1,234.3 L373.9,230.6 L366.0,230.2" stroke-width="1.2"/>
<ellipse cx="363.0" cy="227.9" rx="2.8" ry="2.1" fill="#fff" stroke-width="1.15" transform="rotate(-25 363.0 227.9)"/>
<path d="M418.4,248.8 Q417.6,247.4 421.5,250.6" stroke-width="1.22"/>
<ellipse cx="405.6" cy="197.2" rx="3.8" ry="2.2" fill="#fff" stroke-width="1.06" transform="rotate(0 405.6 197.2)"/>
<ellipse cx="381.1" cy="237.7" rx="3.9" ry="3.0" fill="#fff" stroke-width="1.5" transform="rotate(0 381.1 237.7)"/>
<ellipse cx="422.0" cy="239.8" rx="4.1" ry="2.9" fill="#fff" stroke-width="1.03" transform="rotate(-25 422.0 239.8)"/>
<path d="M436.6,234.5 L427.7,230.0 L434.0,230.5" stroke-width="1.09"/>
<rect x="390.7" y="227.5" width="2.3" height="1.9" rx="0.6" fill="#222" stroke="none" transform="rotate(-25 390.7 227.5)"/>
<path d="M385.5,211.4 L388.7,211.7 L395.6,208.1" stroke-width="1.42"/>
<path d="M373.0,223.8 L370.7,218.9 L373.7,220.0 L379.3,217.2" stroke-width="1.03"/>
<rect x="379.6" y="241.4" width="8.3" height="4.4" rx="0.8" fill="#fff" stroke-width="1.12" transform="rotate(25 379.6 241.4) skewX(0)"/>
<ellipse cx="406.0" cy="189.6" rx="2.2" ry="1.7" fill="#fff" stroke-width="1.34" transform="rotate(25 406.0 189.6)"/>
<rect x="381.2" y="218.8" width="4.8" height="3.6" rx="0.8" fill="#fff" stroke-width="1.34" transform="rotate(25 381.2 218.8) skewX(-20)"/>
<ellipse cx="430.1" cy="249.6" rx="3.5" ry="2.7" fill="#fff" stroke-width="1.18" transform="rotate(0 430.1 249.6)"/>
<ellipse cx="391.4" cy="226.9" rx="2.0" ry="1.6" fill="#fff" stroke-width="1.31" transform="rotate(25 391.4 226.9)"/>
<path d="M395.5,223.2 Q401.7,222.4 402.3,224.4" stroke-width="1.39"/>
<path d="M369.8,214.4 L367.3,209.1" stroke-width="1.24"/>
<path d="M394.6,194.4 L392.0,188.5 L387.6,188.9 L379.4,189.4" stroke-width="1.34"/>
<ellipse cx="392.0" cy="190.8" rx="2.5" ry="2.1" fill="#fff" stroke-width="1.1" transform="rotate(25 392.0 190.8)"/>
<path d="M340.0,219.7 L343.3,225.8 L351.6,225.7" stroke-width="1.29"/>
<path d="M378.0,234.7 L378.5,241.5 L371.2,241.1" stroke-width="1.13"/>
<path d="M373.6,204.6 L379.1,204.7 L375.0,197.5" stroke-width="1.49"/>
<path d="M394.8,210.7 L395.4,219.1 L388.1,222.4 L383.6,224.9" stroke-width="1.13"/>
<rect x="355.1" y="214.3" width="3.8" height="5.1" rx="0.8" fill="#fff" stroke-width="1.19" transform="rotate(-25 355.1 214.3) skewX(20)"/>
<rect x="380.7" y="237.1" width="2.4" height="1.3" rx="0.6" fill="#222" stroke="none" transform="rotate(-25 380.7 237.1)"/>
<ellipse cx="406.3" cy="219.1" rx="2.7" ry="1.8" fill="#fff" stroke-width="1.34" transform="rotate(-25 406.3 219.1)"/>
<path d="M402.3,220.0 L402.6,211.2 L402.5,215.0 L409.6,211.7" stroke-width="1.26"/>
<path d="M423.0,225.6 L415.1,222.2 L411.5,220.6" stroke-width="1.49"/>
<ellipse cx="407.1" cy="203.8" rx="1.6" ry="1.1" fill="#fff" stroke-width="1.29" transform="rotate(-25 407.1 203.8)"/>
<path d="M366.6,208.0 L372.3,205.3 L372.3,212.4" stroke-width="1.19"/>
<path d="M352.1,204.0 L358.9,203.7 L355.4,205.4" stroke-width="1.21"/>
<path d="M427.6,247.8 L427.6,241.7 L428.1,247.4" stroke-width="1.23"/>
<rect x="425.9" y="217.2" width="6.2" height="5.8" rx="0.8" fill="#fff" stroke-width="1.38" transform="rotate(-25 425.9 217.2) skewX(20)"/>
<path d="M432.2,241.3 Q432.5,238.5 432.7,238.0" stroke-width="1.12"/>
<path d="M391.8,209.4 L391.6,203.2 L391.5,199.4" stroke-width="1.22"/>
<ellipse cx="373.1" cy="209.9" rx="3.0" ry="2.3" fill="#fff" stroke-width="1.46" transform="rotate(25 373.1 209.9)"/>
<path d="M400.2,209.4 Q400.5,211.0 403.9,209.8" stroke-width="1.16"/>
<path d="M363.4,222.4 L367.4,216.1 L371.8,224.6" stroke-width="1.4"/>
<ellipse cx="405.2" cy="202.0" rx="3.3" ry="2.1" fill="#fff" stroke-width="1.5" transform="rotate(0 405.2 202.0)"/>
<rect x="412.2" y="243.6" width="2.4" height="2.6" rx="0.6" fill="#222" stroke="none" transform="rotate(0 412.2 243.6)"/>
<path d="M391.9,211.1 L392.2,204.5 L401.0,200.0 L395.5,197.5" stroke-width="1.46"/>
<path d="M389.5,240.2 L389.5,236.8 L387.2,232.5" stroke-width="1.44"/>
<path d="M431.8,235.6 L427.2,237.6 L429.7,233.3 L429.8,240.1" stroke-width="1.34"/>
<path d="M405.9,207.9 L410.1,210.1 L406.6,210.3" stroke-width="1.14"/>
<path d="M350.1,227.8 L351.9,224.8 L351.5,234.8 L355.2,233.2" stroke-width="1.4"/>
<path d="M414.2,234.8 L409.5,232.3 L418.8,228.8" stroke-width="1.44"/>
<path d="M406.7,235.7 L398.4,239.1 L398.8,232.0" stroke-width="1.06"/>
<path d="M391.8,196.6 L394.8,197.9 L399.5,200.6 L398.7,210.4" stroke-width="1.49"/>
<path d="M392.0,214.9 L386.2,214.7 L382.3,222.2 L382.4,225.8" stroke-width="1.07"/>
<rect x="401.7" y="211.4" width="3.9" height="5.6" rx="0.8" fill="#fff" stroke-width="1.49" transform="rotate(25 401.7 211.4) skewX(-20)"/>
<ellipse cx="377.5" cy="234.6" rx="2.9" ry="2.5" fill="#fff" stroke-width="1.43" transform="rotate(-25 377.5 234.6)"/>
<path d="M365.9,236.1 L365.6,245.1 L365.2,237.0" stroke-width="1.26"/>
<path d="M423.3,219.9 L420.2,218.0 L424.6,226.1 L424.8,234.3" stroke-width="1.36"/>
<path d="M391.4,236.1 L397.7,235.8 L398.0,230.3 L391.0,230.1" stroke-width="1.06"/>
<rect x="412.8" y="244.8" width="3.7" height="6.7" rx="0.8" fill="#fff" stroke-width="1.49" transform="rotate(-25 412.8 244.8) skewX(0)"/>
<path d="M355.6,213.6 L360.6,205.6" stroke-width="1.08"/>
<ellipse cx="391.4" cy="191.3" rx="2.2" ry="1.5" fill="#fff" stroke-width="1.35" transform="rotate(-25 391.4 191.3)"/>
<path d="M376.8,240.3 L377.5,231.2 L377.4,234.3" stroke-width="1.09"/>
<path d="M357.2,234.0 L353.2,235.5 L348.8,238.0" stroke-width="1.02"/>
<path d="M342.2,239.0 L348.6,242.6 L351.2,236.4" stroke-width="1.03"/>
<rect x="428.4" y="231.1" width="7.9" height="3.7" rx="0.8" fill="#fff" stroke-width="1.06" transform="rotate(25 428.4 231.1) skewX(20)"/>
<rect x="359.3" y="226.9" width="6.8" height="5.9" rx="0.8" fill="#fff" stroke-width="1.36" transform="rotate(25 359.3 226.9) skewX(0)"/>
<path d="M422.1,220.3 Q427.7,218.2 427.9,218.4" stroke-width="1.23"/>
<path d="M392.9,221.7 L398.2,224.2 L392.9,224.5" stroke-width="1.42"/>
<path d="M378.4,208.3 L384.9,205.9 L384.8,200.3" stroke-width="1.03"/>
<path d="M345.4,238.3 L348.9,230.1 L348.8,238.6" stroke-width="1.12"/>
<rect x="409.2" y="185.8" width="6.9" height="3.7" rx="0.8" fill="#fff" stroke-width="1.02" transform="rotate(25 409.2 185.8) skewX(-20)"/>
<ellipse cx="363.7" cy="225.4" rx="2.9" ry="1.7" fill="#fff" stroke-width="1.44" transform="rotate(-25 363.7 225.4)"/>
<ellipse cx="350.7" cy="204.0" rx="2.7" ry="1.8" fill="#fff" stroke-width="1.09" transform="rotate(-25 350.7 204.0)"/>
<ellipse cx="398.1" cy="203.9" rx="2.8" ry="2.4" fill="#fff" stroke-width="1.25" transform="rotate(0 398.1 203.9)"/>
<ellipse cx="403.6" cy="210.5" rx="3.0" ry="2.9" fill="#fff" stroke-width="1.33" transform="rotate(-25 403.6 210.5)"/>
<path d="M342.1,234.4 L337.6,236.2 L337.4,230.7" stroke-width="1.14"/>
<path d="M365.1,236.7 L365.1,232.5" stroke-width="1.21"/>
<path d="M360.4,228.4 L360.9,235.7 L357.4,237.6" stroke-width="1.31"/>
<path d="M400.7,244.6 L395.5,241.9 L390.6,239.3" stroke-width="1.3"/>
<rect x="427.9" y="220.0" width="2.5" height="1.5" rx="0.6" fill="#222" stroke="none" transform="rotate(25 427.9 220.0)"/>
<path d="M340.5,219.3 L337.6,220.5 L332.6,223.3" stroke-width="1.09"/>
<path d="M373.3,197.4 L373.6,193.0" stroke-width="1.25"/>
<ellipse cx="349.0" cy="231.7" rx="4.2" ry="3.7" fill="#fff" stroke-width="1.18" transform="rotate(-25 349.0 231.7)"/>
<path d="M376.9,226.5 L376.8,217.1" stroke-width="1.5"/>
<path d="M408.3,185.4 L405.6,184.0 L400.4,181.7" stroke-width="1.07"/>
<path d="M409.7,213.0 L414.3,220.8" stroke-width="1.22"/>
<path d="M407.7,222.0 Q406.5,219.3 405.2,219.4" stroke-width="1.48"/>
<path d="M410.8,228.3 L410.2,236.3 L415.6,233.6" stroke-width="1.12"/>
<rect x="363.7" y="233.6" width="1.7" height="1.4" rx="0.6" fill="#222" stroke="none" transform="rotate(90 363.7 233.6)"/>
<path d="M367.7,241.5 Q373.3,240.5 375.8,245.3" stroke-width="1.28"/>
<path d="M369.5,240.6 L365.0,238.6 L370.4,235.9" stroke-width="1.09"/>
<rect x="408.5" y="229.6" width="1.8" height="1.8" rx="0.6" fill="#222" stroke="none" transform="rotate(-25 408.5 229.6)"/>
<ellipse cx="386.4" cy="191.9" rx="2.0" ry="1.7" fill="#fff" stroke-width="1.0" transform="rotate(0 386.4 191.9)"/>
<rect x="385.6" y="197.4" width="1.9" height="1.8" rx="0.6" fill="#222" stroke="none" transform="rotate(0 385.6 197.4)"/>
<path d="M423.6,251.4 Q421.1,246.6 423.3,247.4" stroke-width="1.47"/>
<ellipse cx="372.9" cy="215.1" rx="2.7" ry="2.6" fill="#fff" stroke-width="1.43" transform="rotate(-25 372.9 215.1)"/>
<path d="M422.6,249.1 L422.9,253.6 L422.8,249.1" stroke-width="1.33"/>
<path d="M405.4,201.8 L413.5,205.4 L409.9,205.3" stroke-width="1.3"/>
<path d="M412.4,227.8 Q408.0,233.6 406.3,234.5" stroke-width="1.25"/>
<rect x="377.1" y="211.1" width="4.7" height="5.6" rx="0.8" fill="#fff" stroke-width="1.38" transform="rotate(-25 377.1 211.1) skewX(20)"/>
<path d="M366.0,202.9 L362.0,201.4 L369.8,204.3 L370.4,195.5" stroke-width="1.42"/>
<path d="M382.4,195.5 Q387.7,198.2 388.8,195.8" stroke-width="1.2"/>
<path d="M401.5,216.7 Q400.6,220.6 404.2,220.8" stroke-width="1.43"/>
<path d="M432.6,233.3 L437.1,225.6" stroke-width="1.24"/>
<rect x="356.5" y="234.0" width="1.4" height="1.9" rx="0.6" fill="#222" stroke="none" transform="rotate(-25 356.5 234.0)"/>
<path d="M379.9,204.3 L376.3,198.6 L372.3,200.0" stroke-width="1.2"/>
<path d="M390.8,243.9 L382.7,244.1 L379.4,238.5 L379.1,244.7" stroke-width="1.32"/>
<path d="M409.2,221.9 L409.0,218.8 L407.5,221.6" stroke-width="1.03"/>
<rect x="402.2" y="246.6" width="8.8" height="5.0" rx="0.8" fill="#fff" stroke-width="1.15" transform="rotate(-25 402.2 246.6) skewX(20)"/>
<path d="M359.1,238.7 Q359.4,241.6 363.7,241.6" stroke-width="1.05"/>
<path d="M418.4,224.4 L418.9,230.6 L412.1,233.6" stroke-width="1.43"/>
<path d="M408.8,183.4 L417.2,187.3 L412.4,185.3" stroke-width="1.35"/>
<path d="M394.7,244.6 L393.9,234.7" stroke-width="1.47"/>
<path d="M383.0,220.8 Q381.7,219.8 385.7,218.7" stroke-width="1.44"/>
<rect x="405.0" y="188.5" width="1.3" height="1.9" rx="0.6" fill="#222" stroke="none" transform="rotate(0 405.0 188.5)"/>
<path d="M428.6,219.9 L428.4,214.7 L433.3,215.1" stroke-width="1.11"/>
<path d="M396.9,205.0 L401.2,207.0" stroke-width="1.42"/>
<rect x="393.8" y="197.8" width="2.8" height="2.4" rx="0.6" fill="#222" stroke="none" transform="rotate(0 393.8 197.8)"/>
<rect x="363.9" y="239.1" width="7.1" height="6.0" rx="0.8" fill="#fff" stroke-width="1.25" transform="rotate(-25 363.9 239.1) skewX(20)"/>
<path d="M373.5,207.2 L373.9,198.1 L373.7,189.7" stroke-width="1.35"/>
<path d="M431.3,221.4 Q428.7,221.0 429.4,218.9" stroke-width="1.2"/>
<path d="M373.8,218.7 Q370.6,218.6 370.4,212.7" stroke-width="1.28"/>
<path d="M383.6,211.6 L377.4,213.9" stroke-width="1.21"/>
<path d="M397.2,185.9 Q398.9,185.6 406.3,185.8" stroke-width="1.21"/>
<rect x="401.0" y="234.3" width="8.9" height="4.1" rx="0.8" fill="#fff" stroke-width="1.47" transform="rotate(-25 401.0 234.3) skewX(-20)"/>
<path d="M408.8,211.6 L411.3,207.6 L418.0,204.4 L422.3,212.8" stroke-width="1.43"/>
<path d="M428.3,238.6 Q422.8,241.8 419.4,242.3" stroke-width="1.36"/>
<path d="M359.7,214.6 L367.1,211.6 L374.9,207.2" stroke-width="1.16"/>
<path d="M392.0,188.3 L387.1,185.7 L389.1,189.1 L398.0,192.8" stroke-width="1.38"/>
<path d="M399.5,238.0 Q401.9,239.9 399.7,247.8" stroke-width="1.33"/>
<path d="M363.8,215.7 L363.1,206.5 L367.2,213.3 L370.6,213.4" stroke-width="1.39"/>
<rect x="432.2" y="227.5" width="4.6" height="4.3" rx="0.8" fill="#fff" stroke-width="1.39" transform="rotate(-25 432.2 227.5) skewX(0)"/>
<path d="M423.1,248.4 L425.2,244.0 L433.1,239.8 L439.0,236.7" stroke-width="1.33"/>
<path d="M435.5,238.7 L435.9,247.3 L427.1,243.1" stroke-width="1.14"/>
<path d="M398.0,206.6 Q394.1,210.9 395.4,215.3" stroke-width="1.1"/>
<path d="M389.7,203.1 L383.6,206.5" stroke-width="1.25"/>
<path d="M408.7,221.5 L410.5,217.6 L414.0,211.8" stroke-width="1.37"/>
<ellipse cx="391.6" cy="215.5" rx="3.7" ry="3.4" fill="#fff" stroke-width="1.3" transform="rotate(25 391.6 215.5)"/>
<rect x="380.8" y="213.7" width="2.6" height="2.5" rx="0.6" fill="#222" stroke="none" transform="rotate(0 380.8 213.7)"/>
<path d="M423.6,229.3 L423.2,238.4" stroke-width="1.05"/>
<path d="M411.7,239.8 L414.6,241.1" stroke-width="1.18"/>
<path d="M423.4,246.2 Q423.5,249.1 427.6,253.8" stroke-width="1.05"/>
<path d="M420.9,240.3 L421.0,246.3" stroke-width="1.21"/>
<path d="M402.7,232.7 L402.6,225.4 L398.8,233.6" stroke-width="1.37"/>
<ellipse cx="403.4" cy="221.6" rx="3.1" ry="2.4" fill="#fff" stroke-width="1.04" transform="rotate(0 403.4 221.6)"/>
<path d="M390.4,226.0 L396.5,229.5" stroke-width="1.3"/>
<path d="M379.8,238.3 L383.6,236.5 L388.5,228.1" stroke-width="1.23"/>
<ellipse cx="411.3" cy="242.3" rx="3.2" ry="3.1" fill="#fff" stroke-width="1.25" transform="rotate(25 411.3 242.3)"/>
<ellipse cx="439.5" cy="244.1" rx="3.5" ry="2.2" fill="#fff" stroke-width="1.39" transform="rotate(25 439.5 244.1)"/>
<path d="M401.6,209.6 L398.5,203.3 L396.8,206.7" stroke-width="1.32"/>
<path d="M342.9,236.2 L336.0,239.6 L341.2,242.1" stroke-width="1.25"/>
<path d="M408.2,220.3 L400.7,223.6 L405.3,231.7" stroke-width="1.42"/>
<path d="M346.2,214.9 L346.5,211.6 L346.5,208.3" stroke-width="1.25"/>
<path d="M401.8,197.1 L399.0,195.9 L398.9,191.0" stroke-width="1.36"/>
<path d="M367.0,239.9 L366.8,244.2" stroke-width="1.09"/>
<path d="M425.3,249.4 L430.6,247.3 L427.4,245.8 L426.9,254.8" stroke-width="1.06"/>
<rect x="395.7" y="200.6" width="2.8" height="1.9" rx="0.6" fill="#222" stroke="none" transform="rotate(25 395.7 200.6)"/>
<ellipse cx="359.3" cy="211.1" rx="2.7" ry="2.3" fill="#fff" stroke-width="1.37" transform="rotate(25 359.3 211.1)"/>
<path d="M395.9,233.4 Q395.4,238.4 394.0,240.4" stroke-width="1.42"/>
<rect x="357.9" y="212.5" width="3.9" height="6.8" rx="0.8" fill="#fff" stroke-width="1.1" transform="rotate(25 357.9 212.5) skewX(0)"/>
<rect x="395.0" y="225.4" width="2.6" height="1.5" rx="0.6" fill="#222" stroke="none" transform="rotate(90 395.0 225.4)"/>
<path d="M400.8,194.9 L401.0,185.3 L405.7,177.8" stroke-width="1.33"/>
<ellipse cx="374.8" cy="213.4" rx="3.1" ry="1.8" fill="#fff" stroke-width="1.16" transform="rotate(25 374.8 213.4)"/>
<ellipse cx="428.0" cy="237.3" rx="3.0" ry="1.8" fill="#fff" stroke-width="1.09" transform="rotate(0 428.0 237.3)"/>
<rect x="398.8" y="217.1" width="8.3" height="6.5" rx="0.8" fill="#fff" stroke-width="1.35" transform="rotate(-25 398.8 217.1) skewX(0)"/>
<path d="M348.5,239.3 L348.3,233.1" stroke-width="1.07"/>
<ellipse cx="405.6" cy="226.7" rx="1.9" ry="1.4" fill="#fff" stroke-width="1.03" transform="rotate(0 405.6 226.7)"/>
<ellipse cx="431.7" cy="224.0" rx="2.1" ry="1.6" fill="#fff" stroke-width="1.11" transform="rotate(25 431.7 224.0)"/>
<path d="M363.7,226.8 L364.2,221.1 L369.9,218.6" stroke-width="1.18"/>
<ellipse cx="377.0" cy="205.9" rx="3.5" ry="3.5" fill="#fff" stroke-width="1.12" transform="rotate(25 377.0 205.9)"/>
<rect x="344.1" y="236.9" width="7.3" height="3.4" rx="0.8" fill="#fff" stroke-width="1.4" transform="rotate(25 344.1 236.9) skewX(0)"/>
<rect x="376.1" y="196.3" width="9.5" height="3.5" rx="0.8" fill="#fff" stroke-width="1.07" transform="rotate(-25 376.1 196.3) skewX(20)"/>
<path d="M364.8,211.3 L364.5,206.7 L370.3,209.9 L364.1,213.4" stroke-width="1.34"/>
<rect x="368.1" y="206.1" width="7.8" height="3.5" rx="0.8" fill="#fff" stroke-width="1.4" transform="rotate(-25 368.1 206.1) skewX(0)"/>
<path d="M394.9,201.8 L397.4,196.0" stroke-width="1.0"/>
<ellipse cx="362.3" cy="237.1" rx="3.0" ry="2.0" fill="#fff" stroke-width="1.27" transform="rotate(0 362.3 237.1)"/>
<path d="M361.7,236.3 L361.2,226.8" stroke-width="1.18"/>
<path d="M412.5,225.9 L412.4,217.4 L416.2,219.5" stroke-width="1.46"/>
<path d="M397.6,220.3 L404.6,223.5 L404.3,229.0" stroke-width="1.39"/>
<path d="M367.5,218.3 Q369.6,213.4 371.9,210.3" stroke-width="1.12"/>
<rect x="352.1" y="220.9" width="5.2" height="6.3" rx="0.8" fill="#fff" stroke-width="1.19" transform="rotate(-25 352.1 220.9) skewX(20)"/>
<path d="M397.7,235.9 L398.2,229.1" stroke-width="1.15"/>
<path d="M422.2,236.4 L425.3,242.3 L419.0,245.1" stroke-width="1.13"/>
<rect x="346.6" y="207.0" width="4.9" height="6.8" rx="0.8" fill="#fff" stroke-width="1.34" transform="rotate(25 346.6 207.0) skewX(0)"/>
<ellipse cx="346.1" cy="222.2" rx="3.1" ry="2.1" fill="#fff" stroke-width="1.48" transform="rotate(-25 346.1 222.2)"/>
<path d="M366.3,205.0 L359.5,201.7" stroke-width="1.19"/>
<path d="M391.6,245.7 L390.8,255.1 L391.2,247.6 L381.9,248.4" stroke-width="1.38"/>
<path d="M406.6,239.8 L410.0,241.5 L409.9,236.4" stroke-width="1.13"/>
<path d="M395.7,193.2 L391.6,191.0 L396.6,188.3 L392.1,197.0" stroke-width="1.03"/>
<path d="M367.9,236.1 L375.6,240.5 L379.0,239.1" stroke-width="1.5"/>
<rect x="382.3" y="223.1" width="2.9" height="1.3" rx="0.6" fill="#222" stroke="none" transform="rotate(0 382.3 223.1)"/>
<path d="M426.9,223.3 L430.6,224.8 L424.5,227.2" stroke-width="1.01"/>
<path d="M358.5,210.4 L363.3,212.3" stroke-width="1.08"/>
<path d="M376.4,227.0 L375.8,218.7 L366.1,218.6 L363.0,223.8" stroke-width="1.44"/>
<path d="M365.7,231.8 L365.3,222.9 L370.3,225.0" stroke-width="1.49"/>
<path d="M385.8,215.6 L385.6,211.7 L377.5,208.4" stroke-width="1.38"/>
<path d="M359.7,218.5 L359.4,210.1" stroke-width="1.36"/>
<path d="M371.1,217.1 L371.1,208.9" stroke-width="1.15"/>
<rect x="398.0" y="207.9" width="8.4" height="4.4" rx="0.8" fill="#fff" stroke-width="1.19" transform="rotate(-25 398.0 207.9) skewX(0)"/>
<path d="M414.3,243.5 L416.3,240.3 L414.3,236.7" stroke-width="1.09"/>
<path d="M435.0,245.0 L440.1,242.5 L433.0,246.1" stroke-width="1.16"/>
<path d="M414.4,239.9 L422.6,242.9 L417.1,240.8 L417.6,234.6" stroke-width="1.39"/>
<ellipse cx="406.4" cy="216.5" rx="3.4" ry="3.1" fill="#fff" stroke-width="1.37" transform="rotate(-25 406.4 216.5)"/>
<path d="M391.8,191.9 Q392.5,195.6 389.3,198.4" stroke-width="1.19"/>
<path d="M399.2,221.0 L395.4,228.5 L389.1,231.4 L380.9,227.2" stroke-width="1.07"/>
<rect x="403.2" y="220.1" width="2.9" height="1.9" rx="0.6" fill="#222" stroke="none" transform="rotate(0 403.2 220.1)"/>
<ellipse cx="355.1" cy="207.2" rx="2.0" ry="1.5" fill="#fff" stroke-width="1.1" transform="rotate(-25 355.1 207.2)"/>
<path d="M402.9,195.1 L406.6,196.7 L403.5,198.2 L396.0,201.8" stroke-width="1.43"/>
<ellipse cx="388.1" cy="192.4" rx="3.4" ry="2.0" fill="#fff" stroke-width="1.49" transform="rotate(-25 388.1 192.4)"/>
<ellipse cx="408.4" cy="220.3" rx="2.1" ry="2.0" fill="#fff" stroke-width="1.44" transform="rotate(0 408.4 220.3)"/>
<path d="M376.1,228.0 L384.2,228.7 L382.5,231.5 L382.4,240.7" stroke-width="1.35"/>
<rect x="368.4" y="204.6" width="1.3" height="2.6" rx="0.6" fill="#222" stroke="none" transform="rotate(90 368.4 204.6)"/>
<path d="M400.8,220.8 L401.2,227.9 L409.6,227.4" stroke-width="1.27"/>
<rect x="369.7" y="207.8" width="4.6" height="3.2" rx="0.8" fill="#fff" stroke-width="1.06" transform="rotate(25 369.7 207.8) skewX(20)"/>
<path d="M394.2,200.2 L394.1,204.1" stroke-width="1.23"/>
<ellipse cx="392.9" cy="202.6" rx="1.7" ry="1.4" fill="#fff" stroke-width="1.23" transform="rotate(-25 392.9 202.6)"/>
<path d="M442.0,270.0 L450.2,273.1" stroke-width="1.18"/>
<path d="M363.7,246.7 Q366.8,250.1 367.6,252.2" stroke-width="1.26"/>
<path d="M384.7,270.0 L386.6,273.6 L387.1,267.1" stroke-width="0.93"/>
<path d="M406.7,281.3 L406.7,285.1 L400.7,288.1" stroke-width="1.31"/>
<path d="M342.0,279.0 L349.3,275.7 L357.8,272.5" stroke-width="1.27"/>
<path d="M394.5,268.7 L394.3,277.4 L391.0,284.0" stroke-width="1.04"/>
<path d="M414.1,291.6 Q408.7,285.0 408.4,282.9" stroke-width="0.95"/>
<path d="M365.2,271.6 L358.1,275.1 L357.8,269.7" stroke-width="1.09"/>
<ellipse cx="434.7" cy="272.7" rx="3.5" ry="3.5" fill="#fff" stroke-width="1.07" transform="rotate(25 434.7 272.7)"/>
<rect x="329.3" y="268.2" width="3.9" height="3.3" rx="0.8" fill="#fff" stroke-width="1.22" transform="rotate(25 329.3 268.2) skewX(0)"/>
<path d="M410.6,287.0 L416.0,287.0 L415.5,297.4" stroke-width="0.95"/>
<rect x="411.8" y="287.6" width="7.6" height="4.0" rx="0.8" fill="#fff" stroke-width="0.91" transform="rotate(25 411.8 287.6) skewX(0)"/>
<rect x="371.2" y="248.7" width="7.1" height="5.2" rx="0.8" fill="#fff" stroke-width="1.22" transform="rotate(25 371.2 248.7) skewX(0)"/>
<ellipse cx="420.0" cy="267.5" rx="2.1" ry="1.2" fill="#fff" stroke-width="0.99" transform="rotate(0 420.0 267.5)"/>
<ellipse cx="372.3" cy="244.7" rx="3.3" ry="2.2" fill="#fff" stroke-width="0.99" transform="rotate(0 372.3 244.7)"/>
<path d="M356.0,254.4 L349.4,258.2 L349.5,253.9" stroke-width="1.29"/>
<path d="M397.5,286.1 l0.0,3.8 M395.8,286.1 l0.0,3.8 M394.1,286.1 l0.0,3.8 " stroke-width="1.35"/>
<ellipse cx="415.9" cy="291.2" rx="3.1" ry="3.0" fill="#fff" stroke-width="1.18" transform="rotate(-25 415.9 291.2)"/>
<path d="M406.7,267.1 L413.6,267.3 L409.8,275.5 L406.1,273.9" stroke-width="1.12"/>
<path d="M347.0,259.4 L348.8,262.7" stroke-width="1.33"/>
<ellipse cx="382.8" cy="278.0" rx="3.1" ry="2.6" fill="#fff" stroke-width="1.08" transform="rotate(-25 382.8 278.0)"/>
<path d="M407.2,269.6 L411.0,267.9 L416.0,270.7 L415.8,264.9" stroke-width="1.19"/>
<rect x="339.3" y="281.7" width="7.7" height="6.5" rx="0.8" fill="#fff" stroke-width="1.11" transform="rotate(25 339.3 281.7) skewX(20)"/>
<rect x="421.9" y="271.6" width="4.5" height="3.8" rx="0.8" fill="#fff" stroke-width="1.28" transform="rotate(25 421.9 271.6) skewX(20)"/>
<path d="M373.0,286.2 L373.5,276.9 L362.8,276.7" stroke-width="1.16"/>
<ellipse cx="389.8" cy="260.2" rx="1.7" ry="1.6" fill="#fff" stroke-width="0.96" transform="rotate(-25 389.8 260.2)"/>
<path d="M404.2,273.5 L410.2,276.5 L410.6,271.6 L401.2,266.6" stroke-width="0.97"/>
<path d="M393.3,277.6 L384.6,280.8 L385.0,289.5 L387.8,294.6" stroke-width="1.34"/>
<path d="M409.3,295.2 Q410.9,293.3 416.0,291.3" stroke-width="1.17"/>
<rect x="404.9" y="275.7" width="7.3" height="3.4" rx="0.8" fill="#fff" stroke-width="0.97" transform="rotate(25 404.9 275.7) skewX(0)"/>
<path d="M369.9,259.7 L373.5,253.9" stroke-width="1.13"/>
<rect x="399.6" y="285.8" width="7.7" height="3.5" rx="0.8" fill="#fff" stroke-width="1.04" transform="rotate(25 399.6 285.8) skewX(20)"/>
<path d="M369.2,266.7 L361.5,267.2 L362.0,274.4" stroke-width="1.11"/>
<ellipse cx="348.2" cy="245.0" rx="1.9" ry="1.9" fill="#fff" stroke-width="1.27" transform="rotate(25 348.2 245.0)"/>
<rect x="418.2" y="258.7" width="9.5" height="6.0" rx="0.8" fill="#fff" stroke-width="1.29" transform="rotate(25 418.2 258.7) skewX(20)"/>
<rect x="355.6" y="270.8" width="8.2" height="5.4" rx="0.8" fill="#fff" stroke-width="1.29" transform="rotate(-25 355.6 270.8) skewX(20)"/>
<path d="M378.3,275.5 L378.3,265.3 L378.5,261.9" stroke-width="0.91"/>
<path d="M400.4,280.3 L400.1,273.3 L400.0,278.5 L400.2,282.5" stroke-width="1.01"/>
<rect x="395.6" y="288.9" width="6.7" height="6.2" rx="0.8" fill="#fff" stroke-width="1.11" transform="rotate(-25 395.6 288.9) skewX(-20)"/>
<path d="M406.6,282.9 Q409.5,286.2 408.2,285.9" stroke-width="1.33"/>
<ellipse cx="363.1" cy="248.6" rx="2.7" ry="1.9" fill="#fff" stroke-width="1.06" transform="rotate(25 363.1 248.6)"/>
<rect x="404.8" y="291.9" width="6.3" height="4.6" rx="0.8" fill="#fff" stroke-width="1.11" transform="rotate(-25 404.8 291.9) skewX(0)"/>
<rect x="421.4" y="268.9" width="5.0" height="4.0" rx="0.8" fill="#fff" stroke-width="1.12" transform="rotate(-25 421.4 268.9) skewX(0)"/>
<path d="M413.4,267.8 L409.1,269.9 L399.5,265.3" stroke-width="1.34"/>
<ellipse cx="331.4" cy="274.9" rx="4.1" ry="3.0" fill="#fff" stroke-width="1.31" transform="rotate(-25 331.4 274.9)"/>
<path d="M369.9,250.7 L379.6,250.4" stroke-width="1.27"/>
<path d="M388.7,285.9 L392.5,287.4 L383.9,291.5" stroke-width="0.98"/>
<path d="M364.4,243.1 L360.5,252.2 L354.7,252.3" stroke-width="1.15"/>
<path d="M375.5,265.3 L376.3,254.4" stroke-width="0.97"/>
<path d="M394.9,287.4 L395.5,295.9 L396.1,306.5 L390.2,308.7" stroke-width="1.32"/>
<path d="M388.7,274.9 L388.4,284.6 L388.1,279.0" stroke-width="1.04"/>
<path d="M351.4,261.6 L342.5,257.7 L348.1,248.9 L357.1,253.2" stroke-width="1.04"/>
<path d="M446.6,272.2 Q448.5,269.1 450.2,263.1" stroke-width="1.29"/>
<path d="M346.3,268.3 L351.2,266.4 L348.4,260.7" stroke-width="1.19"/>
<path d="M362.7,261.1 Q365.6,257.3 365.9,257.3" stroke-width="1.24"/>
<path d="M439.8,262.4 L439.3,267.9 L441.3,264.5" stroke-width="0.91"/>
<rect x="418.0" y="253.6" width="2.9" height="1.3" rx="0.6" fill="#222" stroke="none" transform="rotate(25 418.0 253.6)"/>
<path d="M397.2,276.5 L402.7,273.4 L402.5,278.8 L407.6,281.5" stroke-width="1.1"/>
<path d="M361.0,263.6 Q356.3,264.6 351.7,263.0" stroke-width="0.96"/>
<path d="M356.4,258.1 L346.9,257.7 L342.2,255.6 L333.5,251.8" stroke-width="1.24"/>
<path d="M417.0,287.1 L426.9,290.9" stroke-width="0.99"/>
<path d="M389.5,265.6 L389.6,272.5 L386.6,273.7" stroke-width="1.32"/>
<ellipse cx="428.3" cy="282.4" rx="2.2" ry="1.7" fill="#fff" stroke-width="1.16" transform="rotate(0 428.3 282.4)"/>
<ellipse cx="388.4" cy="287.1" rx="1.8" ry="1.5" fill="#fff" stroke-width="1.13" transform="rotate(-25 388.4 287.1)"/>
<rect x="402.3" y="256.1" width="7.4" height="4.7" rx="0.8" fill="#fff" stroke-width="1.15" transform="rotate(25 402.3 256.1) skewX(-20)"/>
<path d="M358.7,254.9 L351.0,252.1 L354.6,250.8" stroke-width="1.06"/>
<rect x="401.1" y="271.9" width="8.7" height="5.3" rx="0.8" fill="#fff" stroke-width="1.23" transform="rotate(25 401.1 271.9) skewX(-20)"/>
<rect x="442.9" y="260.0" width="1.5" height="1.9" rx="0.6" fill="#222" stroke="none" transform="rotate(0 442.9 260.0)"/>
<path d="M358.0,272.1 L358.1,277.3 L349.4,272.5" stroke-width="1.32"/>
<ellipse cx="431.0" cy="271.8" rx="2.3" ry="1.4" fill="#fff" stroke-width="0.91" transform="rotate(-25 431.0 271.8)"/>
<path d="M356.6,276.5 L360.9,269.7 L360.1,259.1" stroke-width="1.07"/>
<path d="M344.7,241.7 L337.0,245.6 L347.2,249.5" stroke-width="1.12"/>
<path d="M442.5,280.9 Q441.3,275.9 439.3,274.4" stroke-width="1.08"/>
<rect x="380.9" y="260.0" width="9.6" height="3.2" rx="0.8" fill="#fff" stroke-width="1.04" transform="rotate(-25 380.9 260.0) skewX(0)"/>
<rect x="338.5" y="252.5" width="8.9" height="4.5" rx="0.8" fill="#fff" stroke-width="1.09" transform="rotate(-25 338.5 252.5) skewX(0)"/>
<ellipse cx="388.3" cy="250.5" rx="2.1" ry="1.2" fill="#fff" stroke-width="1.27" transform="rotate(25 388.3 250.5)"/>
<ellipse cx="408.5" cy="274.4" rx="3.4" ry="2.1" fill="#fff" stroke-width="0.99" transform="rotate(0 408.5 274.4)"/>
<ellipse cx="370.0" cy="270.0" rx="2.3" ry="1.4" fill="#fff" stroke-width="1.28" transform="rotate(25 370.0 270.0)"/>
<path d="M388.3,275.4 Q389.8,271.6 389.1,269.3" stroke-width="1.16"/>
<ellipse cx="363.2" cy="279.5" rx="2.9" ry="2.4" fill="#fff" stroke-width="1.02" transform="rotate(0 363.2 279.5)"/>
<rect x="425.7" y="275.8" width="9.0" height="6.5" rx="0.8" fill="#fff" stroke-width="0.9" transform="rotate(-25 425.7 275.8) skewX(20)"/>
<path d="M427.3,286.1 L422.9,284.5 L425.2,288.2 L432.2,287.6" stroke-width="0.99"/>
<path d="M358.1,261.8 Q351.8,264.3 347.5,262.7" stroke-width="0.91"/>
<ellipse cx="341.3" cy="265.6" rx="4.0" ry="2.8" fill="#fff" stroke-width="1.11" transform="rotate(25 341.3 265.6)"/>
<rect x="398.6" y="286.6" width="9.4" height="6.5" rx="0.8" fill="#fff" stroke-width="1.32" transform="rotate(-25 398.6 286.6) skewX(20)"/>
<path d="M348.4,280.5 L348.5,276.6 L339.9,272.4 L347.9,276.0" stroke-width="1.08"/>
<path d="M359.8,271.3 L360.3,265.4 L351.5,261.0" stroke-width="1.26"/>
<path d="M429.2,277.7 l3.0,1.4 M428.5,279.2 l3.0,1.4 M427.7,280.7 l3.0,1.4 " stroke-width="1.1"/>
<ellipse cx="401.2" cy="287.6" rx="3.9" ry="2.4" fill="#fff" stroke-width="1.32" transform="rotate(-25 401.2 287.6)"/>
<path d="M368.8,244.7 L369.1,255.5 L363.5,246.5" stroke-width="1.04"/>
<rect x="370.4" y="265.9" width="3.8" height="5.2" rx="0.8" fill="#fff" stroke-width="0.99" transform="rotate(-25 370.4 265.9) skewX(0)"/>
<path d="M384.4,263.7 L391.3,263.5" stroke-width="1.22"/>
<path d="M374.7,259.9 L372.6,263.8 L372.6,256.5" stroke-width="1.33"/>
<path d="M415.8,277.6 L416.4,269.2 L411.7,269.0" stroke-width="1.25"/>
<rect x="428.6" y="287.6" width="9.1" height="6.6" rx="0.8" fill="#fff" stroke-width="0.95" transform="rotate(-25 428.6 287.6) skewX(-20)"/>
<path d="M387.1,253.6 L393.9,250.2 L385.1,255.2" stroke-width="1.34"/>
<path d="M422.7,273.3 L418.9,274.8" stroke-width="1.26"/>
<path d="M375.1,248.9 L372.4,255.2 L376.7,264.3 L376.4,270.0" stroke-width="1.31"/>
<path d="M337.7,253.1 L342.3,261.9" stroke-width="1.15"/>
<path d="M364.6,276.2 Q364.4,275.4 361.5,273.3" stroke-width="1.22"/>
<rect x="413.9" y="265.5" width="2.4" height="1.4" rx="0.6" fill="#222" stroke="none" transform="rotate(0 413.9 265.5)"/>
<ellipse cx="405.0" cy="282.4" rx="2.3" ry="1.3" fill="#fff" stroke-width="0.92" transform="rotate(-25 405.0 282.4)"/>
<rect x="338.4" y="261.7" width="8.1" height="5.9" rx="0.8" fill="#fff" stroke-width="0.9" transform="rotate(25 338.4 261.7) skewX(-20)"/>
<path d="M423.4,262.9 Q424.3,268.1 422.7,267.5" stroke-width="1.18"/>
<path d="M414.6,255.8 L418.5,263.3" stroke-width="1.11"/>
<path d="M377.7,251.7 L383.5,254.8 L378.4,257.3 L371.6,260.6" stroke-width="0.92"/>
<path d="M364.5,244.5 Q369.4,242.6 371.4,244.9" stroke-width="1.04"/>
<path d="M414.2,261.0 L411.2,262.1 L418.3,261.6" stroke-width="1.06"/>
<path d="M419.8,263.1 L412.7,266.3" stroke-width="1.33"/>
<path d="M348.7,277.8 L353.4,269.7 L349.3,271.5" stroke-width="1.2"/>
<ellipse cx="366.5" cy="284.8" rx="2.1" ry="1.6" fill="#fff" stroke-width="1.01" transform="rotate(25 366.5 284.8)"/>
<path d="M432.3,269.5 L428.5,271.4" stroke-width="1.12"/>
<path d="M394.4,287.4 L391.8,292.0 L385.1,289.1" stroke-width="1.13"/>
<path d="M432.7,265.0 Q432.5,270.0 433.3,271.3" stroke-width="0.92"/>
<rect x="340.8" y="242.0" width="2.3" height="1.4" rx="0.6" fill="#222" stroke="none" transform="rotate(-25 340.8 242.0)"/>
<path d="M351.8,276.1 Q348.8,274.8 347.2,276.4" stroke-width="0.91"/>
<path d="M418.1,254.3 l4.5,2.1 M417.4,255.8 l4.5,2.1 M416.7,257.3 l4.5,2.1 M416.0,258.9 l4.5,2.1 M415.3,260.4 l4.5,2.1 " stroke-width="0.99"/>
<path d="M341.1,249.6 L330.2,249.5 L324.1,252.9" stroke-width="1.2"/>
<path d="M440.3,278.6 L437.5,272.5 L442.6,264.4" stroke-width="1.07"/>
<path d="M421.9,282.5 L421.3,273.2" stroke-width="1.3"/>
<path d="M386.4,269.8 L380.8,266.6 L376.1,264.0 L376.5,259.2" stroke-width="1.0"/>
<path d="M386.9,266.1 L384.4,271.5 L387.7,270.0" stroke-width="1.08"/>
<rect x="381.2" y="280.7" width="3.1" height="1.3" rx="0.6" fill="#222" stroke="none" transform="rotate(0 381.2 280.7)"/>
<path d="M334.4,265.3 L337.7,263.9 L342.3,264.0" stroke-width="1.03"/>
<path d="M425.9,278.8 L421.3,269.0 L414.9,266.2 L414.8,260.1" stroke-width="1.17"/>
<path d="M386.0,273.4 L387.8,269.7 L387.5,273.1 L390.5,268.2" stroke-width="0.94"/>
<path d="M392.3,274.7 l0.0,4.5 M390.6,274.7 l0.0,4.5 M388.9,274.7 l0.0,4.5 M387.2,274.7 l0.0,4.5 " stroke-width="1.18"/>
<path d="M412.0,251.3 L402.6,256.6" stroke-width="1.34"/>
<path d="M394.9,269.2 L388.7,266.4 L382.4,262.8 L382.2,271.2" stroke-width="1.19"/>
<path d="M341.9,281.6 L349.0,281.8 L348.7,276.8" stroke-width="1.2"/>
<path d="M372.8,249.2 L369.5,255.4 L375.8,258.6" stroke-width="1.1"/>
<rect x="377.6" y="275.5" width="7.0" height="3.7" rx="0.8" fill="#fff" stroke-width="0.95" transform="rotate(-25 377.6 275.5) skewX(0)"/>
<rect x="339.4" y="251.8" width="5.3" height="5.0" rx="0.8" fill="#fff" stroke-width="1.27" transform="rotate(-25 339.4 251.8) skewX(20)"/>
<path d="M403.6,279.1 L394.5,275.5" stroke-width="1.0"/>
<path d="M356.8,253.8 L359.2,258.7" stroke-width="1.32"/>
<rect x="415.2" y="270.3" width="6.0" height="5.7" rx="0.8" fill="#fff" stroke-width="1.03" transform="rotate(-25 415.2 270.3) skewX(20)"/>
<path d="M361.0,250.9 L366.8,253.7" stroke-width="1.01"/>
<path d="M398.6,276.5 Q393.5,278.0 389.3,280.0" stroke-width="1.33"/>
<path d="M356.9,281.3 L360.7,272.5 L369.6,267.6 L369.9,273.9" stroke-width="1.04"/>
<path d="M400.0,282.7 L400.4,290.7" stroke-width="1.04"/>
<rect x="336.8" y="265.4" width="9.9" height="5.5" rx="0.8" fill="#fff" stroke-width="0.94" transform="rotate(-25 336.8 265.4) skewX(20)"/>
<path d="M332.9,259.1 L328.4,257.3" stroke-width="0.93"/>
<path d="M427.8,263.6 L427.6,260.3 L432.1,268.4" stroke-width="1.29"/>
<path d="M435.6,284.5 L434.0,287.1 L434.2,283.8" stroke-width="1.21"/>
<path d="M338.7,279.6 L346.6,279.9 L350.5,278.4 L345.9,276.5" stroke-width="1.06"/>
<ellipse cx="388.7" cy="255.3" rx="1.5" ry="1.2" fill="#fff" stroke-width="1.04" transform="rotate(0 388.7 255.3)"/>
<ellipse cx="350.7" cy="255.6" rx="3.1" ry="2.1" fill="#fff" stroke-width="1.07" transform="rotate(25 350.7 255.6)"/>
<path d="M383.2,276.3 L377.8,274.2 L377.5,263.6" stroke-width="1.31"/>
<rect x="435.3" y="274.1" width="4.0" height="3.7" rx="0.8" fill="#fff" stroke-width="1.19" transform="rotate(-25 435.3 274.1) skewX(-20)"/>
<ellipse cx="339.1" cy="254.4" rx="2.7" ry="2.2" fill="#fff" stroke-width="1.23" transform="rotate(0 339.1 254.4)"/>
<path d="M362.2,260.8 L362.5,271.7" stroke-width="1.25"/>
<path d="M389.0,282.7 L396.2,280.0 L396.6,285.0" stroke-width="1.32"/>
<path d="M367.5,256.0 L372.6,253.3 L368.7,255.4" stroke-width="1.18"/>
<rect x="363.3" y="275.3" width="7.4" height="6.5" rx="0.8" fill="#fff" stroke-width="1.27" transform="rotate(25 363.3 275.3) skewX(-20)"/>
<path d="M441.0,262.8 L432.1,258.1 L425.9,258.0" stroke-width="1.31"/>
<ellipse cx="374.5" cy="251.9" rx="2.7" ry="2.2" fill="#fff" stroke-width="0.91" transform="rotate(25 374.5 251.9)"/>
<path d="M408.7,253.5 Q405.7,252.2 406.3,256.5" stroke-width="1.18"/>
<rect x="361.3" y="247.6" width="1.4" height="1.5" rx="0.6" fill="#222" stroke="none" transform="rotate(-25 361.3 247.6)"/>
<path d="M385.7,246.4 L378.1,243.2 L378.2,248.3 L383.0,246.5" stroke-width="0.96"/>
<ellipse cx="406.7" cy="252.0" rx="2.5" ry="1.9" fill="#fff" stroke-width="1.32" transform="rotate(25 406.7 252.0)"/>
<path d="M441.2,264.6 L441.2,257.2 L448.2,253.3 L450.5,249.7" stroke-width="1.02"/>
<path d="M383.7,246.5 L384.2,239.0 L389.1,248.3" stroke-width="1.03"/>
<rect x="423.5" y="289.2" width="1.5" height="1.7" rx="0.6" fill="#222" stroke="none" transform="rotate(-25 423.5 289.2)"/>
<path d="M419.3,285.3 L423.1,287.0 L427.8,294.6" stroke-width="1.04"/>
<path d="M351.5,269.0 L353.2,266.4 L353.2,259.3" stroke-width="1.25"/>
</g>
<path d="M410.5,183 L406,200 L415,217.5 L421,219 L427.5,218.5 L429.3,213.5 L430.5,223.5 L434.5,228 L437.5,236 L442.5,244.5 L447,258 L447.5,270 L445.5,279 L438,287.5 L425,293.5 L410,295.5 L383,294 L367.5,290.5 L358,284 L342,282.6 L335,281.2 L327,276.2 L297.7,274.8 L289,266.5 L281,255.5 L274.5,241 L270.4,226.4 L269.5,216 L258.5,213.1 L244,206.5" fill="none" stroke="#1a1a1a" stroke-width="1.21" />
<path d="M244.6,165.2 L243.3,172.5 L238,181.7 L237.3,187 L242.6,199.9 L243.9,206.5" fill="none" stroke="#1a1a1a" stroke-width="1.98" />
<path d="M244.6,165.2 L255.2,162.5 L271.8,166.5 L271.5,171.5 L257,169 L246.5,171.5 Z" fill="#fff" stroke="#1a1a1a" stroke-width="1.21" />
<path d="M249.9,146.6 L252.5,155.2 Q256,160.5 262.5,158.5 Q268,156.5 268.5,152.6 L267.8,144.6 Z" fill="#fff" stroke="#1a1a1a" stroke-width="1.21" />
<ellipse cx="257.9" cy="144.6" rx="8.2" ry="4.6" fill="#fff" stroke="#1a1a1a" stroke-width="1.21" transform="rotate(-18 257.9 144.6)"/>
<ellipse cx="257.2" cy="143.6" rx="1.6" ry="1" fill="none" stroke="#1a1a1a" stroke-width="0.88" transform="rotate(-18 257.2 143.6)"/>
<path d="M252.8,153 Q258,157 268,149.5" fill="none" stroke="#1a1a1a" stroke-width="0.99" />
<path d="M254.5,157.8 L266,153.2 M255,159.3 L267,154.6 M256,160.8 L268,156.2" fill="none" stroke="#1a1a1a" stroke-width="1.43" />
<path d="M251,159.5 Q249,162 252.5,163 L258,161" fill="none" stroke="#1a1a1a" stroke-width="1.21" />
<path d="M273.3,149.5 L270.4,152 L270,161.2" fill="none" stroke="#1a1a1a" stroke-width="1.1" />
<path d="M302,168.3 L293,169.3 Q280,171 275.5,179 Q273.3,187.5 280,193 Q286,196.8 296,196.3 L312.5,196 L312,188.3 L296,189 Q291,189.3 287,188 Q282.5,186 283,182 Q285,177.5 294,176.3 L302,175.5 Z" fill="#fff" stroke="#1a1a1a" stroke-width="1.21" />
<path d="M286,180.5 L295.5,178.8 L296.5,186.5 L288.5,186.8 Z" fill="#555" stroke="#1a1a1a" stroke-width="0.88" />
<path d="M297,189 L297,196.2 M299.4,188.9 L299.4,196.2 M301.8,188.8 L301.8,196.1 M304.2,188.7 L304.2,196.1 M306.6,188.6 L306.6,196 M309,188.5 L309,196 M311.4,188.4 L311.4,196" fill="none" stroke="#1a1a1a" stroke-width="0.94" />
<ellipse cx="297.8" cy="172.2" rx="2.4" ry="4.3" fill="#fff" stroke="#1a1a1a" stroke-width="1.21" transform="rotate(-8 297.8 172.2)"/>
<ellipse cx="300.2" cy="171.9" rx="2.4" ry="4.3" fill="none" stroke="#1a1a1a" stroke-width="1.1" transform="rotate(-8 300.2 171.9)"/>
<path d="M279,181 Q281,174.5 291,172.8" fill="none" stroke="#1a1a1a" stroke-width="0.88" />
<path d="M318.5,190.5 L318.5,204 L322,206 L326,202.5 L326,192 Z" fill="#fff" stroke="#1a1a1a" stroke-width="1.1" />
<path d="M322,193.5 L322,206" fill="none" stroke="#1a1a1a" stroke-width="0.99" />
<path d="M305,208.5 L327,211.5 Q331.5,214 331,219 Q330.5,224 326,225.5 L304,222.5 Q300.5,220 301,215 Q301.5,210 305,208.5Z" fill="#fff" stroke="#1a1a1a" stroke-width="1.21" />
<ellipse cx="326.3" cy="218.5" rx="3.6" ry="6.8" fill="none" stroke="#1a1a1a" stroke-width="1.1" transform="rotate(8 326.3 218.5)"/>
<path d="M310,209.3 L309,223.2 M314,209.8 L313,223.8" fill="none" stroke="#1a1a1a" stroke-width="0.99" />
<path d="M302.5,222 L306.8,248.5" fill="none" stroke="#1a1a1a" stroke-width="2.2" />
<path d="M296,215 L301,226" fill="none" stroke="#1a1a1a" stroke-width="1.54" />
<ellipse cx="342.5" cy="226.6" rx="8.3" ry="9.3" fill="#fff" stroke="#1a1a1a" stroke-width="1.32" transform="rotate(15 342.5 226.6)"/>
<ellipse cx="342.8" cy="226.8" rx="5.6" ry="6.6" fill="none" stroke="#1a1a1a" stroke-width="1.1" transform="rotate(15 342.8 226.8)"/>
<ellipse cx="343" cy="227" rx="2.6" ry="3.3" fill="none" stroke="#1a1a1a" stroke-width="1.1" transform="rotate(15 343 227)"/>
<path d="M336.5,205.5 Q345,207 347.5,216.5 M333.5,207 Q341.5,209 343.5,217" fill="none" stroke="#1a1a1a" stroke-width="1.1" />
<path d="M356,207 L366.6,220.6 L369.5,219.5 L359.5,205.5" fill="#fff" stroke="#1a1a1a" stroke-width="1.1" />
<path d="M362,223.6 L376,223.6 L376,231 L362,231 Z" fill="#fff" stroke="#1a1a1a" stroke-width="1.1" />
<path d="M364.5,226 L373.5,226 L373.5,229 L364.5,229Z" fill="none" stroke="#1a1a1a" stroke-width="0.88" />
<ellipse cx="362" cy="200.3" rx="2.4" ry="2" fill="#333" stroke="#1a1a1a" stroke-width="1.43"/>
<ellipse cx="371" cy="199.5" rx="2.6" ry="2.2" fill="#333" stroke="#1a1a1a" stroke-width="1.43"/>
<path d="M396.5,184 L404,182.3 Q408.5,183 408,186 L401,188.5 Q396.5,188 396.5,184Z" fill="#ddd" stroke="#1a1a1a" stroke-width="1.32" />
<ellipse cx="399.5" cy="186" rx="2.2" ry="2.4" fill="#333" stroke="#1a1a1a" stroke-width="1.32"/>
<path d="M386,190.5 L396,193 M384,193.5 L392,196" fill="none" stroke="#1a1a1a" stroke-width="1.1" />
<path d="M378,197.5 L405,199.5 L406,203 L379,201.5Z" fill="#fff" stroke="#1a1a1a" stroke-width="1.1" />
<path d="M377.7,206.6 Q378.3,202.5 382.3,203.4 L391.8,217.4 L387.2,220.6 Z" fill="#fff" stroke="#1a1a1a" stroke-width="1.21" />
<path d="M379.5,206.3 L389.0,219.3" fill="none" stroke="#1a1a1a" stroke-width="0.77" />
<path d="M384.3,205.2 Q384.7,201.1 388.7,201.8 L400.7,217.8 L396.3,221.2 Z" fill="#fff" stroke="#1a1a1a" stroke-width="1.21" />
<path d="M386.1,204.8 L398.1,219.8" fill="none" stroke="#1a1a1a" stroke-width="0.77" />
<path d="M392.4,205.3 Q392.6,201.2 396.6,201.7 L410.6,218.2 L406.4,221.8 Z" fill="#fff" stroke="#1a1a1a" stroke-width="1.21" />
<path d="M394.1,204.9 L408.1,220.4" fill="none" stroke="#1a1a1a" stroke-width="0.77" />
<path d="M399.3,204.7 Q399.6,200.6 403.7,201.3 L415.2,215.8 L410.8,219.2 Z" fill="#fff" stroke="#1a1a1a" stroke-width="1.21" />
<path d="M401.1,204.3 L412.6,217.8" fill="none" stroke="#1a1a1a" stroke-width="0.77" />
<path d="M428.3,219 L429.4,213.3 L430.6,223.5" fill="none" stroke="#1a1a1a" stroke-width="1.43" />
<path d="M286,246 L320,249.5 L322,271 L318.8,276 L297.5,275 L289,266.5 Z" fill="#fff" stroke="#1a1a1a" stroke-width="1.1" />
<path d="M294.6,247 L296.5,272 M297,247.5 L299.3,273.5 M302,248 L304.5,274 M305.5,248.5 L307.5,274.5 M310,249 L312,274.5 M313.5,249 L315.5,275 M318,249.5 L319.5,274" fill="none" stroke="#1a1a1a" stroke-width="1.21" />
<path d="M302.4,248.2 L324,250" fill="none" stroke="#1a1a1a" stroke-width="1.54" />
<path d="M281,255.5 L286,246 M274.5,241 L283,243 L286,246" fill="none" stroke="#1a1a1a" stroke-width="1.1" />
<path d="M328.7,242 L328.7,254 Q332,257.5 336.4,255.9 L336.4,244" fill="#fff" stroke="#1a1a1a" stroke-width="1.32" />
<path d="M331.2,246 L331.2,254 M333.8,246 L333.8,254.5" fill="none" stroke="#1a1a1a" stroke-width="1.1" />
<path d="M347.5,242.5 L357.5,243.5 Q360.5,244.5 360.4,247.5 L359.5,257.5 Q358.5,260 355.5,259.8 L347,258.5 Q345.3,257.5 345.6,254.5 L346.3,244.5 Q346.5,242.8 347.5,242.5Z" fill="#fff" stroke="#1a1a1a" stroke-width="1.54" />
<path d="M349.5,245.3 L356,246 Q357.8,246.6 357.7,248.5 L357,255.5 Q356.3,257.2 354.5,257 L349,256.2 Q347.8,255.5 348,253.8 L348.5,246.5 Q348.7,245.4 349.5,245.3Z" fill="none" stroke="#1a1a1a" stroke-width="1.21" />
<ellipse cx="352.8" cy="251" rx="2.7" ry="3.2" fill="none" stroke="#1a1a1a" stroke-width="1.32"/>
<ellipse cx="352.8" cy="251" rx="1" ry="1.3" fill="#333" stroke="#1a1a1a" stroke-width="1.1"/>
<path d="M320.9,257.5 Q326,262 330,268.5 L336.4,276 M341,262 Q350,263 352,270 Q347,276 341,276.5" fill="none" stroke="#1a1a1a" stroke-width="1.1" />
<path d="M338,279 Q352,272 364.2,279 M345,268 Q348,266 350,268.5" fill="none" stroke="#1a1a1a" stroke-width="0.99" />
<path d="M377.4,252.4 Q378.5,248 382,247.8 L411.4,260.2 L409.9,262.5 Q407,270 409,281 L405.2,272.5 L377.4,261 Q374.5,257 377.4,252.4Z" fill="#fff" stroke="#1a1a1a" stroke-width="1.21" />
<path d="M377.4,261 L372,262.5 L371.5,268 L377,272 L400,281" fill="#fff" stroke="#1a1a1a" stroke-width="1.1" />
<path d="M383,252 L404,261 M380,258 L400,267" fill="none" stroke="#1a1a1a" stroke-width="0.01" />
<path d="M369.6,264 L379,265 L379.5,272.5 L369.8,271Z" fill="#fff" stroke="#1a1a1a" stroke-width="1.1" />
<ellipse cx="380.5" cy="268.7" rx="3.8" ry="4.2" fill="#fff" stroke="#1a1a1a" stroke-width="1.21"/>
<ellipse cx="380.8" cy="268.8" rx="1.7" ry="2" fill="none" stroke="#1a1a1a" stroke-width="1.1"/>
<path d="M411.4,260.2 Q406,270 410.5,283.4 L417.6,282.6 L417.6,260.2 Z" fill="#fff" stroke="#1a1a1a" stroke-width="1.21" />
<path d="M413.5,260.5 Q408.5,271 413,283.2" fill="none" stroke="#1a1a1a" stroke-width="1.1" />
<path d="M417.6,261.5 Q424,257.5 436,259.3 Q445.5,262 446.8,272 Q446.8,282 438.5,286.5 Q428,290 417.6,284 Z" fill="#fff" stroke="#1a1a1a" stroke-width="1.21" />
<path d="M421,266 Q426,261.5 435,262.5 Q442.5,264.5 443.5,272.5 Q443.5,280 437,283.7" fill="none" stroke="#1a1a1a" stroke-width="0.99" />
<path d="M423.3,272.8 L429,281.8 L433.8,276.4 L437.3,269.3 M426,271.5 L429.7,277.6 L432,275 L435,268.3" fill="none" stroke="#1a1a1a" stroke-width="1.38" />
<path d="M417.8,266 L421,266 M417.8,271 L420.5,271 M417.8,276 L420.5,276.5 M418,281 L421,281.5 M437.5,260 L436.5,263 M444.5,265 L442,267" fill="none" stroke="#1a1a1a" stroke-width="0.99" />
<path d="M426,258.7 Q428.5,254.5 432.5,256 L433.5,259" fill="none" stroke="#1a1a1a" stroke-width="1.1" />
<path d="M368,285.7 L383,286.5 L411.4,291.9 L411,295 L383,293.8 L367.5,290.3Z" fill="#fff" stroke="#1a1a1a" stroke-width="1.1" />
<path d="M372,287.5 L372,291 M377,288 L377,292.3 M383,288.5 L383,293.5 M390,289.5 L390,294 M397,290.5 L397,294.6 M404,291.5 L404,295" fill="none" stroke="#1a1a1a" stroke-width="1.1" />
<polygon points="273,143 300,131 336,113 350,115 402,136 408,138 408,142 417,156 429,161.5 423,168 423,175 400,183 376,193 356,205.5 314,183 300.5,177 290,166 279,160 273,150" fill="#fff" stroke="none"/>
<path d="M273.3,149.5 L273.3,144.4 Q273.5,141.5 277.3,139.8 L323.6,118.6 L334,116.4 Q337,113.8 341,113.7 L350.1,115.3 L393.8,133.2 L407,137.8 L407,140.5 L401.1,140.5 L398.5,146.9 L408.4,151.5 L416.4,156.8 L428.3,161.5 L427.7,164.1 L422.4,164.8 L421,167.4" fill="none" stroke="#1a1a1a" stroke-width="1.21" />
<path d="M416.8,158.5 Q418.5,160.5 416,162.5 L399.2,170.7 L370,186 L358.2,194.3 L303.5,171.2" fill="none" stroke="#1a1a1a" stroke-width="1.21" />
<path d="M414.5,158 Q415.8,160 413.5,161.5 L398,168.6 L369,183.6 L360.9,191.5 L308.8,169.4" fill="none" stroke="#1a1a1a" stroke-width="0.99" />
<path d="M276,150 L282,147.5 L287.9,148.4 L336.9,123.2 L344.9,124.6 L372.6,136.5 L384.6,143.8 L415,156.3" fill="none" stroke="#1a1a1a" stroke-width="0.99" />
<path d="M274,149.2 L280.6,148.2 M276.5,141.5 L282,147.5" fill="none" stroke="#1a1a1a" stroke-width="0.88" />
<path d="M372.6,136.5 L393.8,133.2 M391.8,145.1 L400.4,137.8 L401.1,140.5 M391.8,145.1 L398.5,146.9" fill="none" stroke="#1a1a1a" stroke-width="0.99" />
<path d="M335.5,113.3 L339.5,112.9 L339.8,115.7 L335.8,116.1 Z" fill="none" stroke="#1a1a1a" stroke-width="1.43" />
<ellipse cx="286.5" cy="144.2" rx="3.6" ry="2.3" fill="none" stroke="#1a1a1a" stroke-width="1.21"/>
<ellipse cx="340.9" cy="121.3" rx="4" ry="2.4" fill="none" stroke="#1a1a1a" stroke-width="1.21"/>
<ellipse cx="378.6" cy="139.8" rx="4.6" ry="2.4" fill="#bbb" stroke="#1a1a1a" stroke-width="1.43"/>
<ellipse cx="352.1" cy="172.7" rx="3.6" ry="2.2" fill="none" stroke="#1a1a1a" stroke-width="1.21"/>
<path d="M337,122.5 Q341,125.5 345,122.3 M283.2,145.3 Q286.5,148 290,145" fill="none" stroke="#1a1a1a" stroke-width="0.88" />
<path d="M399.5,170 L316.8,139.6 Q316.5,137.3 321,135 L331.8,130 Q334.5,128.8 338,130 L371,142.5" fill="none" stroke="#1a1a1a" stroke-width="1.1" />
<path d="M386,169 L322.9,143.5 M322.9,137.8 L332.6,133 Q335,132 337.5,133" fill="none" stroke="#1a1a1a" stroke-width="0.99" />
<path d="M386.5,171.2 L412.9,159.7" fill="none" stroke="#1a1a1a" stroke-width="0.99" />
<path d="M333,134 L338.5,136 M350,137.5 L354.5,139.3 M366.5,144 L371.5,146 M382.5,151.5 L388.5,154 M400.5,159 L404,160.3" fill="none" stroke="#1a1a1a" stroke-width="0.99" />
<path d="M330,137.5 L337.5,140.6 M346,141.6 L352,144 M362,148.3 L369.5,151.5 M379,155.8 L387,159.2 M396.5,163 L401,164.7" fill="none" stroke="#1a1a1a" stroke-width="0.99" />
<path d="M337.6,137.8 l6.2,-5.2 q1.2,-0.8 2.4,-0.3 l4.6,2.1 q0.8,0.6 0,1.6 l-5.6,5.4 q-1.2,0.8 -2.2,0.2 Z" fill="#fff" stroke="#1a1a1a" stroke-width="1.26" />
<path d="M340.8,139.20000000000002 l6.3,-5.4" fill="none" stroke="#1a1a1a" stroke-width="0.83" />
<path d="M352.8,144.4 l6.2,-5.2 q1.2,-0.8 2.4,-0.3 l4.6,2.1 q0.8,0.6 0,1.6 l-5.6,5.4 q-1.2,0.8 -2.2,0.2 Z" fill="#fff" stroke="#1a1a1a" stroke-width="1.26" />
<path d="M356.0,145.8 l6.3,-5.4" fill="none" stroke="#1a1a1a" stroke-width="0.83" />
<path d="M370.0,152.4 l6.2,-5.2 q1.2,-0.8 2.4,-0.3 l4.6,2.1 q0.8,0.6 0,1.6 l-5.6,5.4 q-1.2,0.8 -2.2,0.2 Z" fill="#fff" stroke="#1a1a1a" stroke-width="1.26" />
<path d="M373.2,153.8 l6.3,-5.4" fill="none" stroke="#1a1a1a" stroke-width="0.83" />
<path d="M387.2,160.3 l6.2,-5.2 q1.2,-0.8 2.4,-0.3 l4.6,2.1 q0.8,0.6 0,1.6 l-5.6,5.4 q-1.2,0.8 -2.2,0.2 Z" fill="#fff" stroke="#1a1a1a" stroke-width="1.26" />
<path d="M390.4,161.70000000000002 l6.3,-5.4" fill="none" stroke="#1a1a1a" stroke-width="0.83" />
<path d="M300.5,177 L314,183 L354.6,205.5 L357.6,203.3 L376,192.8 L398,182.5" fill="none" stroke="#1a1a1a" stroke-width="1.21" />
<path d="M302.8,171.8 L356,197.3 L376,186.8" fill="none" stroke="#1a1a1a" stroke-width="0.99" />
<path d="M358.2,194.3 L357.6,203.3" fill="none" stroke="#1a1a1a" stroke-width="0.99" />
<path d="M270,161.2 L299.8,149.9 L305.7,149.9 L329.6,161.9 L312.4,171.8 L301.8,166.8 L301.8,161.5 L284.5,163.8 L283.2,170 L271,166.5 Z" fill="#fff" stroke="#1a1a1a" stroke-width="1.16" />
<path d="M280.6,159.9 L299.1,155.2 L311,159.2 L305.7,168.3 M299.1,155.2 L299.8,149.9 M284.5,163.8 L280.6,159.9" fill="none" stroke="#1a1a1a" stroke-width="0.99" />
<path d="M329.6,161.9 L345,168.5" fill="none" stroke="#1a1a1a" stroke-width="0.99" />
<path d="M321.8,171 Q321.8,168.6 326.5,168.3 L364.6,184.2 Q366,186 364,188.3 L360.3,190.4 Q358.5,191 357,190.4 L322.8,174.3 Q321.8,173 321.8,171Z" fill="none" stroke="#1a1a1a" stroke-width="1.1" />
<path d="M325.3,170.7 L327.5,169.7 L362,185.2 L360,188.2 L325.3,172.4Z" fill="none" stroke="#1a1a1a" stroke-width="0.88" />
<text transform="matrix(0.905,0.41,-0.40,0.42,327.2,175.2)" font-size="9.4" font-weight="bold" fill="#fff" stroke="#111" stroke-width="0.9" style="letter-spacing:0.1px">i-VTEC</text>
<text transform="matrix(0.90,0.43,-0.45,0.40,304.4,145.6)" font-size="8.8" font-weight="bold" stroke="#111" stroke-width="0.8" style="letter-spacing:0.3px">HONDA</text>
<path d="M398.5,173.4 L421,167.4 L422.4,173.4 L421,176 L401.2,182 L397.8,179.4 Z" fill="#fff" stroke="#1a1a1a" stroke-width="1.16" />
<path d="M399,175.5 L421.6,169.8" fill="none" stroke="#1a1a1a" stroke-width="0.88" />
</g>
</svg>
</body></html>
